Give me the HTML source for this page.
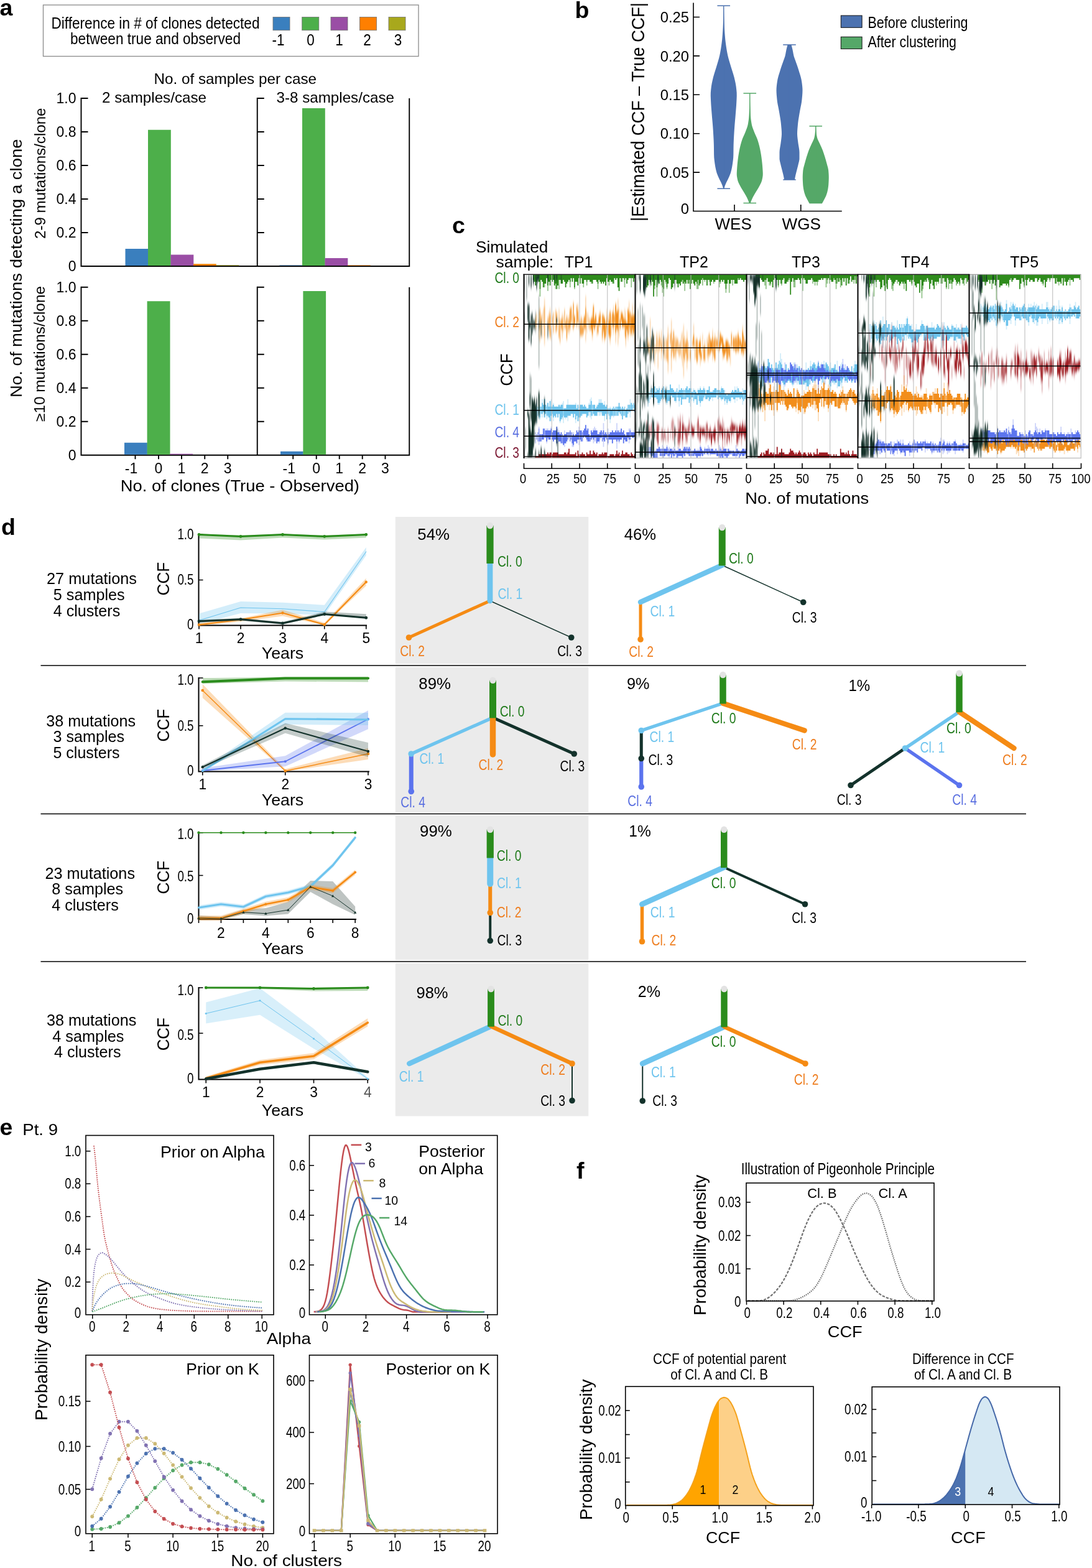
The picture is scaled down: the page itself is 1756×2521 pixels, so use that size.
<!DOCTYPE html>
<html lang="en"><head><meta charset="utf-8"><title>Figure</title>
<style>html,body{margin:0;padding:0;background:#fff}svg{display:block}text{font-family:"Liberation Sans",sans-serif}</style>
</head><body>
<svg width="1756" height="2521" viewBox="0 0 1756 2521">
<defs><filter id="b1" x="-5%" y="-50%" width="110%" height="200%"><feGaussianBlur stdDeviation="0.3 0.6"/></filter><filter id="b2" x="-5%" y="-50%" width="110%" height="200%"><feGaussianBlur stdDeviation="0.4 3.2"/></filter><filter id="b3" x="-5%" y="-50%" width="110%" height="200%"><feGaussianBlur stdDeviation="0.5 4"/></filter><filter id="b4" x="-5%" y="-5%" width="110%" height="110%"><feGaussianBlur stdDeviation="0.5 5"/></filter></defs>
<rect width="1756" height="2521" fill="#fff"/>
<g id="panel-a">
<text font-size="37.5" x="-0.5" y="24.5" font-weight="bold">a</text>
<rect x="69.5" y="8" width="603.5" height="82.5" fill="#fff" stroke="#8a8a8a" stroke-width="1.3"/>
<text x="82.5" y="46" font-size="26" textLength="335" lengthAdjust="spacingAndGlyphs">Difference in # of clones detected</text>
<text x="113" y="71" font-size="26" textLength="274" lengthAdjust="spacingAndGlyphs">between true and observed</text>
<rect x="439" y="27.5" width="27" height="21.2" fill="#3A7FBE" stroke="#6f6f6f" stroke-width="0.8"/>
<rect x="485.75" y="27.5" width="27" height="21.2" fill="#4DAF4A" stroke="#6f6f6f" stroke-width="0.8"/>
<rect x="532" y="27.5" width="27" height="21.2" fill="#9A4EA5" stroke="#6f6f6f" stroke-width="0.8"/>
<rect x="578.5" y="27.5" width="27" height="21.2" fill="#FF7F00" stroke="#6f6f6f" stroke-width="0.8"/>
<rect x="625" y="27.5" width="27" height="21.2" fill="#A8A81C" stroke="#6f6f6f" stroke-width="0.8"/>
<text text-anchor="middle" font-size="25" transform="translate(447.5,72.5) scale(0.9,1)">-1</text>
<text text-anchor="middle" font-size="25" transform="translate(499.6,72.5) scale(0.9,1)">0</text>
<text text-anchor="middle" font-size="25" transform="translate(545.6,72.5) scale(0.9,1)">1</text>
<text text-anchor="middle" font-size="25" transform="translate(590.4,72.5) scale(0.9,1)">2</text>
<text text-anchor="middle" font-size="25" transform="translate(640,72.5) scale(0.9,1)">3</text>
<text x="247.5" y="135" font-size="24" textLength="261.5" lengthAdjust="spacingAndGlyphs">No. of samples per case</text>
<text x="164" y="164.5" font-size="24" textLength="168" lengthAdjust="spacingAndGlyphs">2 samples/case</text>
<text x="444.5" y="164.5" font-size="24" textLength="189.5" lengthAdjust="spacingAndGlyphs">3-8 samples/case</text>
<path d="M130.5 157V428H659.2M413.75 157V428M658.25 158V428" fill="none" stroke="#000" stroke-width="1.9"/>
<path d="M130.5 158h11M130.5 212h11M130.5 266h11M130.5 320h11M130.5 374h11" fill="none" stroke="#000" stroke-width="1.9"/>
<path d="M413.75 158h11M413.75 212h11M413.75 266h11M413.75 320h11M413.75 374h11" fill="none" stroke="#000" stroke-width="1.9"/>
<text text-anchor="end" font-size="23" x="122.5" y="166.2">1.0</text>
<text text-anchor="end" font-size="23" x="122.5" y="220.2">0.8</text>
<text text-anchor="end" font-size="23" x="122.5" y="274.2">0.6</text>
<text text-anchor="end" font-size="23" x="122.5" y="328.2">0.4</text>
<text text-anchor="end" font-size="23" x="122.5" y="382.2">0.2</text>
<text text-anchor="end" font-size="23" x="122.5" y="436.2">0</text>
<path d="M130.5 460.75V731.75H659.2M413.75 460.75V731.75M658.25 461.75V731.75" fill="none" stroke="#000" stroke-width="1.9"/>
<path d="M130.5 461.75h11M130.5 515.75h11M130.5 569.75h11M130.5 623.75h11M130.5 677.75h11" fill="none" stroke="#000" stroke-width="1.9"/>
<path d="M413.75 461.75h11M413.75 515.75h11M413.75 569.75h11M413.75 623.75h11M413.75 677.75h11" fill="none" stroke="#000" stroke-width="1.9"/>
<text text-anchor="end" font-size="23" x="122.5" y="469.95">1.0</text>
<text text-anchor="end" font-size="23" x="122.5" y="523.95">0.8</text>
<text text-anchor="end" font-size="23" x="122.5" y="577.95">0.6</text>
<text text-anchor="end" font-size="23" x="122.5" y="631.95">0.4</text>
<text text-anchor="end" font-size="23" x="122.5" y="685.95">0.2</text>
<text text-anchor="end" font-size="23" x="122.5" y="739.95">0</text>
<rect x="201.5" y="400" width="36.8" height="27.1" fill="#3A7FBE"/>
<rect x="238" y="208.75" width="36.8" height="218.35" fill="#4DAF4A"/>
<rect x="274.5" y="409.5" width="36.8" height="17.6" fill="#9A4EA5"/>
<rect x="311" y="424.3" width="36.8" height="2.8" fill="#FF7F00"/>
<rect x="347.5" y="426.3" width="36.8" height="0.8" fill="#A8A81C"/>
<rect x="449.5" y="426.4" width="36.8" height="0.7" fill="#3A7FBE"/>
<rect x="486" y="174" width="36.8" height="253.1" fill="#4DAF4A"/>
<rect x="522.5" y="415" width="36.8" height="12.1" fill="#9A4EA5"/>
<rect x="559" y="426.4" width="36.8" height="0.7" fill="#FF7F00"/>
<rect x="200" y="711.75" width="36.9" height="19.1" fill="#3A7FBE"/>
<rect x="236.6" y="484.25" width="36.9" height="246.6" fill="#4DAF4A"/>
<rect x="273.2" y="729.6" width="36.9" height="1.25" fill="#9A4EA5"/>
<rect x="451" y="725.75" width="36.7" height="5.1" fill="#3A7FBE"/>
<rect x="487.4" y="468" width="36.7" height="262.85" fill="#4DAF4A"/>
<path d="M217.5 731.75v6.5M255 731.75v6.5M292 731.75v6.5M329.25 731.75v6.5M366.25 731.75v6.5M471.25 731.75v6.5M508.75 731.75v6.5M545.75 731.75v6.5M582.75 731.75v6.5M619.5 731.75v6.5" fill="none" stroke="#000" stroke-width="1.9"/>
<text text-anchor="middle" font-size="23" x="211" y="761.25">-1</text>
<text text-anchor="middle" font-size="23" x="255" y="761.25">0</text>
<text text-anchor="middle" font-size="23" x="292" y="761.25">1</text>
<text text-anchor="middle" font-size="23" x="329.25" y="761.25">2</text>
<text text-anchor="middle" font-size="23" x="366.25" y="761.25">3</text>
<text text-anchor="middle" font-size="23" x="464.75" y="761.25">-1</text>
<text text-anchor="middle" font-size="23" x="508.75" y="761.25">0</text>
<text text-anchor="middle" font-size="23" x="545.75" y="761.25">1</text>
<text text-anchor="middle" font-size="23" x="582.75" y="761.25">2</text>
<text text-anchor="middle" font-size="23" x="619.5" y="761.25">3</text>
<text x="193.75" y="790" font-size="25" textLength="384.25" lengthAdjust="spacingAndGlyphs">No. of clones (True - Observed)</text>
<text transform="translate(35,639) rotate(-90)" font-size="26" textLength="415.5" lengthAdjust="spacingAndGlyphs">No. of mutations detecting a clone</text>
<text transform="translate(72.5,384) rotate(-90)" font-size="23" textLength="210.5" lengthAdjust="spacingAndGlyphs">2-9 mutations/clone</text>
<text transform="translate(72,678) rotate(-90)" font-size="23" textLength="218" lengthAdjust="spacingAndGlyphs">≥10 mutations/clone</text>
</g>
<g id="panel-b">
<text font-size="37.5" x="924.5" y="28.75" font-weight="bold">b</text>
<path d="M1115 4.5V339.5H1353.75" fill="none" stroke="#000" stroke-width="1.6"/>
<path d="M1115 277.1h10M1115 214.7h10M1115 152.3h10M1115 89.9h10M1115 27.5h10" fill="none" stroke="#000" stroke-width="1.6"/>
<text text-anchor="end" font-size="24.5" transform="translate(1108,343.5) scale(0.97,1)">0</text>
<text text-anchor="end" font-size="24.5" transform="translate(1108,285.7) scale(0.97,1)">0.05</text>
<text text-anchor="end" font-size="24.5" transform="translate(1108,223.3) scale(0.97,1)">0.10</text>
<text text-anchor="end" font-size="24.5" transform="translate(1108,160.9) scale(0.97,1)">0.15</text>
<text text-anchor="end" font-size="24.5" transform="translate(1108,98.5) scale(0.97,1)">0.20</text>
<text text-anchor="end" font-size="24.5" transform="translate(1108,36.1) scale(0.97,1)">0.25</text>
<path d="M1181 339.5v-10.5M1287.75 339.5v-10.5" fill="none" stroke="#000" stroke-width="1.6"/>
<text x="1149.5" y="368.75" font-size="26" textLength="59.25" lengthAdjust="spacingAndGlyphs">WES</text>
<text x="1257.5" y="368.75" font-size="26" textLength="62.5" lengthAdjust="spacingAndGlyphs">WGS</text>
<text transform="translate(1036,356) rotate(-90)" font-size="29" textLength="352" lengthAdjust="spacingAndGlyphs">|Estimated CCF – True CCF|</text>
<rect x="1352.3" y="25" width="33.8" height="19.3" fill="#4C72B0" stroke="#111" stroke-width="1"/>
<rect x="1352.3" y="59.3" width="33.8" height="19.3" fill="#55A868" stroke="#111" stroke-width="1"/>
<text x="1395.5" y="45" font-size="26" textLength="161" lengthAdjust="spacingAndGlyphs">Before clustering</text>
<text x="1395.5" y="76.25" font-size="26" textLength="142.5" lengthAdjust="spacingAndGlyphs">After clustering</text>
<polygon points="1163.45,9.25 1163.42,14.23 1163.35,19.22 1163.24,24.2 1163.1,29.18 1162.95,34.17 1162.78,39.15 1162.58,44.13 1162.32,49.11 1162,54.1 1161.62,59.08 1161.17,64.06 1160.57,69.05 1159.89,74.03 1159.14,79.01 1158.26,84 1157.25,88.98 1156.01,93.96 1154.56,98.94 1153.06,103.93 1151.56,108.91 1149.97,113.89 1148.42,118.88 1147.03,123.86 1145.84,128.84 1144.75,133.83 1143.9,138.81 1143.31,143.79 1142.85,148.78 1142.76,153.76 1142.93,158.74 1143.18,163.72 1143.46,168.71 1143.83,173.69 1144.23,178.67 1144.64,183.66 1145.04,188.64 1145.47,193.62 1145.9,198.61 1146.3,203.59 1146.66,208.57 1146.96,213.56 1147.26,218.54 1147.53,223.52 1147.75,228.5 1147.92,233.49 1148,238.47 1148.05,243.45 1148.12,248.44 1148.32,253.42 1148.84,258.4 1149.52,263.39 1150.29,268.37 1151.32,273.35 1152.65,278.33 1154.62,283.32 1156.89,288.3 1159.48,293.28 1161.61,298.27 1163.15,303.25 1164.35,303.25 1165.89,298.27 1168.02,293.28 1170.61,288.3 1172.88,283.32 1174.85,278.33 1176.18,273.35 1177.21,268.37 1177.98,263.39 1178.66,258.4 1179.18,253.42 1179.38,248.44 1179.45,243.45 1179.5,238.47 1179.58,233.49 1179.75,228.5 1179.97,223.52 1180.24,218.54 1180.54,213.56 1180.84,208.57 1181.2,203.59 1181.6,198.61 1182.03,193.62 1182.46,188.64 1182.86,183.66 1183.27,178.67 1183.67,173.69 1184.04,168.71 1184.32,163.72 1184.57,158.74 1184.74,153.76 1184.65,148.78 1184.19,143.79 1183.6,138.81 1182.75,133.83 1181.66,128.84 1180.47,123.86 1179.08,118.88 1177.53,113.89 1175.94,108.91 1174.44,103.93 1172.94,98.94 1171.49,93.96 1170.25,88.98 1169.24,84 1168.36,79.01 1167.61,74.03 1166.93,69.05 1166.33,64.06 1165.88,59.08 1165.5,54.1 1165.18,49.11 1164.92,44.13 1164.72,39.15 1164.55,34.17 1164.4,29.18 1164.26,24.2 1164.15,19.22 1164.08,14.23 1164.05,9.25" fill="#4C72B0"/>
<path d="M1163.75 9.25V303.25M1153.45 9.25h20.6M1153.45 303.25h20.6" fill="none" stroke="#4C72B0" stroke-width="1.3"/>
<polygon points="1205.45,150 1205.44,152.99 1205.42,155.98 1205.38,158.97 1205.33,161.97 1205.27,164.96 1205.19,167.95 1205.1,170.94 1205,173.93 1204.89,176.92 1204.77,179.92 1204.65,182.91 1204.5,185.9 1204.28,188.89 1203.97,191.88 1203.58,194.87 1203.12,197.86 1202.58,200.86 1201.77,203.85 1200.73,206.84 1199.58,209.83 1198.43,212.82 1197.16,215.81 1195.79,218.81 1194.46,221.8 1193.32,224.79 1192.37,227.78 1191.49,230.77 1190.69,233.76 1189.96,236.75 1189.3,239.75 1188.71,242.74 1188.15,245.73 1187.65,248.72 1187.19,251.71 1186.79,254.7 1186.42,257.69 1186.08,260.69 1185.77,263.68 1185.5,266.67 1185.27,269.66 1185.07,272.65 1184.88,275.64 1184.76,278.64 1184.81,281.63 1185.16,284.62 1185.72,287.61 1186.4,290.6 1187.48,293.59 1188.95,296.58 1190.53,299.58 1192.18,302.57 1194.02,305.56 1195.89,308.55 1197.66,311.54 1199.41,314.53 1201.02,317.53 1202.41,320.52 1203.66,323.51 1204.75,326.5 1206.75,326.5 1207.84,323.51 1209.09,320.52 1210.48,317.53 1212.09,314.53 1213.84,311.54 1215.61,308.55 1217.48,305.56 1219.32,302.57 1220.97,299.58 1222.55,296.58 1224.02,293.59 1225.1,290.6 1225.78,287.61 1226.34,284.62 1226.69,281.63 1226.74,278.64 1226.62,275.64 1226.43,272.65 1226.23,269.66 1226,266.67 1225.73,263.68 1225.42,260.69 1225.08,257.69 1224.71,254.7 1224.31,251.71 1223.85,248.72 1223.35,245.73 1222.79,242.74 1222.2,239.75 1221.54,236.75 1220.81,233.76 1220.01,230.77 1219.13,227.78 1218.18,224.79 1217.04,221.8 1215.71,218.81 1214.34,215.81 1213.07,212.82 1211.92,209.83 1210.77,206.84 1209.73,203.85 1208.92,200.86 1208.38,197.86 1207.92,194.87 1207.53,191.88 1207.22,188.89 1207,185.9 1206.85,182.91 1206.73,179.92 1206.61,176.92 1206.5,173.93 1206.4,170.94 1206.31,167.95 1206.23,164.96 1206.17,161.97 1206.12,158.97 1206.08,155.98 1206.06,152.99 1206.05,150" fill="#55A868"/>
<path d="M1205.75 150V326.5M1195.45 150h20.6M1195.45 326.5h20.6" fill="none" stroke="#55A868" stroke-width="1.3"/>
<polygon points="1266.5,72 1265.53,75.68 1264.65,79.36 1263.89,83.03 1263.22,86.71 1262.4,90.39 1261.21,94.07 1259.82,97.75 1258.51,101.42 1257.24,105.1 1255.98,108.78 1254.78,112.46 1253.66,116.14 1252.52,119.81 1251.44,123.49 1250.52,127.17 1249.88,130.85 1249.35,134.53 1248.9,138.2 1248.59,141.88 1248.5,145.56 1248.61,149.24 1248.85,152.92 1249.18,156.59 1249.53,160.27 1249.99,163.95 1250.62,167.63 1251.34,171.31 1252.08,174.98 1252.77,178.66 1253.39,182.34 1254.01,186.02 1254.63,189.69 1255.2,193.37 1255.69,197.05 1256.07,200.73 1256.41,204.41 1256.71,208.08 1256.93,211.76 1257,215.44 1256.82,219.12 1256.43,222.8 1255.95,226.47 1255.48,230.15 1254.93,233.83 1254.28,237.51 1253.74,241.19 1253.5,244.86 1253.5,248.54 1253.5,252.22 1253.53,255.9 1254.12,259.58 1255.07,263.25 1255.95,266.93 1256.87,270.61 1257.82,274.29 1258.78,277.97 1259.71,281.64 1260.43,285.32 1261,289 1278,289 1278.57,285.32 1279.29,281.64 1280.22,277.97 1281.18,274.29 1282.13,270.61 1283.05,266.93 1283.93,263.25 1284.88,259.58 1285.47,255.9 1285.5,252.22 1285.5,248.54 1285.5,244.86 1285.26,241.19 1284.72,237.51 1284.07,233.83 1283.52,230.15 1283.05,226.47 1282.57,222.8 1282.18,219.12 1282,215.44 1282.07,211.76 1282.29,208.08 1282.59,204.41 1282.93,200.73 1283.31,197.05 1283.8,193.37 1284.37,189.69 1284.99,186.02 1285.61,182.34 1286.23,178.66 1286.92,174.98 1287.66,171.31 1288.38,167.63 1289.01,163.95 1289.47,160.27 1289.82,156.59 1290.15,152.92 1290.39,149.24 1290.5,145.56 1290.41,141.88 1290.1,138.2 1289.65,134.53 1289.12,130.85 1288.48,127.17 1287.56,123.49 1286.48,119.81 1285.34,116.14 1284.22,112.46 1283.02,108.78 1281.76,105.1 1280.49,101.42 1279.18,97.75 1277.79,94.07 1276.6,90.39 1275.78,86.71 1275.11,83.03 1274.35,79.36 1273.47,75.68 1272.5,72" fill="#4C72B0"/>
<path d="M1269.5 72V289M1259.2 72h20.6M1259.2 289h20.6" fill="none" stroke="#4C72B0" stroke-width="1.3"/>
<polygon points="1311.25,202.75 1311.22,204.85 1311.15,206.94 1311.03,209.04 1310.88,211.14 1310.71,213.24 1310.52,215.33 1310.24,217.43 1309.84,219.53 1309.35,221.63 1308.69,223.72 1307.77,225.82 1306.74,227.92 1305.74,230.02 1304.79,232.11 1303.81,234.21 1302.83,236.31 1301.91,238.41 1301.05,240.5 1300.26,242.6 1299.51,244.7 1298.79,246.8 1298.11,248.89 1297.44,250.99 1296.78,253.09 1296.15,255.19 1295.54,257.28 1294.95,259.38 1294.39,261.48 1293.83,263.58 1293.24,265.67 1292.65,267.77 1292.12,269.87 1291.67,271.97 1291.34,274.06 1291.16,276.16 1291.01,278.26 1290.88,280.36 1290.79,282.45 1290.75,284.55 1290.76,286.65 1290.81,288.75 1290.89,290.84 1291,292.94 1291.12,295.04 1291.26,297.14 1291.45,299.23 1291.72,301.33 1292.06,303.43 1292.45,305.53 1292.88,307.62 1293.43,309.72 1294.09,311.82 1294.84,313.92 1295.68,316.01 1296.71,318.11 1297.83,320.21 1298.94,322.31 1300.08,324.4 1301.25,326.5 1322.25,326.5 1323.42,324.4 1324.56,322.31 1325.67,320.21 1326.79,318.11 1327.82,316.01 1328.66,313.92 1329.41,311.82 1330.07,309.72 1330.62,307.62 1331.05,305.53 1331.44,303.43 1331.78,301.33 1332.05,299.23 1332.24,297.14 1332.38,295.04 1332.5,292.94 1332.61,290.84 1332.69,288.75 1332.74,286.65 1332.75,284.55 1332.71,282.45 1332.62,280.36 1332.49,278.26 1332.34,276.16 1332.16,274.06 1331.83,271.97 1331.38,269.87 1330.85,267.77 1330.26,265.67 1329.67,263.58 1329.11,261.48 1328.55,259.38 1327.96,257.28 1327.35,255.19 1326.72,253.09 1326.06,250.99 1325.39,248.89 1324.71,246.8 1323.99,244.7 1323.24,242.6 1322.45,240.5 1321.59,238.41 1320.67,236.31 1319.69,234.21 1318.71,232.11 1317.76,230.02 1316.76,227.92 1315.73,225.82 1314.81,223.72 1314.15,221.63 1313.66,219.53 1313.26,217.43 1312.98,215.33 1312.79,213.24 1312.62,211.14 1312.47,209.04 1312.35,206.94 1312.28,204.85 1312.25,202.75" fill="#55A868"/>
<path d="M1311.75 202.75V326.5M1301.45 202.75h20.6M1301.45 326.5h20.6" fill="none" stroke="#55A868" stroke-width="1.3"/>
</g>
<g id="panel-c">
<text font-size="37.5" x="727" y="375" font-weight="bold">c</text>
<text x="765" y="405.75" font-size="25" textLength="116.25" lengthAdjust="spacingAndGlyphs">Simulated</text>
<text x="797.5" y="429.5" font-size="25" textLength="92.5" lengthAdjust="spacingAndGlyphs">sample:</text>
<text text-anchor="middle" font-size="25" x="930.6" y="429.8">TP1</text>
<text text-anchor="middle" font-size="25" x="1116" y="429.8">TP2</text>
<text text-anchor="middle" font-size="25" x="1296" y="429.8">TP3</text>
<text text-anchor="middle" font-size="25" x="1471.75" y="429.8">TP4</text>
<text text-anchor="middle" font-size="25" x="1647.25" y="429.8">TP5</text>
<text transform="translate(823.75,620.5) rotate(-90)" font-size="28" textLength="52" lengthAdjust="spacingAndGlyphs">CCF</text>
<text x="795.5" y="454.5" font-size="23.5" textLength="39.5" lengthAdjust="spacingAndGlyphs" fill="#1F7A1A">Cl. 0</text>
<text x="795.5" y="525.5" font-size="23.5" textLength="39.5" lengthAdjust="spacingAndGlyphs" fill="#EE7D1E">Cl. 2</text>
<text x="795.5" y="667" font-size="23.5" textLength="39.5" lengthAdjust="spacingAndGlyphs" fill="#6DC3EC">Cl. 1</text>
<text x="795.5" y="703" font-size="23.5" textLength="39.5" lengthAdjust="spacingAndGlyphs" fill="#5A6FE0">Cl. 4</text>
<text x="795.5" y="735.5" font-size="23.5" textLength="39.5" lengthAdjust="spacingAndGlyphs" fill="#7A1530">Cl. 3</text>
<clipPath id="cc"><rect x="842.5" y="441.25" width="895" height="295.25"/></clipPath>
<g clip-path="url(#cc)">
<path d="M867.56 464.85h1.79V476.65h-1.79zM874.72 456h1.79V461.9h-1.79zM880.09 458.95h1.79V467.8h-1.79zM892.62 456h1.79V464.85h-1.79zM897.99 450.1h1.79V464.85h-1.79zM915.89 453.05h1.79V461.9h-1.79zM923.05 461.9h1.79V464.85h-1.79zM937.37 456h1.79V461.9h-1.79zM942.74 453.05h1.79V458.95h-1.79zM949.9 453.05h1.79V456h-1.79zM960.64 456h1.79V464.85h-1.79zM978.54 453.05h1.79V458.95h-1.79zM983.91 453.05h1.79V456h-1.79zM1000.02 447.15h1.79V453.05h-1.79zM1003.6 450.1h1.79V461.9h-1.79zM1014.34 447.15h1.79V461.9h-1.79z" fill="#2E8B1F" opacity="0.5" filter="url(#b1)"/>
<path d="M856.82 441.25h1.79V450.1h-1.79zM858.61 441.25h1.79V453.05h-1.79zM860.4 441.25h1.79V458.95h-1.79zM862.19 441.25h1.79V453.05h-1.79zM863.98 441.25h1.79V447.15h-1.79zM865.77 441.25h1.79V453.05h-1.79zM867.56 441.25h1.79V464.85h-1.79zM869.35 441.25h1.79V450.1h-1.79zM871.14 441.25h1.79V453.05h-1.79zM872.93 441.25h1.79V461.9h-1.79zM874.72 441.25h1.79V456h-1.79zM876.51 441.25h1.79V456h-1.79zM878.3 441.25h1.79V447.15h-1.79zM880.09 441.25h1.79V458.95h-1.79zM881.88 441.25h1.79V453.05h-1.79zM883.67 441.25h1.79V458.95h-1.79zM885.46 441.25h1.79V450.1h-1.79zM887.25 441.25h1.79V453.05h-1.79zM889.04 441.25h1.79V450.1h-1.79zM890.83 441.25h1.79V458.95h-1.79zM892.62 441.25h1.79V456h-1.79zM894.41 441.25h1.79V464.85h-1.79zM896.2 441.25h1.79V458.95h-1.79zM897.99 441.25h1.79V450.1h-1.79zM899.78 441.25h1.79V450.1h-1.79zM901.57 441.25h1.79V456h-1.79zM903.36 441.25h1.79V456h-1.79zM905.15 441.25h1.79V450.1h-1.79zM906.94 441.25h1.79V453.05h-1.79zM908.73 441.25h1.79V461.9h-1.79zM910.52 441.25h1.79V456h-1.79zM912.31 441.25h1.79V453.05h-1.79zM914.1 441.25h1.79V450.1h-1.79zM915.89 441.25h1.79V453.05h-1.79zM917.68 441.25h1.79V447.15h-1.79zM919.47 441.25h1.79V453.05h-1.79zM921.26 441.25h1.79V447.15h-1.79zM923.05 441.25h1.79V461.9h-1.79zM924.84 441.25h1.79V453.05h-1.79zM926.63 441.25h1.79V453.05h-1.79zM928.42 441.25h1.79V458.95h-1.79zM930.21 441.25h1.79V447.15h-1.79zM932 441.25h1.79V456h-1.79zM933.79 441.25h1.79V447.15h-1.79zM935.58 441.25h1.79V456h-1.79zM937.37 441.25h1.79V456h-1.79zM939.16 441.25h1.79V450.1h-1.79zM940.95 441.25h1.79V450.1h-1.79zM942.74 441.25h1.79V453.05h-1.79zM944.53 441.25h1.79V450.1h-1.79zM946.32 441.25h1.79V450.1h-1.79zM948.11 441.25h1.79V453.05h-1.79zM949.9 441.25h1.79V453.05h-1.79zM951.69 441.25h1.79V456h-1.79zM953.48 441.25h1.79V450.1h-1.79zM955.27 441.25h1.79V450.1h-1.79zM957.06 441.25h1.79V450.1h-1.79zM958.85 441.25h1.79V453.05h-1.79zM960.64 441.25h1.79V456h-1.79zM962.43 441.25h1.79V450.1h-1.79zM964.22 441.25h1.79V453.05h-1.79zM966.01 441.25h1.79V456h-1.79zM967.8 441.25h1.79V453.05h-1.79zM969.59 441.25h1.79V456h-1.79zM971.38 441.25h1.79V453.05h-1.79zM973.17 441.25h1.79V458.95h-1.79zM974.96 441.25h1.79V447.15h-1.79zM976.75 441.25h1.79V453.05h-1.79zM978.54 441.25h1.79V453.05h-1.79zM980.33 441.25h1.79V450.1h-1.79zM982.12 441.25h1.79V453.05h-1.79zM983.91 441.25h1.79V453.05h-1.79zM985.7 441.25h1.79V456h-1.79zM987.49 441.25h1.79V447.15h-1.79zM989.28 441.25h1.79V450.1h-1.79zM991.07 441.25h1.79V447.15h-1.79zM992.86 441.25h1.79V461.9h-1.79zM994.65 441.25h1.79V467.8h-1.79zM996.44 441.25h1.79V447.15h-1.79zM998.23 441.25h1.79V453.05h-1.79zM1000.02 441.25h1.79V447.15h-1.79zM1001.81 441.25h1.79V447.15h-1.79zM1003.6 441.25h1.79V450.1h-1.79zM1005.39 441.25h1.79V447.15h-1.79zM1007.18 441.25h1.79V456h-1.79zM1008.97 441.25h1.79V450.1h-1.79zM1010.76 441.25h1.79V447.15h-1.79zM1012.55 441.25h1.79V447.15h-1.79zM1014.34 441.25h1.79V447.15h-1.79zM1016.13 441.25h1.79V447.15h-1.79zM1017.92 441.25h1.79V453.05h-1.79zM1019.71 441.25h1.79V447.15h-1.79z" fill="#2E8B1F" filter="url(#b1)"/>
<path d="M860.4 508.7h1.79V524.74h-1.79zM862.19 504.33h1.79V527.48h-1.79zM865.77 499.55h1.79V544.53h-1.79zM867.56 494.24h1.79V550.37h-1.79zM869.35 512.36h1.79V538.35h-1.79zM871.14 504.38h1.79V542.72h-1.79zM872.93 496.22h1.79V526.04h-1.79zM874.72 480.45h1.79V554.85h-1.79zM881.88 501.71h1.79V524.99h-1.79zM883.67 495.27h1.79V536.17h-1.79zM885.46 528.22h1.79V546.79h-1.79zM897.99 496.94h1.79V539.44h-1.79zM903.36 503.66h1.79V543.46h-1.79zM905.15 508.55h1.79V533.24h-1.79zM914.1 505.95h1.79V537.51h-1.79zM915.89 500.36h1.79V532.16h-1.79zM919.47 504.46h1.79V527.16h-1.79zM928.42 489.33h1.79V517.2h-1.79zM932 516h1.79V541.92h-1.79zM935.58 514.56h1.79V540.28h-1.79zM937.37 510.32h1.79V535.17h-1.79zM940.95 475.93h1.79V548.38h-1.79zM942.74 501.99h1.79V535.13h-1.79zM944.53 503.12h1.79V522.04h-1.79zM951.69 500.95h1.79V545.81h-1.79zM955.27 511.54h1.79V528.97h-1.79zM958.85 513.71h1.79V539.32h-1.79zM962.43 503.54h1.79V522.55h-1.79zM964.22 499.67h1.79V527.27h-1.79zM967.8 507.18h1.79V548.8h-1.79zM969.59 508.34h1.79V533.41h-1.79zM971.38 513.63h1.79V549.61h-1.79zM974.96 498.12h1.79V535.79h-1.79zM976.75 508.78h1.79V536.67h-1.79zM978.54 503.4h1.79V544.84h-1.79zM980.33 506.23h1.79V552.77h-1.79zM982.12 509.34h1.79V539.66h-1.79zM983.91 503.43h1.79V527.43h-1.79zM985.7 492.2h1.79V536.89h-1.79zM989.28 492.08h1.79V551.19h-1.79zM992.86 481.83h1.79V554.52h-1.79zM994.65 495.36h1.79V542.22h-1.79zM1003.6 497.16h1.79V540.52h-1.79zM1005.39 501.34h1.79V556.58h-1.79zM1008.97 496.45h1.79V546.52h-1.79zM1010.76 484.93h1.79V536.64h-1.79zM1012.55 501.21h1.79V540.57h-1.79zM1016.13 490.29h1.79V540.63h-1.79zM1019.71 489.58h1.79V552.7h-1.79z" fill="#F28E1C" opacity="0.3" filter="url(#b2)"/>
<path d="M860.4 512.04h1.79V526.96h-1.79zM867.56 500.11h1.79V529.87h-1.79zM869.35 507.11h1.79V524.25h-1.79zM874.72 493.24h1.79V541.66h-1.79zM880.09 509.78h1.79V528.42h-1.79zM881.88 510.34h1.79V532.55h-1.79zM887.25 508.5h1.79V522.68h-1.79zM889.04 502.68h1.79V535.14h-1.79zM892.62 498.6h1.79V534.05h-1.79zM897.99 510.51h1.79V544.1h-1.79zM899.78 515.36h1.79V551.04h-1.79zM906.94 497.69h1.79V527.54h-1.79zM912.31 511.88h1.79V534.13h-1.79zM930.21 512.18h1.79V528.76h-1.79zM937.37 515.56h1.79V536.91h-1.79zM946.32 510.74h1.79V529.09h-1.79zM948.11 515.23h1.79V531.12h-1.79z" fill="#F28E1C" opacity="0.5" filter="url(#b2)"/>
<path d="M883.67 504.91h1.79V542.94h-1.79zM894.41 502.21h1.79V532.42h-1.79zM901.57 512.72h1.79V528.5h-1.79zM903.36 512.33h1.79V531.55h-1.79zM908.73 515.73h1.79V528.41h-1.79zM910.52 508.32h1.79V545.77h-1.79zM914.1 514.84h1.79V529h-1.79zM915.89 495.87h1.79V526.05h-1.79zM917.68 493.94h1.79V518.48h-1.79zM921.26 487.04h1.79V529.1h-1.79zM926.63 491.65h1.79V525.19h-1.79zM928.42 499.55h1.79V517.31h-1.79zM932 519.92h1.79V538.29h-1.79zM933.79 510.23h1.79V539.88h-1.79zM935.58 523.96h1.79V538.01h-1.79zM940.95 495.41h1.79V528.02h-1.79zM967.8 506.3h1.79V542.12h-1.79zM973.17 518.5h1.79V542.56h-1.79zM974.96 509.15h1.79V527.07h-1.79zM983.91 502.5h1.79V522.42h-1.79zM987.49 506.99h1.79V520.57h-1.79zM1012.55 503.11h1.79V532.3h-1.79z" fill="#F28E1C" opacity="0.75" filter="url(#b2)"/>
<path d="M923.05 508.11h1.79V522.93h-1.79zM939.16 508.23h1.79V528.59h-1.79zM949.9 511.78h1.79V529.85h-1.79zM951.69 510.7h1.79V537.47h-1.79zM953.48 491.43h1.79V525.36h-1.79zM955.27 513.7h1.79V529.14h-1.79zM957.06 505.39h1.79V523.07h-1.79zM960.64 520.29h1.79V536.1h-1.79zM962.43 509.92h1.79V521.92h-1.79zM964.22 505.51h1.79V521.57h-1.79zM969.59 507.85h1.79V531.99h-1.79zM971.38 511.76h1.79V543.93h-1.79zM978.54 515.23h1.79V539.08h-1.79zM980.33 500.97h1.79V543.31h-1.79zM985.7 503.19h1.79V526.16h-1.79zM989.28 489.03h1.79V534.48h-1.79zM991.07 501.3h1.79V528.38h-1.79zM992.86 498.23h1.79V532h-1.79zM996.44 513.37h1.79V528.12h-1.79zM998.23 502.39h1.79V516.04h-1.79zM1000.02 503.69h1.79V525.87h-1.79zM1001.81 510.75h1.79V525.46h-1.79zM1003.6 513.45h1.79V524.51h-1.79zM1005.39 515.46h1.79V543h-1.79zM1007.18 519.68h1.79V530.87h-1.79zM1008.97 498.16h1.79V538.01h-1.79zM1010.76 503.1h1.79V524.97h-1.79zM1014.34 507.2h1.79V537.34h-1.79zM1016.13 507.79h1.79V529.37h-1.79zM1017.92 506.58h1.79V536.58h-1.79zM1019.71 505.22h1.79V530.38h-1.79z" fill="#F28E1C" filter="url(#b2)"/>
<path d="M860.4 650.7h1.79V668.4h-1.79zM860.4 650.7h1.79V668.4h-1.79zM862.19 647.75h1.79V680.2h-1.79zM865.77 656.6h1.79V674.3h-1.79zM867.56 650.7h1.79V674.3h-1.79zM871.14 641.85h1.79V671.35h-1.79zM878.3 650.7h1.79V674.3h-1.79zM880.09 647.75h1.79V671.35h-1.79zM885.46 641.85h1.79V677.25h-1.79zM887.25 650.7h1.79V668.4h-1.79zM889.04 647.75h1.79V677.25h-1.79zM890.83 653.65h1.79V668.4h-1.79zM894.41 653.65h1.79V665.45h-1.79zM899.78 650.7h1.79V680.2h-1.79zM903.36 647.75h1.79V674.3h-1.79zM905.15 644.8h1.79V680.2h-1.79zM908.73 656.6h1.79V674.3h-1.79zM912.31 641.85h1.79V677.25h-1.79zM915.89 650.7h1.79V668.4h-1.79zM924.84 647.75h1.79V680.2h-1.79zM926.63 656.6h1.79V668.4h-1.79zM930.21 653.65h1.79V677.25h-1.79zM933.79 650.7h1.79V668.4h-1.79zM935.58 650.7h1.79V668.4h-1.79zM946.32 647.75h1.79V668.4h-1.79zM948.11 641.85h1.79V671.35h-1.79zM949.9 638.9h1.79V674.3h-1.79zM958.85 650.7h1.79V668.4h-1.79zM962.43 641.85h1.79V668.4h-1.79zM964.22 641.85h1.79V668.4h-1.79zM966.01 641.85h1.79V665.45h-1.79zM971.38 644.8h1.79V677.25h-1.79zM973.17 653.65h1.79V665.45h-1.79zM980.33 653.65h1.79V680.2h-1.79zM982.12 656.6h1.79V671.35h-1.79zM985.7 653.65h1.79V671.35h-1.79zM1012.55 641.85h1.79V671.35h-1.79z" fill="#6DC3EC" opacity="0.3" filter="url(#b1)"/>
<path d="M862.19 656.6h1.79V671.35h-1.79zM863.98 653.65h1.79V668.4h-1.79zM865.77 659.55h1.79V671.35h-1.79z" fill="#6DC3EC" opacity="0.5" filter="url(#b1)"/>
<path d="M867.56 653.65h1.79V671.35h-1.79zM869.35 653.65h1.79V665.45h-1.79zM878.3 653.65h1.79V668.4h-1.79zM905.15 656.6h1.79V668.4h-1.79zM951.69 650.7h1.79V668.4h-1.79zM978.54 656.6h1.79V668.4h-1.79zM985.7 653.65h1.79V668.4h-1.79zM989.28 653.65h1.79V668.4h-1.79zM991.07 653.65h1.79V668.4h-1.79zM998.23 656.6h1.79V668.4h-1.79zM1001.81 656.6h1.79V668.4h-1.79zM1003.6 653.65h1.79V668.4h-1.79zM1008.97 650.7h1.79V665.45h-1.79zM1012.55 650.7h1.79V662.5h-1.79zM1016.13 650.7h1.79V659.55h-1.79zM1017.92 647.75h1.79V656.6h-1.79z" fill="#6DC3EC" opacity="0.75" filter="url(#b1)"/>
<path d="M871.14 647.75h1.79V665.45h-1.79zM872.93 650.7h1.79V662.5h-1.79zM874.72 641.85h1.79V671.35h-1.79zM876.51 650.7h1.79V665.45h-1.79zM880.09 647.75h1.79V668.4h-1.79zM881.88 653.65h1.79V671.35h-1.79zM883.67 644.8h1.79V677.25h-1.79zM885.46 653.65h1.79V668.4h-1.79zM887.25 653.65h1.79V665.45h-1.79zM889.04 650.7h1.79V671.35h-1.79zM890.83 653.65h1.79V668.4h-1.79zM892.62 653.65h1.79V671.35h-1.79zM894.41 653.65h1.79V665.45h-1.79zM896.2 653.65h1.79V671.35h-1.79zM897.99 650.7h1.79V665.45h-1.79zM899.78 653.65h1.79V677.25h-1.79zM901.57 650.7h1.79V674.3h-1.79zM903.36 650.7h1.79V671.35h-1.79zM906.94 656.6h1.79V671.35h-1.79zM908.73 656.6h1.79V671.35h-1.79zM910.52 650.7h1.79V671.35h-1.79zM912.31 650.7h1.79V668.4h-1.79zM914.1 650.7h1.79V668.4h-1.79zM915.89 650.7h1.79V668.4h-1.79zM917.68 650.7h1.79V665.45h-1.79zM919.47 650.7h1.79V665.45h-1.79zM921.26 650.7h1.79V671.35h-1.79zM923.05 650.7h1.79V665.45h-1.79zM924.84 650.7h1.79V674.3h-1.79zM926.63 656.6h1.79V668.4h-1.79zM928.42 650.7h1.79V677.25h-1.79zM930.21 659.55h1.79V671.35h-1.79zM932 650.7h1.79V671.35h-1.79zM933.79 650.7h1.79V668.4h-1.79zM935.58 650.7h1.79V665.45h-1.79zM937.37 653.65h1.79V665.45h-1.79zM939.16 650.7h1.79V665.45h-1.79zM940.95 653.65h1.79V665.45h-1.79zM942.74 656.6h1.79V671.35h-1.79zM944.53 656.6h1.79V668.4h-1.79zM946.32 650.7h1.79V662.5h-1.79zM948.11 650.7h1.79V662.5h-1.79zM949.9 644.8h1.79V668.4h-1.79zM953.48 650.7h1.79V665.45h-1.79zM955.27 650.7h1.79V668.4h-1.79zM957.06 656.6h1.79V668.4h-1.79zM958.85 653.65h1.79V668.4h-1.79zM960.64 650.7h1.79V662.5h-1.79zM962.43 647.75h1.79V662.5h-1.79zM964.22 647.75h1.79V662.5h-1.79zM966.01 647.75h1.79V662.5h-1.79zM967.8 647.75h1.79V668.4h-1.79zM969.59 650.7h1.79V668.4h-1.79zM971.38 650.7h1.79V668.4h-1.79zM973.17 653.65h1.79V665.45h-1.79zM974.96 650.7h1.79V674.3h-1.79zM976.75 656.6h1.79V665.45h-1.79zM980.33 656.6h1.79V674.3h-1.79zM982.12 659.55h1.79V668.4h-1.79zM983.91 656.6h1.79V668.4h-1.79zM987.49 656.6h1.79V668.4h-1.79zM992.86 653.65h1.79V668.4h-1.79zM994.65 647.75h1.79V662.5h-1.79zM996.44 653.65h1.79V665.45h-1.79zM1000.02 653.65h1.79V674.3h-1.79zM1005.39 659.55h1.79V671.35h-1.79zM1007.18 656.6h1.79V671.35h-1.79zM1010.76 650.7h1.79V662.5h-1.79zM1014.34 647.75h1.79V659.55h-1.79zM1019.71 650.7h1.79V662.5h-1.79z" fill="#6DC3EC" filter="url(#b1)"/>
<path d="M860.4 694.95h1.79V712.65h-1.79zM865.77 686.1h1.79V715.6h-1.79zM878.3 689.05h1.79V712.65h-1.79zM880.09 689.05h1.79V706.75h-1.79zM885.46 686.1h1.79V703.8h-1.79zM896.2 689.05h1.79V712.65h-1.79zM897.99 692h1.79V709.7h-1.79zM905.15 700.85h1.79V715.6h-1.79zM906.94 692h1.79V718.55h-1.79zM919.47 694.95h1.79V718.55h-1.79zM921.26 694.95h1.79V718.55h-1.79zM930.21 686.1h1.79V715.6h-1.79zM942.74 689.05h1.79V709.7h-1.79zM953.48 689.05h1.79V712.65h-1.79zM955.27 686.1h1.79V709.7h-1.79zM957.06 689.05h1.79V709.7h-1.79zM960.64 697.9h1.79V709.7h-1.79zM962.43 694.95h1.79V712.65h-1.79zM964.22 692h1.79V706.75h-1.79zM969.59 680.2h1.79V718.55h-1.79zM971.38 694.95h1.79V709.7h-1.79zM976.75 689.05h1.79V715.6h-1.79zM983.91 692h1.79V712.65h-1.79zM991.07 680.2h1.79V721.5h-1.79zM994.65 692h1.79V712.65h-1.79zM996.44 692h1.79V706.75h-1.79zM998.23 689.05h1.79V706.75h-1.79zM1003.6 697.9h1.79V706.75h-1.79zM1010.76 689.05h1.79V712.65h-1.79zM1012.55 689.05h1.79V706.75h-1.79zM1014.34 694.95h1.79V700.85h-1.79zM1016.13 694.95h1.79V703.8h-1.79zM1017.92 692h1.79V703.8h-1.79z" fill="#5B74EE" opacity="0.3" filter="url(#b1)"/>
<path d="M862.19 697.9h1.79V706.75h-1.79zM863.98 694.95h1.79V709.7h-1.79zM865.77 689.05h1.79V709.7h-1.79z" fill="#5B74EE" opacity="0.5" filter="url(#b1)"/>
<path d="M869.35 697.9h1.79V709.7h-1.79zM874.72 689.05h1.79V703.8h-1.79zM903.36 697.9h1.79V712.65h-1.79zM912.31 694.95h1.79V706.75h-1.79zM914.1 694.95h1.79V703.8h-1.79zM915.89 692h1.79V709.7h-1.79zM917.68 694.95h1.79V706.75h-1.79zM935.58 694.95h1.79V709.7h-1.79zM948.11 700.85h1.79V709.7h-1.79zM967.8 694.95h1.79V709.7h-1.79zM976.75 694.95h1.79V712.65h-1.79zM1012.55 692h1.79V706.75h-1.79z" fill="#5B74EE" opacity="0.75" filter="url(#b1)"/>
<path d="M867.56 697.9h1.79V709.7h-1.79zM871.14 697.9h1.79V706.75h-1.79zM872.93 689.05h1.79V706.75h-1.79zM876.51 692h1.79V703.8h-1.79zM878.3 692h1.79V709.7h-1.79zM880.09 692h1.79V703.8h-1.79zM881.88 692h1.79V706.75h-1.79zM883.67 692h1.79V706.75h-1.79zM885.46 689.05h1.79V700.85h-1.79zM887.25 694.95h1.79V706.75h-1.79zM889.04 692h1.79V709.7h-1.79zM890.83 692h1.79V706.75h-1.79zM892.62 692h1.79V706.75h-1.79zM894.41 686.1h1.79V712.65h-1.79zM896.2 694.95h1.79V706.75h-1.79zM897.99 694.95h1.79V709.7h-1.79zM899.78 697.9h1.79V709.7h-1.79zM901.57 694.95h1.79V712.65h-1.79zM905.15 700.85h1.79V715.6h-1.79zM906.94 697.9h1.79V712.65h-1.79zM908.73 697.9h1.79V712.65h-1.79zM910.52 694.95h1.79V709.7h-1.79zM919.47 700.85h1.79V712.65h-1.79zM921.26 697.9h1.79V715.6h-1.79zM923.05 700.85h1.79V709.7h-1.79zM924.84 697.9h1.79V709.7h-1.79zM926.63 692h1.79V712.65h-1.79zM928.42 694.95h1.79V706.75h-1.79zM930.21 692h1.79V706.75h-1.79zM932 692h1.79V706.75h-1.79zM933.79 692h1.79V709.7h-1.79zM937.37 692h1.79V703.8h-1.79zM939.16 689.05h1.79V700.85h-1.79zM940.95 683.15h1.79V703.8h-1.79zM942.74 692h1.79V706.75h-1.79zM944.53 689.05h1.79V709.7h-1.79zM946.32 697.9h1.79V709.7h-1.79zM949.9 692h1.79V706.75h-1.79zM951.69 694.95h1.79V703.8h-1.79zM953.48 692h1.79V706.75h-1.79zM955.27 692h1.79V703.8h-1.79zM957.06 692h1.79V703.8h-1.79zM958.85 692h1.79V712.65h-1.79zM960.64 697.9h1.79V709.7h-1.79zM962.43 697.9h1.79V709.7h-1.79zM964.22 694.95h1.79V703.8h-1.79zM966.01 692h1.79V703.8h-1.79zM969.59 692h1.79V706.75h-1.79zM971.38 697.9h1.79V709.7h-1.79zM973.17 694.95h1.79V703.8h-1.79zM974.96 697.9h1.79V706.75h-1.79zM978.54 697.9h1.79V706.75h-1.79zM980.33 694.95h1.79V706.75h-1.79zM982.12 694.95h1.79V706.75h-1.79zM983.91 692h1.79V712.65h-1.79zM985.7 694.95h1.79V706.75h-1.79zM987.49 694.95h1.79V706.75h-1.79zM989.28 692h1.79V706.75h-1.79zM991.07 694.95h1.79V709.7h-1.79zM992.86 692h1.79V706.75h-1.79zM994.65 694.95h1.79V709.7h-1.79zM996.44 694.95h1.79V706.75h-1.79zM998.23 689.05h1.79V706.75h-1.79zM1000.02 694.95h1.79V703.8h-1.79zM1001.81 692h1.79V712.65h-1.79zM1003.6 697.9h1.79V706.75h-1.79zM1005.39 700.85h1.79V709.7h-1.79zM1007.18 694.95h1.79V709.7h-1.79zM1008.97 694.95h1.79V703.8h-1.79zM1010.76 694.95h1.79V706.75h-1.79zM1014.34 694.95h1.79V700.85h-1.79zM1016.13 694.95h1.79V703.8h-1.79zM1017.92 694.95h1.79V703.8h-1.79zM1019.71 694.95h1.79V700.85h-1.79z" fill="#5B74EE" filter="url(#b1)"/>
<path d="M860.4 733.3h1.79V736.5h-1.79zM862.19 733.3h1.79V736.5h-1.79zM863.98 733.3h1.79V736.5h-1.79zM865.77 730.35h1.79V736.5h-1.79zM867.56 730.35h1.79V736.5h-1.79zM869.35 727.4h1.79V736.5h-1.79zM871.14 730.35h1.79V736.5h-1.79zM872.93 730.35h1.79V736.5h-1.79zM874.72 730.35h1.79V736.5h-1.79zM876.51 730.35h1.79V736.5h-1.79zM878.3 730.35h1.79V736.5h-1.79zM880.09 727.4h1.79V736.5h-1.79zM881.88 730.35h1.79V736.5h-1.79zM883.67 727.4h1.79V736.5h-1.79zM885.46 727.4h1.79V736.5h-1.79zM887.25 730.35h1.79V736.5h-1.79zM889.04 727.4h1.79V736.5h-1.79zM890.83 727.4h1.79V736.5h-1.79zM892.62 727.4h1.79V736.5h-1.79zM894.41 727.4h1.79V736.5h-1.79zM896.2 727.4h1.79V736.5h-1.79zM897.99 730.35h1.79V736.5h-1.79zM899.78 730.35h1.79V736.5h-1.79zM901.57 730.35h1.79V736.5h-1.79zM903.36 730.35h1.79V736.5h-1.79zM905.15 730.35h1.79V736.5h-1.79zM906.94 727.4h1.79V736.5h-1.79zM908.73 727.4h1.79V736.5h-1.79zM910.52 730.35h1.79V736.5h-1.79zM912.31 727.4h1.79V736.5h-1.79zM914.1 721.5h1.79V736.5h-1.79zM915.89 730.35h1.79V736.5h-1.79zM917.68 730.35h1.79V736.5h-1.79zM919.47 730.35h1.79V736.5h-1.79zM921.26 730.35h1.79V736.5h-1.79zM923.05 730.35h1.79V736.5h-1.79zM924.84 727.4h1.79V736.5h-1.79zM926.63 733.3h1.79V736.5h-1.79zM928.42 724.45h1.79V736.5h-1.79zM930.21 730.35h1.79V736.5h-1.79zM932 730.35h1.79V736.5h-1.79zM933.79 730.35h1.79V736.5h-1.79zM935.58 727.4h1.79V736.5h-1.79zM937.37 730.35h1.79V736.5h-1.79zM939.16 730.35h1.79V736.5h-1.79zM940.95 733.3h1.79V736.5h-1.79zM942.74 727.4h1.79V736.5h-1.79zM944.53 730.35h1.79V736.5h-1.79zM946.32 730.35h1.79V736.5h-1.79zM948.11 724.45h1.79V736.5h-1.79zM949.9 730.35h1.79V736.5h-1.79zM951.69 730.35h1.79V736.5h-1.79zM953.48 724.45h1.79V736.5h-1.79zM955.27 727.4h1.79V736.5h-1.79zM957.06 730.35h1.79V736.5h-1.79zM958.85 727.4h1.79V736.5h-1.79zM960.64 733.3h1.79V736.5h-1.79zM962.43 730.35h1.79V736.5h-1.79zM964.22 730.35h1.79V736.5h-1.79zM966.01 730.35h1.79V736.5h-1.79zM967.8 727.4h1.79V736.5h-1.79zM969.59 730.35h1.79V736.5h-1.79zM971.38 727.4h1.79V736.5h-1.79zM973.17 727.4h1.79V736.5h-1.79zM974.96 727.4h1.79V736.5h-1.79zM976.75 733.3h1.79V736.5h-1.79zM978.54 733.3h1.79V736.5h-1.79zM980.33 730.35h1.79V736.5h-1.79zM982.12 730.35h1.79V736.5h-1.79zM983.91 730.35h1.79V736.5h-1.79zM985.7 730.35h1.79V736.5h-1.79zM987.49 733.3h1.79V736.5h-1.79zM989.28 730.35h1.79V736.5h-1.79zM991.07 724.45h1.79V736.5h-1.79zM992.86 730.35h1.79V736.5h-1.79zM994.65 727.4h1.79V736.5h-1.79zM996.44 733.3h1.79V736.5h-1.79zM998.23 730.35h1.79V736.5h-1.79zM1000.02 724.45h1.79V736.5h-1.79zM1001.81 730.35h1.79V736.5h-1.79zM1003.6 730.35h1.79V736.5h-1.79zM1005.39 727.4h1.79V736.5h-1.79zM1007.18 727.4h1.79V736.5h-1.79zM1008.97 730.35h1.79V736.5h-1.79zM1010.76 730.35h1.79V736.5h-1.79zM1012.55 733.3h1.79V736.5h-1.79zM1014.34 727.4h1.79V736.5h-1.79zM1016.13 730.35h1.79V736.5h-1.79zM1017.92 733.3h1.79V736.5h-1.79zM1019.71 730.35h1.79V736.5h-1.79z" fill="#9E1B20" filter="url(#b1)"/>
<path d="M842.5 441.25h1.79V466.72h-1.79zM842.5 503.25h1.79V531.36h-1.79zM842.5 720.2h1.79V735.91h-1.79zM844.29 687.56h1.79V722.34h-1.79zM846.08 441.25h1.79V481.8h-1.79zM851.45 602.11h1.79V714.11h-1.79zM853.24 605.69h1.79V666.41h-1.79zM860.4 500.98h1.79V534.47h-1.79zM865.77 475.85h1.79V590.98h-1.79z" fill="#14322C" opacity="0.3" filter="url(#b2)"/>
<path d="M851.45 683.79h1.79V723.72h-1.79zM858.61 688.41h1.79V712.29h-1.79zM865.77 515.95h1.79V528.14h-1.79zM869.35 515.7h1.79V541.46h-1.79zM880.09 520.02h1.79V543.44h-1.79zM896.2 705.93h1.79V736.5h-1.79zM901.57 441.25h1.79V451.81h-1.79z" fill="#14322C" opacity="0.5" filter="url(#b2)"/>
<path d="M847.87 489.09h1.79V516.65h-1.79zM847.87 729.48h1.79V736.5h-1.79zM849.66 441.25h1.79V459.12h-1.79zM851.45 633.74h1.79V652.99h-1.79zM853.24 441.25h1.79V462.67h-1.79zM853.24 505.23h1.79V553.8h-1.79zM853.24 659.84h1.79V675.89h-1.79zM855.03 503.59h1.79V537.21h-1.79zM856.82 513.67h1.79V528.52h-1.79zM856.82 733.46h1.79V736.5h-1.79zM858.61 733h1.79V736.5h-1.79zM860.4 441.25h1.79V452.1h-1.79zM860.4 722.63h1.79V736.5h-1.79zM862.19 441.25h1.79V465.04h-1.79zM865.77 635.52h1.79V659.01h-1.79zM865.77 725.65h1.79V736.5h-1.79zM862.19 640h1.79V680h-1.79zM874.72 640h1.79V665h-1.79zM894.41 690h1.79V715h-1.79z" fill="#14322C" opacity="0.75" filter="url(#b2)"/>
<path d="M847.87 660.15h1.79V670.09h-1.79zM849.66 489.7h1.79V547h-1.79zM849.66 666.09h1.79V732.38h-1.79zM849.66 720.62h1.79V736.5h-1.79zM851.45 518.48h1.79V526.85h-1.79zM853.24 695.86h1.79V725.87h-1.79zM853.24 730.25h1.79V736.5h-1.79zM855.03 667.94h1.79V683.98h-1.79zM855.03 666.74h1.79V730.78h-1.79zM855.03 717.5h1.79V734.67h-1.79zM856.82 441.25h1.79V456.91h-1.79zM856.82 654.32h1.79V673.73h-1.79zM856.82 686.21h1.79V720.65h-1.79zM858.61 516.24h1.79V528.24h-1.79zM858.61 642.01h1.79V663.08h-1.79zM863.98 441.25h1.79V453.22h-1.79zM865.77 441.25h1.79V448.42h-1.79zM869.35 719.72h1.79V736.5h-1.79zM874.72 723.94h1.79V733.51h-1.79zM876.51 732.62h1.79V736.5h-1.79zM880.09 441.25h1.79V450.27h-1.79zM890.83 441.25h1.79V450.86h-1.79zM894.41 441.25h1.79V450h-1.79zM894.41 511.91h1.79V519.98h-1.79zM855.03 640h1.79V690h-1.79zM856.82 645h1.79V700h-1.79zM858.61 640h1.79V685h-1.79zM860.4 650h1.79V680h-1.79zM865.77 630h1.79V670h-1.79zM851.45 690h1.79V736h-1.79zM853.24 695h1.79V736h-1.79z" fill="#14322C" filter="url(#b2)"/>
<path d="M1046.56 450.1h1.79V458.95h-1.79zM1051.93 458.95h1.79V464.85h-1.79zM1055.51 461.9h1.79V476.65h-1.79zM1062.67 453.05h1.79V458.95h-1.79zM1064.46 461.9h1.79V470.75h-1.79zM1066.25 464.85h1.79V476.65h-1.79zM1069.83 453.05h1.79V456h-1.79zM1071.62 461.9h1.79V464.85h-1.79zM1096.68 450.1h1.79V456h-1.79zM1100.26 453.05h1.79V467.8h-1.79zM1107.42 450.1h1.79V456h-1.79zM1119.95 456h1.79V464.85h-1.79zM1121.74 450.1h1.79V464.85h-1.79zM1128.9 447.15h1.79V458.95h-1.79zM1132.48 450.1h1.79V453.05h-1.79zM1139.64 450.1h1.79V453.05h-1.79zM1146.8 453.05h1.79V456h-1.79zM1155.75 453.05h1.79V461.9h-1.79zM1157.54 453.05h1.79V456h-1.79zM1166.49 464.85h1.79V470.75h-1.79zM1171.86 456h1.79V470.75h-1.79zM1177.23 450.1h1.79V458.95h-1.79zM1186.18 447.15h1.79V450.1h-1.79z" fill="#2E8B1F" opacity="0.5" filter="url(#b1)"/>
<path d="M1035.82 441.25h1.79V458.95h-1.79zM1037.61 441.25h1.79V450.1h-1.79zM1039.4 441.25h1.79V461.9h-1.79zM1041.19 441.25h1.79V458.95h-1.79zM1042.98 441.25h1.79V450.1h-1.79zM1044.77 441.25h1.79V453.05h-1.79zM1046.56 441.25h1.79V450.1h-1.79zM1048.35 441.25h1.79V453.05h-1.79zM1050.14 441.25h1.79V476.65h-1.79zM1051.93 441.25h1.79V458.95h-1.79zM1053.72 441.25h1.79V450.1h-1.79zM1055.51 441.25h1.79V461.9h-1.79zM1057.3 441.25h1.79V450.1h-1.79zM1059.09 441.25h1.79V456h-1.79zM1060.88 441.25h1.79V450.1h-1.79zM1062.67 441.25h1.79V453.05h-1.79zM1064.46 441.25h1.79V461.9h-1.79zM1066.25 441.25h1.79V464.85h-1.79zM1068.04 441.25h1.79V450.1h-1.79zM1069.83 441.25h1.79V453.05h-1.79zM1071.62 441.25h1.79V461.9h-1.79zM1073.41 441.25h1.79V456h-1.79zM1075.2 441.25h1.79V447.15h-1.79zM1076.99 441.25h1.79V450.1h-1.79zM1078.78 441.25h1.79V464.85h-1.79zM1080.57 441.25h1.79V461.9h-1.79zM1082.36 441.25h1.79V456h-1.79zM1084.15 441.25h1.79V450.1h-1.79zM1085.94 441.25h1.79V450.1h-1.79zM1087.73 441.25h1.79V456h-1.79zM1089.52 441.25h1.79V461.9h-1.79zM1091.31 441.25h1.79V456h-1.79zM1093.1 441.25h1.79V458.95h-1.79zM1094.89 441.25h1.79V453.05h-1.79zM1096.68 441.25h1.79V450.1h-1.79zM1098.47 441.25h1.79V456h-1.79zM1100.26 441.25h1.79V453.05h-1.79zM1102.05 441.25h1.79V456h-1.79zM1103.84 441.25h1.79V450.1h-1.79zM1105.63 441.25h1.79V456h-1.79zM1107.42 441.25h1.79V450.1h-1.79zM1109.21 441.25h1.79V464.85h-1.79zM1111 441.25h1.79V456h-1.79zM1112.79 441.25h1.79V450.1h-1.79zM1114.58 441.25h1.79V456h-1.79zM1116.37 441.25h1.79V458.95h-1.79zM1118.16 441.25h1.79V453.05h-1.79zM1119.95 441.25h1.79V456h-1.79zM1121.74 441.25h1.79V450.1h-1.79zM1123.53 441.25h1.79V458.95h-1.79zM1125.32 441.25h1.79V456h-1.79zM1127.11 441.25h1.79V450.1h-1.79zM1128.9 441.25h1.79V447.15h-1.79zM1130.69 441.25h1.79V450.1h-1.79zM1132.48 441.25h1.79V450.1h-1.79zM1134.27 441.25h1.79V450.1h-1.79zM1136.06 441.25h1.79V458.95h-1.79zM1137.85 441.25h1.79V450.1h-1.79zM1139.64 441.25h1.79V450.1h-1.79zM1141.43 441.25h1.79V458.95h-1.79zM1143.22 441.25h1.79V453.05h-1.79zM1145.01 441.25h1.79V450.1h-1.79zM1146.8 441.25h1.79V453.05h-1.79zM1148.59 441.25h1.79V453.05h-1.79zM1150.38 441.25h1.79V450.1h-1.79zM1152.17 441.25h1.79V450.1h-1.79zM1153.96 441.25h1.79V450.1h-1.79zM1155.75 441.25h1.79V453.05h-1.79zM1157.54 441.25h1.79V453.05h-1.79zM1159.33 441.25h1.79V450.1h-1.79zM1161.12 441.25h1.79V453.05h-1.79zM1162.91 441.25h1.79V450.1h-1.79zM1164.7 441.25h1.79V456h-1.79zM1166.49 441.25h1.79V464.85h-1.79zM1168.28 441.25h1.79V456h-1.79zM1170.07 441.25h1.79V450.1h-1.79zM1171.86 441.25h1.79V456h-1.79zM1173.65 441.25h1.79V456h-1.79zM1175.44 441.25h1.79V450.1h-1.79zM1177.23 441.25h1.79V450.1h-1.79zM1179.02 441.25h1.79V450.1h-1.79zM1180.81 441.25h1.79V456h-1.79zM1182.6 441.25h1.79V456h-1.79zM1184.39 441.25h1.79V456h-1.79zM1186.18 441.25h1.79V447.15h-1.79zM1187.97 441.25h1.79V450.1h-1.79zM1189.76 441.25h1.79V447.15h-1.79zM1191.55 441.25h1.79V450.1h-1.79zM1193.34 441.25h1.79V450.1h-1.79zM1195.13 441.25h1.79V453.05h-1.79zM1196.92 441.25h1.79V450.1h-1.79zM1198.71 441.25h1.79V450.1h-1.79z" fill="#2E8B1F" filter="url(#b1)"/>
<path d="M1039.4 543.34h1.79V560.14h-1.79zM1041.19 541.68h1.79V562.89h-1.79zM1044.77 527.34h1.79V581.33h-1.79zM1044.77 512.72h1.79V573.36h-1.79zM1048.35 543.38h1.79V569.39h-1.79zM1051.93 554.1h1.79V586.36h-1.79zM1053.72 552.88h1.79V569.61h-1.79zM1055.51 533.84h1.79V557.25h-1.79zM1057.3 547.19h1.79V593.33h-1.79zM1059.09 533.64h1.79V565.72h-1.79zM1062.67 531.2h1.79V577.71h-1.79zM1064.46 544.38h1.79V565.92h-1.79zM1066.25 546.44h1.79V577.65h-1.79zM1068.04 547.15h1.79V578.22h-1.79zM1069.83 542.41h1.79V577.65h-1.79zM1073.41 526.05h1.79V598.64h-1.79zM1078.78 514.4h1.79V597.25h-1.79zM1085.94 541.21h1.79V579.17h-1.79zM1094.89 536.77h1.79V578.31h-1.79zM1096.68 533.32h1.79V589.03h-1.79zM1098.47 522.8h1.79V606.25h-1.79zM1100.26 539.89h1.79V582.2h-1.79zM1102.05 546.33h1.79V566.56h-1.79zM1103.84 532.58h1.79V593.59h-1.79zM1109.21 563.17h1.79V581.54h-1.79zM1114.58 521.95h1.79V560.22h-1.79zM1116.37 549.03h1.79V577.61h-1.79zM1121.74 557.89h1.79V580.08h-1.79zM1125.32 540.99h1.79V586.94h-1.79zM1128.9 537.58h1.79V565.3h-1.79zM1132.48 547.06h1.79V579.29h-1.79zM1136.06 544.02h1.79V575.27h-1.79zM1137.85 539.81h1.79V580.33h-1.79zM1145.01 530.68h1.79V579.12h-1.79zM1148.59 536.27h1.79V577.74h-1.79zM1153.96 532.1h1.79V565.9h-1.79zM1155.75 542.51h1.79V560.95h-1.79zM1161.12 542.4h1.79V577.2h-1.79zM1162.91 550.03h1.79V574.78h-1.79zM1170.07 548.29h1.79V579.57h-1.79zM1173.65 552.82h1.79V586.3h-1.79zM1177.23 545.89h1.79V559.91h-1.79zM1184.39 538.13h1.79V555.05h-1.79zM1186.18 533.04h1.79V566.25h-1.79zM1187.97 541.79h1.79V564.81h-1.79zM1193.34 524.12h1.79V572.82h-1.79zM1196.92 549.23h1.79V561.01h-1.79z" fill="#F28E1C" opacity="0.3" filter="url(#b2)"/>
<path d="M1041.19 550.49h1.79V563.65h-1.79zM1042.98 550.61h1.79V567.61h-1.79zM1048.35 548.53h1.79V564.69h-1.79zM1050.14 536.73h1.79V562.02h-1.79zM1055.51 541.25h1.79V564.58h-1.79zM1059.09 542.58h1.79V562h-1.79zM1060.88 543.49h1.79V557.31h-1.79zM1062.67 551.27h1.79V564.54h-1.79zM1066.25 545.4h1.79V568.81h-1.79zM1073.41 537.46h1.79V582.44h-1.79zM1076.99 536.28h1.79V553.56h-1.79zM1078.78 533.15h1.79V574.66h-1.79zM1084.15 542.13h1.79V574.62h-1.79zM1085.94 549.75h1.79V568.63h-1.79zM1089.52 545.79h1.79V568.06h-1.79zM1091.31 553.03h1.79V573.51h-1.79zM1093.1 548.29h1.79V571.09h-1.79zM1100.26 551.41h1.79V577.22h-1.79zM1105.63 549.63h1.79V578.77h-1.79zM1112.79 546.54h1.79V558h-1.79zM1118.16 544.82h1.79V576.87h-1.79zM1150.38 543.4h1.79V560.65h-1.79z" fill="#F28E1C" opacity="0.5" filter="url(#b2)"/>
<path d="M1071.62 546.12h1.79V579.22h-1.79zM1080.57 545.27h1.79V565.17h-1.79zM1082.36 532.52h1.79V575.61h-1.79zM1087.73 544.52h1.79V563.04h-1.79zM1098.47 544.72h1.79V575.51h-1.79zM1102.05 551.54h1.79V568.56h-1.79zM1103.84 544.93h1.79V579.28h-1.79zM1109.21 560.45h1.79V576.89h-1.79zM1127.11 565.95h1.79V578.36h-1.79zM1130.69 556.91h1.79V578.67h-1.79zM1132.48 556.55h1.79V579.41h-1.79zM1137.85 551.27h1.79V570.76h-1.79zM1139.64 536.4h1.79V572.11h-1.79zM1145.01 541.78h1.79V566.62h-1.79zM1146.8 546.93h1.79V572.87h-1.79zM1170.07 550.83h1.79V569.39h-1.79zM1175.44 535.92h1.79V557.92h-1.79zM1180.81 544.25h1.79V562.48h-1.79zM1184.39 547.01h1.79V563.84h-1.79zM1187.97 545.26h1.79V558.49h-1.79zM1195.13 540.1h1.79V569.92h-1.79zM1198.71 549.55h1.79V567.04h-1.79z" fill="#F28E1C" opacity="0.75" filter="url(#b2)"/>
<path d="M1114.58 539.16h1.79V556.28h-1.79zM1119.95 545.68h1.79V582.24h-1.79zM1123.53 548.66h1.79V569.06h-1.79zM1125.32 549.03h1.79V574.41h-1.79zM1141.43 545.34h1.79V568.46h-1.79zM1143.22 547.21h1.79V563.66h-1.79zM1148.59 544.52h1.79V578.5h-1.79zM1152.17 545.5h1.79V559.85h-1.79zM1155.75 548.88h1.79V563.44h-1.79zM1157.54 535.85h1.79V558.12h-1.79zM1159.33 540.9h1.79V552.01h-1.79zM1161.12 543.21h1.79V566.13h-1.79zM1162.91 553.27h1.79V573.56h-1.79zM1164.7 558.46h1.79V570.4h-1.79zM1166.49 547.79h1.79V566.37h-1.79zM1168.28 547.27h1.79V579.18h-1.79zM1171.86 554.69h1.79V574.11h-1.79zM1179.02 542.51h1.79V561.89h-1.79zM1182.6 541.27h1.79V566.86h-1.79zM1186.18 538.26h1.79V564.3h-1.79zM1189.76 545.39h1.79V557.53h-1.79zM1191.55 551.89h1.79V567.29h-1.79zM1193.34 533.6h1.79V565.06h-1.79zM1196.92 548.94h1.79V559.62h-1.79z" fill="#F28E1C" filter="url(#b2)"/>
<path d="M1039.4 621.2h1.79V641.85h-1.79zM1041.19 615.3h1.79V653.65h-1.79zM1048.35 624.15h1.79V638.9h-1.79zM1057.3 627.1h1.79V650.7h-1.79zM1059.09 621.2h1.79V650.7h-1.79zM1060.88 630.05h1.79V647.75h-1.79zM1064.46 624.15h1.79V638.9h-1.79zM1068.04 624.15h1.79V641.85h-1.79zM1071.62 621.2h1.79V650.7h-1.79zM1076.99 618.25h1.79V641.85h-1.79zM1085.94 627.1h1.79V647.75h-1.79zM1091.31 618.25h1.79V653.65h-1.79zM1094.89 624.15h1.79V650.7h-1.79zM1096.68 627.1h1.79V641.85h-1.79zM1098.47 624.15h1.79V641.85h-1.79zM1103.84 621.2h1.79V638.9h-1.79zM1109.21 612.35h1.79V653.65h-1.79zM1111 624.15h1.79V644.8h-1.79zM1114.58 624.15h1.79V647.75h-1.79zM1121.74 624.15h1.79V638.9h-1.79zM1125.32 621.2h1.79V653.65h-1.79zM1130.69 621.2h1.79V641.85h-1.79zM1132.48 624.15h1.79V638.9h-1.79zM1141.43 630.05h1.79V641.85h-1.79zM1145.01 627.1h1.79V644.8h-1.79zM1157.54 627.1h1.79V641.85h-1.79zM1159.33 621.2h1.79V644.8h-1.79zM1161.12 624.15h1.79V641.85h-1.79zM1162.91 624.15h1.79V641.85h-1.79zM1164.7 627.1h1.79V650.7h-1.79zM1168.28 633h1.79V650.7h-1.79zM1170.07 633h1.79V644.8h-1.79zM1173.65 633h1.79V647.75h-1.79zM1180.81 621.2h1.79V647.75h-1.79zM1182.6 627.1h1.79V638.9h-1.79zM1184.39 621.2h1.79V644.8h-1.79zM1187.97 627.1h1.79V641.85h-1.79zM1193.34 624.15h1.79V650.7h-1.79z" fill="#6DC3EC" opacity="0.3" filter="url(#b1)"/>
<path d="M1041.19 624.15h1.79V644.8h-1.79zM1042.98 630.05h1.79V647.75h-1.79zM1044.77 627.1h1.79V641.85h-1.79zM1046.56 624.15h1.79V638.9h-1.79z" fill="#6DC3EC" opacity="0.5" filter="url(#b1)"/>
<path d="M1087.73 624.15h1.79V638.9h-1.79zM1098.47 627.1h1.79V641.85h-1.79zM1100.26 627.1h1.79V641.85h-1.79zM1114.58 627.1h1.79V644.8h-1.79zM1152.17 627.1h1.79V635.95h-1.79zM1195.13 627.1h1.79V644.8h-1.79z" fill="#6DC3EC" opacity="0.75" filter="url(#b1)"/>
<path d="M1048.35 624.15h1.79V638.9h-1.79zM1050.14 621.2h1.79V633h-1.79zM1051.93 621.2h1.79V638.9h-1.79zM1053.72 630.05h1.79V638.9h-1.79zM1055.51 624.15h1.79V641.85h-1.79zM1057.3 627.1h1.79V647.75h-1.79zM1059.09 624.15h1.79V647.75h-1.79zM1060.88 633h1.79V644.8h-1.79zM1062.67 627.1h1.79V641.85h-1.79zM1064.46 624.15h1.79V638.9h-1.79zM1066.25 621.2h1.79V641.85h-1.79zM1068.04 627.1h1.79V638.9h-1.79zM1069.83 630.05h1.79V641.85h-1.79zM1071.62 627.1h1.79V647.75h-1.79zM1073.41 627.1h1.79V644.8h-1.79zM1075.2 627.1h1.79V644.8h-1.79zM1076.99 618.25h1.79V641.85h-1.79zM1078.78 624.15h1.79V635.95h-1.79zM1080.57 624.15h1.79V638.9h-1.79zM1082.36 627.1h1.79V638.9h-1.79zM1084.15 630.05h1.79V644.8h-1.79zM1085.94 630.05h1.79V644.8h-1.79zM1089.52 630.05h1.79V638.9h-1.79zM1091.31 627.1h1.79V644.8h-1.79zM1093.1 627.1h1.79V638.9h-1.79zM1094.89 624.15h1.79V650.7h-1.79zM1096.68 627.1h1.79V641.85h-1.79zM1102.05 624.15h1.79V641.85h-1.79zM1103.84 621.2h1.79V638.9h-1.79zM1105.63 627.1h1.79V638.9h-1.79zM1107.42 624.15h1.79V647.75h-1.79zM1109.21 624.15h1.79V641.85h-1.79zM1111 630.05h1.79V638.9h-1.79zM1112.79 630.05h1.79V638.9h-1.79zM1116.37 627.1h1.79V641.85h-1.79zM1118.16 630.05h1.79V641.85h-1.79zM1119.95 633h1.79V650.7h-1.79zM1121.74 627.1h1.79V635.95h-1.79zM1123.53 627.1h1.79V644.8h-1.79zM1125.32 624.15h1.79V647.75h-1.79zM1127.11 627.1h1.79V644.8h-1.79zM1128.9 627.1h1.79V644.8h-1.79zM1130.69 624.15h1.79V638.9h-1.79zM1132.48 627.1h1.79V635.95h-1.79zM1134.27 633h1.79V641.85h-1.79zM1136.06 627.1h1.79V641.85h-1.79zM1137.85 627.1h1.79V638.9h-1.79zM1139.64 621.2h1.79V644.8h-1.79zM1141.43 630.05h1.79V641.85h-1.79zM1143.22 630.05h1.79V638.9h-1.79zM1145.01 630.05h1.79V638.9h-1.79zM1146.8 627.1h1.79V638.9h-1.79zM1148.59 624.15h1.79V638.9h-1.79zM1150.38 624.15h1.79V638.9h-1.79zM1153.96 627.1h1.79V641.85h-1.79zM1155.75 627.1h1.79V638.9h-1.79zM1157.54 630.05h1.79V638.9h-1.79zM1159.33 624.15h1.79V641.85h-1.79zM1161.12 624.15h1.79V641.85h-1.79zM1162.91 627.1h1.79V638.9h-1.79zM1164.7 633h1.79V644.8h-1.79zM1166.49 633h1.79V641.85h-1.79zM1168.28 635.95h1.79V647.75h-1.79zM1170.07 633h1.79V641.85h-1.79zM1171.86 633h1.79V644.8h-1.79zM1173.65 633h1.79V644.8h-1.79zM1175.44 630.05h1.79V638.9h-1.79zM1177.23 627.1h1.79V638.9h-1.79zM1179.02 630.05h1.79V641.85h-1.79zM1180.81 627.1h1.79V641.85h-1.79zM1182.6 627.1h1.79V638.9h-1.79zM1184.39 630.05h1.79V638.9h-1.79zM1186.18 624.15h1.79V638.9h-1.79zM1187.97 630.05h1.79V638.9h-1.79zM1189.76 630.05h1.79V641.85h-1.79zM1191.55 630.05h1.79V638.9h-1.79zM1193.34 633h1.79V641.85h-1.79zM1196.92 627.1h1.79V641.85h-1.79zM1198.71 627.1h1.79V638.9h-1.79z" fill="#6DC3EC" filter="url(#b1)"/>
<path d="M1039.4 676.05h1.79V716.69h-1.79zM1041.19 688.43h1.79V704.09h-1.79zM1044.77 686.9h1.79V701.66h-1.79zM1048.35 695.74h1.79V705.67h-1.79zM1050.14 695.23h1.79V707.27h-1.79zM1055.51 679.26h1.79V708.98h-1.79zM1057.3 684.71h1.79V717.79h-1.79zM1059.09 683.76h1.79V695.28h-1.79zM1062.67 689.27h1.79V709.79h-1.79zM1064.46 690.27h1.79V708.49h-1.79zM1069.83 696.78h1.79V710.83h-1.79zM1076.99 691.48h1.79V704.73h-1.79zM1078.78 677.4h1.79V692h-1.79zM1082.36 674.93h1.79V709.61h-1.79zM1089.52 670.96h1.79V717.2h-1.79zM1091.31 675.29h1.79V719.45h-1.79zM1093.1 667.2h1.79V713.57h-1.79zM1096.68 668.52h1.79V718.07h-1.79zM1098.47 680.18h1.79V694.38h-1.79zM1102.05 690.81h1.79V712.5h-1.79zM1103.84 689.63h1.79V711.9h-1.79zM1107.42 673.1h1.79V698.62h-1.79zM1116.37 684.41h1.79V696.36h-1.79zM1119.95 679.79h1.79V700.36h-1.79zM1121.74 669.39h1.79V701.05h-1.79zM1123.53 683.18h1.79V710.31h-1.79zM1125.32 686.4h1.79V713.52h-1.79zM1132.48 687.89h1.79V699.53h-1.79zM1134.27 680.95h1.79V711h-1.79zM1136.06 681.22h1.79V708.45h-1.79zM1137.85 688.05h1.79V699.87h-1.79zM1148.59 681.33h1.79V707.72h-1.79zM1153.96 675.35h1.79V714.55h-1.79zM1155.75 670.72h1.79V702.23h-1.79zM1157.54 677.94h1.79V704.58h-1.79zM1161.12 672.84h1.79V726.27h-1.79zM1162.91 679.14h1.79V696.67h-1.79zM1164.7 691.64h1.79V717.27h-1.79zM1171.86 691.25h1.79V712.2h-1.79zM1175.44 673.21h1.79V711.79h-1.79zM1179.02 680.45h1.79V703.82h-1.79zM1182.6 681.98h1.79V700.93h-1.79zM1186.18 691.72h1.79V713.96h-1.79zM1187.97 686.08h1.79V708.66h-1.79zM1189.76 678.88h1.79V696.18h-1.79zM1191.55 690.02h1.79V715.49h-1.79zM1193.34 676.15h1.79V699.79h-1.79zM1195.13 683.67h1.79V696.75h-1.79zM1196.92 675.67h1.79V706.63h-1.79zM1198.71 688.11h1.79V701.8h-1.79z" fill="#9E1B20" opacity="0.3" filter="url(#b2)"/>
<path d="M1039.4 679.66h1.79V703.98h-1.79zM1041.19 688.91h1.79V700.27h-1.79zM1042.98 682.95h1.79V702.71h-1.79zM1046.56 680.81h1.79V699.51h-1.79zM1051.93 691.38h1.79V701.01h-1.79zM1055.51 687.72h1.79V707.74h-1.79zM1064.46 690.64h1.79V705.08h-1.79zM1066.25 694.64h1.79V709.03h-1.79zM1068.04 691h1.79V705.25h-1.79zM1073.41 689.11h1.79V710.49h-1.79zM1080.57 673.18h1.79V705.9h-1.79zM1085.94 689h1.79V702.04h-1.79zM1089.52 692.3h1.79V711.95h-1.79zM1100.26 687.05h1.79V699.08h-1.79zM1103.84 693.46h1.79V708.71h-1.79zM1107.42 680.56h1.79V695.17h-1.79z" fill="#9E1B20" opacity="0.5" filter="url(#b2)"/>
<path d="M1057.3 681.8h1.79V713.45h-1.79zM1084.15 690.29h1.79V701.49h-1.79zM1091.31 689.5h1.79V711.5h-1.79zM1093.1 677.75h1.79V704.37h-1.79zM1098.47 683.84h1.79V693.82h-1.79zM1102.05 688.15h1.79V702.96h-1.79zM1105.63 685.73h1.79V698.29h-1.79zM1111 680.51h1.79V699.26h-1.79zM1121.74 674.38h1.79V704.04h-1.79zM1127.11 688.31h1.79V697.34h-1.79zM1132.48 692.42h1.79V701.83h-1.79zM1136.06 680.96h1.79V703.73h-1.79zM1141.43 686.62h1.79V705.04h-1.79zM1145.01 695.31h1.79V704.2h-1.79zM1150.38 691.23h1.79V699.35h-1.79zM1153.96 675.4h1.79V708.73h-1.79zM1155.75 682.9h1.79V699.08h-1.79zM1159.33 684.43h1.79V698.73h-1.79zM1164.7 690.59h1.79V704.22h-1.79zM1168.28 690.74h1.79V713.41h-1.79zM1170.07 691.34h1.79V703.61h-1.79zM1175.44 680.96h1.79V700.01h-1.79z" fill="#9E1B20" opacity="0.75" filter="url(#b2)"/>
<path d="M1096.68 681.85h1.79V707.23h-1.79zM1112.79 686.02h1.79V701.29h-1.79zM1114.58 688.35h1.79V700.2h-1.79zM1125.32 688.16h1.79V706.98h-1.79zM1128.9 689.08h1.79V699.69h-1.79zM1130.69 688.16h1.79V699.07h-1.79zM1139.64 691.84h1.79V704.96h-1.79zM1143.22 694.98h1.79V714.68h-1.79zM1146.8 691.44h1.79V704.32h-1.79zM1148.59 688.32h1.79V710.82h-1.79zM1157.54 683.84h1.79V693.41h-1.79zM1161.12 688.4h1.79V705.03h-1.79zM1171.86 697.83h1.79V707.48h-1.79zM1173.65 686.14h1.79V693.72h-1.79zM1177.23 680.13h1.79V696.45h-1.79zM1179.02 684.19h1.79V692.3h-1.79zM1180.81 683.24h1.79V692.72h-1.79zM1184.39 685.25h1.79V714.08h-1.79zM1186.18 697.27h1.79V704.93h-1.79zM1187.97 685.07h1.79V701.66h-1.79zM1189.76 685.58h1.79V697.01h-1.79zM1191.55 686.86h1.79V703.06h-1.79zM1193.34 681.61h1.79V697.6h-1.79zM1195.13 688.22h1.79V698.51h-1.79zM1196.92 685.47h1.79V704.89h-1.79zM1198.71 688.42h1.79V699h-1.79z" fill="#9E1B20" filter="url(#b2)"/>
<path d="M1039.4 718.55h1.79V733.3h-1.79zM1041.19 721.5h1.79V730.35h-1.79zM1041.19 721.5h1.79V730.35h-1.79zM1046.56 718.55h1.79V736.25h-1.79zM1050.14 718.55h1.79V736.5h-1.79zM1051.93 724.45h1.79V736.25h-1.79zM1064.46 715.6h1.79V736.5h-1.79zM1066.25 718.55h1.79V736.25h-1.79zM1071.62 715.6h1.79V733.3h-1.79zM1075.2 718.55h1.79V736.25h-1.79zM1076.99 721.5h1.79V730.35h-1.79zM1080.57 721.5h1.79V733.3h-1.79zM1082.36 718.55h1.79V736.5h-1.79zM1089.52 718.55h1.79V736.5h-1.79zM1094.89 724.45h1.79V733.3h-1.79zM1098.47 718.55h1.79V733.3h-1.79zM1100.26 718.55h1.79V733.3h-1.79zM1102.05 718.55h1.79V730.35h-1.79zM1103.84 718.55h1.79V730.35h-1.79zM1109.21 721.5h1.79V733.3h-1.79zM1116.37 721.5h1.79V733.3h-1.79zM1121.74 721.5h1.79V733.3h-1.79zM1125.32 715.6h1.79V736.5h-1.79zM1127.11 718.55h1.79V733.3h-1.79zM1128.9 724.45h1.79V733.3h-1.79zM1132.48 718.55h1.79V730.35h-1.79zM1136.06 721.5h1.79V730.35h-1.79zM1137.85 715.6h1.79V733.3h-1.79zM1139.64 718.55h1.79V730.35h-1.79zM1141.43 721.5h1.79V733.3h-1.79zM1150.38 721.5h1.79V730.35h-1.79zM1155.75 715.6h1.79V736.5h-1.79zM1157.54 718.55h1.79V736.5h-1.79zM1159.33 721.5h1.79V736.25h-1.79zM1162.91 718.55h1.79V736.25h-1.79zM1166.49 721.5h1.79V736.25h-1.79zM1171.86 721.5h1.79V733.3h-1.79zM1182.6 715.6h1.79V736.5h-1.79zM1189.76 724.45h1.79V733.3h-1.79zM1193.34 721.5h1.79V733.3h-1.79zM1196.92 721.5h1.79V733.3h-1.79z" fill="#5B74EE" opacity="0.3" filter="url(#b1)"/>
<path d="M1042.98 718.55h1.79V730.35h-1.79z" fill="#5B74EE" opacity="0.5" filter="url(#b1)"/>
<path d="M1044.77 718.55h1.79V730.35h-1.79zM1046.56 721.5h1.79V733.3h-1.79zM1048.35 724.45h1.79V733.3h-1.79zM1053.72 724.45h1.79V736.25h-1.79zM1062.67 721.5h1.79V733.3h-1.79zM1073.41 721.5h1.79V733.3h-1.79zM1084.15 721.5h1.79V733.3h-1.79zM1103.84 718.55h1.79V730.35h-1.79zM1109.21 721.5h1.79V733.3h-1.79zM1111 724.45h1.79V733.3h-1.79zM1112.79 724.45h1.79V733.3h-1.79zM1130.69 724.45h1.79V730.35h-1.79zM1134.27 721.5h1.79V727.4h-1.79zM1137.85 721.5h1.79V730.35h-1.79zM1150.38 721.5h1.79V730.35h-1.79zM1157.54 721.5h1.79V736.25h-1.79zM1175.44 724.45h1.79V730.35h-1.79zM1177.23 724.45h1.79V733.3h-1.79zM1182.6 724.45h1.79V733.3h-1.79zM1187.97 724.45h1.79V736.25h-1.79z" fill="#5B74EE" opacity="0.75" filter="url(#b1)"/>
<path d="M1050.14 727.4h1.79V736.25h-1.79zM1051.93 727.4h1.79V736.25h-1.79zM1055.51 721.5h1.79V736.25h-1.79zM1057.3 721.5h1.79V727.4h-1.79zM1059.09 718.55h1.79V727.4h-1.79zM1060.88 721.5h1.79V733.3h-1.79zM1064.46 721.5h1.79V733.3h-1.79zM1066.25 721.5h1.79V733.3h-1.79zM1068.04 721.5h1.79V733.3h-1.79zM1069.83 721.5h1.79V730.35h-1.79zM1071.62 718.55h1.79V730.35h-1.79zM1075.2 724.45h1.79V733.3h-1.79zM1076.99 721.5h1.79V730.35h-1.79zM1078.78 721.5h1.79V736.25h-1.79zM1080.57 724.45h1.79V730.35h-1.79zM1082.36 724.45h1.79V733.3h-1.79zM1085.94 724.45h1.79V730.35h-1.79zM1087.73 724.45h1.79V736.25h-1.79zM1089.52 724.45h1.79V733.3h-1.79zM1091.31 721.5h1.79V733.3h-1.79zM1093.1 721.5h1.79V733.3h-1.79zM1094.89 724.45h1.79V733.3h-1.79zM1096.68 724.45h1.79V736.25h-1.79zM1098.47 721.5h1.79V730.35h-1.79zM1100.26 718.55h1.79V733.3h-1.79zM1102.05 721.5h1.79V727.4h-1.79zM1105.63 721.5h1.79V730.35h-1.79zM1107.42 718.55h1.79V733.3h-1.79zM1114.58 724.45h1.79V733.3h-1.79zM1116.37 721.5h1.79V730.35h-1.79zM1118.16 724.45h1.79V733.3h-1.79zM1119.95 724.45h1.79V736.25h-1.79zM1121.74 724.45h1.79V733.3h-1.79zM1123.53 724.45h1.79V733.3h-1.79zM1125.32 718.55h1.79V733.3h-1.79zM1127.11 721.5h1.79V730.35h-1.79zM1128.9 724.45h1.79V733.3h-1.79zM1132.48 721.5h1.79V730.35h-1.79zM1136.06 721.5h1.79V730.35h-1.79zM1139.64 721.5h1.79V727.4h-1.79zM1141.43 724.45h1.79V730.35h-1.79zM1143.22 721.5h1.79V730.35h-1.79zM1145.01 721.5h1.79V730.35h-1.79zM1146.8 724.45h1.79V730.35h-1.79zM1148.59 724.45h1.79V730.35h-1.79zM1152.17 724.45h1.79V733.3h-1.79zM1153.96 724.45h1.79V733.3h-1.79zM1155.75 724.45h1.79V733.3h-1.79zM1159.33 724.45h1.79V733.3h-1.79zM1161.12 724.45h1.79V736.25h-1.79zM1162.91 721.5h1.79V730.35h-1.79zM1164.7 721.5h1.79V733.3h-1.79zM1166.49 721.5h1.79V733.3h-1.79zM1168.28 727.4h1.79V736.25h-1.79zM1170.07 721.5h1.79V733.3h-1.79zM1171.86 724.45h1.79V730.35h-1.79zM1173.65 724.45h1.79V730.35h-1.79zM1179.02 724.45h1.79V733.3h-1.79zM1180.81 727.4h1.79V733.3h-1.79zM1184.39 721.5h1.79V733.3h-1.79zM1186.18 724.45h1.79V730.35h-1.79zM1189.76 727.4h1.79V733.3h-1.79zM1191.55 724.45h1.79V730.35h-1.79zM1193.34 721.5h1.79V733.3h-1.79zM1195.13 721.5h1.79V733.3h-1.79zM1196.92 724.45h1.79V730.35h-1.79zM1198.71 721.5h1.79V730.35h-1.79z" fill="#5B74EE" filter="url(#b1)"/>
<path d="M1021.5 679.79h1.79V710.25h-1.79zM1021.5 725.8h1.79V736.5h-1.79zM1023.29 441.25h1.79V470.44h-1.79zM1023.29 621.48h1.79V705.66h-1.79zM1025.08 555.2h1.79V587.54h-1.79zM1025.08 627.19h1.79V647.1h-1.79zM1025.08 729.05h1.79V736.5h-1.79zM1025.08 497.11h1.79V548.3h-1.79zM1026.87 553.3h1.79V591.69h-1.79zM1028.66 489.26h1.79V616.86h-1.79zM1032.24 492.48h1.79V527.53h-1.79zM1034.03 505.22h1.79V543.65h-1.79zM1035.82 506.14h1.79V577.41h-1.79zM1037.61 545.94h1.79V626.3h-1.79zM1041.19 587.43h1.79V649.47h-1.79zM1044.77 554.23h1.79V596.67h-1.79z" fill="#14322C" opacity="0.3" filter="url(#b2)"/>
<path d="M1028.66 666.07h1.79V694.75h-1.79zM1030.45 718.51h1.79V727.42h-1.79zM1032.24 631.44h1.79V656.55h-1.79zM1032.24 687.57h1.79V708.59h-1.79zM1035.82 618.18h1.79V653.81h-1.79zM1037.61 633.19h1.79V641.47h-1.79zM1037.61 687.52h1.79V701.53h-1.79zM1039.4 441.25h1.79V457.58h-1.79zM1039.4 710.39h1.79V736.5h-1.79zM1044.77 559.65h1.79V579.68h-1.79zM1046.56 621.8h1.79V633.39h-1.79zM1051.93 694.38h1.79V704.13h-1.79zM1064.46 623.37h1.79V642.56h-1.79zM1084.15 441.25h1.79V463.84h-1.79zM1084.15 685.16h1.79V718.57h-1.79zM1066.25 540h1.79V570h-1.79z" fill="#14322C" opacity="0.5" filter="url(#b2)"/>
<path d="M1026.87 441.25h1.79V449.98h-1.79zM1026.87 600.71h1.79V631.51h-1.79zM1028.66 544.09h1.79V564.7h-1.79zM1028.66 580.63h1.79V669.52h-1.79zM1028.66 723.84h1.79V736.5h-1.79zM1030.45 677.07h1.79V707.49h-1.79zM1032.24 722.01h1.79V736.5h-1.79zM1034.03 546.72h1.79V570.95h-1.79zM1034.03 612.4h1.79V646.64h-1.79zM1034.03 702.5h1.79V723.9h-1.79zM1035.82 679.06h1.79V689.68h-1.79zM1035.82 705.91h1.79V736.5h-1.79zM1037.61 559.21h1.79V582.34h-1.79zM1039.4 524.66h1.79V570.39h-1.79zM1041.19 441.25h1.79V449.05h-1.79zM1041.19 556.08h1.79V568.07h-1.79zM1041.19 663.8h1.79V712.72h-1.79zM1041.19 711.49h1.79V736.5h-1.79zM1042.98 694.72h1.79V707h-1.79zM1046.56 542.92h1.79V579.57h-1.79zM1048.35 530.05h1.79V561.64h-1.79zM1048.35 672.97h1.79V728.87h-1.79zM1050.14 441.25h1.79V450.11h-1.79zM1076.99 637.84h1.79V651.73h-1.79zM1050.14 600h1.79V650h-1.79zM1050.14 540h1.79V580h-1.79z" fill="#14322C" opacity="0.75" filter="url(#b2)"/>
<path d="M1026.87 689.02h1.79V700.43h-1.79zM1028.66 441.25h1.79V468.99h-1.79zM1030.45 603.61h1.79V641.55h-1.79zM1034.03 441.25h1.79V457.96h-1.79zM1034.03 681.68h1.79V700.35h-1.79zM1035.82 441.25h1.79V449.65h-1.79zM1035.82 550.01h1.79V566.75h-1.79zM1037.61 703.38h1.79V736.5h-1.79zM1039.4 602.66h1.79V641.66h-1.79zM1039.4 681.62h1.79V706.81h-1.79zM1041.19 609.13h1.79V641.02h-1.79zM1044.77 441.25h1.79V457.11h-1.79zM1046.56 708.1h1.79V736.5h-1.79zM1050.14 614.54h1.79V649.52h-1.79zM1050.14 676.05h1.79V732.16h-1.79zM1057.3 441.25h1.79V455.57h-1.79zM1034.03 443h1.79V470h-1.79zM1035.82 443h1.79V475h-1.79zM1037.61 443h1.79V465h-1.79zM1028.66 712h1.79V736h-1.79zM1030.45 712h1.79V736h-1.79zM1032.24 715h1.79V736h-1.79zM1035.82 715h1.79V736h-1.79zM1037.61 715h1.79V735h-1.79zM1069.83 625h1.79V645h-1.79z" fill="#14322C" filter="url(#b2)"/>
<path d="M1216.61 447.15h1.79V453.05h-1.79zM1220.19 458.95h1.79V461.9h-1.79zM1229.14 450.1h1.79V458.95h-1.79zM1230.93 450.1h1.79V464.85h-1.79zM1236.3 453.05h1.79V458.95h-1.79zM1238.09 456h1.79V458.95h-1.79zM1250.62 458.95h1.79V461.9h-1.79zM1254.2 450.1h1.79V456h-1.79zM1255.99 456h1.79V458.95h-1.79zM1266.73 450.1h1.79V453.05h-1.79zM1268.52 447.15h1.79V450.1h-1.79zM1275.68 453.05h1.79V461.9h-1.79zM1277.47 450.1h1.79V461.9h-1.79zM1290 450.1h1.79V467.8h-1.79zM1306.11 450.1h1.79V456h-1.79zM1309.69 453.05h1.79V458.95h-1.79zM1313.27 453.05h1.79V458.95h-1.79zM1315.06 450.1h1.79V453.05h-1.79zM1327.59 447.15h1.79V461.9h-1.79zM1329.38 450.1h1.79V456h-1.79zM1332.96 450.1h1.79V456h-1.79zM1340.12 447.15h1.79V450.1h-1.79zM1343.7 456h1.79V464.85h-1.79zM1345.49 447.15h1.79V456h-1.79zM1349.07 447.15h1.79V453.05h-1.79zM1350.86 450.1h1.79V461.9h-1.79zM1365.18 450.1h1.79V456h-1.79zM1372.34 450.1h1.79V456h-1.79zM1374.13 444.2h1.79V450.1h-1.79z" fill="#2E8B1F" opacity="0.5" filter="url(#b1)"/>
<path d="M1214.82 441.25h1.79V458.95h-1.79zM1216.61 441.25h1.79V447.15h-1.79zM1218.4 441.25h1.79V453.05h-1.79zM1220.19 441.25h1.79V458.95h-1.79zM1221.98 441.25h1.79V447.15h-1.79zM1223.77 441.25h1.79V450.1h-1.79zM1225.56 441.25h1.79V453.05h-1.79zM1227.35 441.25h1.79V453.05h-1.79zM1229.14 441.25h1.79V450.1h-1.79zM1230.93 441.25h1.79V450.1h-1.79zM1232.72 441.25h1.79V447.15h-1.79zM1234.51 441.25h1.79V453.05h-1.79zM1236.3 441.25h1.79V453.05h-1.79zM1238.09 441.25h1.79V456h-1.79zM1239.88 441.25h1.79V453.05h-1.79zM1241.67 441.25h1.79V461.9h-1.79zM1243.46 441.25h1.79V450.1h-1.79zM1245.25 441.25h1.79V447.15h-1.79zM1247.04 441.25h1.79V450.1h-1.79zM1248.83 441.25h1.79V450.1h-1.79zM1250.62 441.25h1.79V458.95h-1.79zM1252.41 441.25h1.79V450.1h-1.79zM1254.2 441.25h1.79V450.1h-1.79zM1255.99 441.25h1.79V456h-1.79zM1257.78 441.25h1.79V450.1h-1.79zM1259.57 441.25h1.79V447.15h-1.79zM1261.36 441.25h1.79V456h-1.79zM1263.15 441.25h1.79V456h-1.79zM1264.94 441.25h1.79V453.05h-1.79zM1266.73 441.25h1.79V450.1h-1.79zM1268.52 441.25h1.79V447.15h-1.79zM1270.31 441.25h1.79V473.7h-1.79zM1272.1 441.25h1.79V453.05h-1.79zM1273.89 441.25h1.79V447.15h-1.79zM1275.68 441.25h1.79V453.05h-1.79zM1277.47 441.25h1.79V450.1h-1.79zM1279.26 441.25h1.79V450.1h-1.79zM1281.05 441.25h1.79V450.1h-1.79zM1282.84 441.25h1.79V447.15h-1.79zM1284.63 441.25h1.79V450.1h-1.79zM1286.42 441.25h1.79V456h-1.79zM1288.21 441.25h1.79V447.15h-1.79zM1290 441.25h1.79V450.1h-1.79zM1291.79 441.25h1.79V447.15h-1.79zM1293.58 441.25h1.79V450.1h-1.79zM1295.37 441.25h1.79V456h-1.79zM1297.16 441.25h1.79V456h-1.79zM1298.95 441.25h1.79V450.1h-1.79zM1300.74 441.25h1.79V450.1h-1.79zM1302.53 441.25h1.79V450.1h-1.79zM1304.32 441.25h1.79V447.15h-1.79zM1306.11 441.25h1.79V450.1h-1.79zM1307.9 441.25h1.79V453.05h-1.79zM1309.69 441.25h1.79V453.05h-1.79zM1311.48 441.25h1.79V453.05h-1.79zM1313.27 441.25h1.79V453.05h-1.79zM1315.06 441.25h1.79V450.1h-1.79zM1316.85 441.25h1.79V450.1h-1.79zM1318.64 441.25h1.79V450.1h-1.79zM1320.43 441.25h1.79V447.15h-1.79zM1322.22 441.25h1.79V450.1h-1.79zM1324.01 441.25h1.79V447.15h-1.79zM1325.8 441.25h1.79V447.15h-1.79zM1327.59 441.25h1.79V447.15h-1.79zM1329.38 441.25h1.79V450.1h-1.79zM1331.17 441.25h1.79V447.15h-1.79zM1332.96 441.25h1.79V450.1h-1.79zM1334.75 441.25h1.79V450.1h-1.79zM1336.54 441.25h1.79V453.05h-1.79zM1338.33 441.25h1.79V453.05h-1.79zM1340.12 441.25h1.79V447.15h-1.79zM1341.91 441.25h1.79V450.1h-1.79zM1343.7 441.25h1.79V456h-1.79zM1345.49 441.25h1.79V447.15h-1.79zM1347.28 441.25h1.79V453.05h-1.79zM1349.07 441.25h1.79V447.15h-1.79zM1350.86 441.25h1.79V450.1h-1.79zM1352.65 441.25h1.79V458.95h-1.79zM1354.44 441.25h1.79V447.15h-1.79zM1356.23 441.25h1.79V453.05h-1.79zM1358.02 441.25h1.79V447.15h-1.79zM1359.81 441.25h1.79V458.95h-1.79zM1361.6 441.25h1.79V447.15h-1.79zM1363.39 441.25h1.79V456h-1.79zM1365.18 441.25h1.79V450.1h-1.79zM1366.97 441.25h1.79V444.2h-1.79zM1368.76 441.25h1.79V453.05h-1.79zM1370.55 441.25h1.79V450.1h-1.79zM1372.34 441.25h1.79V450.1h-1.79zM1374.13 441.25h1.79V444.2h-1.79zM1375.92 441.25h1.79V456h-1.79zM1377.71 441.25h1.79V444.2h-1.79z" fill="#2E8B1F" filter="url(#b1)"/>
<path d="M1218.4 588.75h1.79V606.45h-1.79zM1218.4 579.9h1.79V612.35h-1.79zM1229.14 588.75h1.79V612.35h-1.79zM1236.3 582.85h1.79V609.4h-1.79zM1238.09 591.7h1.79V618.25h-1.79zM1254.2 568.1h1.79V621.2h-1.79zM1255.99 576.95h1.79V612.35h-1.79zM1259.57 591.7h1.79V627.1h-1.79zM1268.52 594.65h1.79V615.3h-1.79zM1272.1 591.7h1.79V618.25h-1.79zM1273.89 591.7h1.79V621.2h-1.79zM1275.68 582.85h1.79V615.3h-1.79zM1279.26 591.7h1.79V612.35h-1.79zM1281.05 585.8h1.79V618.25h-1.79zM1282.84 588.75h1.79V615.3h-1.79zM1293.58 594.65h1.79V618.25h-1.79zM1295.37 582.85h1.79V627.1h-1.79zM1298.95 591.7h1.79V621.2h-1.79zM1302.53 579.9h1.79V618.25h-1.79zM1313.27 585.8h1.79V612.35h-1.79zM1320.43 582.85h1.79V618.25h-1.79zM1324.01 579.9h1.79V618.25h-1.79zM1332.96 591.7h1.79V621.2h-1.79zM1334.75 582.85h1.79V630.05h-1.79zM1340.12 588.75h1.79V618.25h-1.79zM1341.91 585.8h1.79V618.25h-1.79zM1345.49 579.9h1.79V624.15h-1.79zM1350.86 585.8h1.79V618.25h-1.79zM1352.65 582.85h1.79V624.15h-1.79zM1354.44 591.7h1.79V612.35h-1.79zM1372.34 585.8h1.79V615.3h-1.79zM1374.13 579.9h1.79V606.45h-1.79zM1377.71 582.85h1.79V615.3h-1.79z" fill="#6DC3EC" opacity="0.3" filter="url(#b1)"/>
<path d="M1220.19 591.7h1.79V615.3h-1.79zM1221.98 591.7h1.79V618.25h-1.79zM1223.77 591.7h1.79V612.35h-1.79z" fill="#6DC3EC" opacity="0.5" filter="url(#b1)"/>
<path d="M1225.56 591.7h1.79V621.2h-1.79zM1227.35 588.75h1.79V615.3h-1.79zM1248.83 591.7h1.79V606.45h-1.79zM1252.41 579.9h1.79V606.45h-1.79zM1282.84 591.7h1.79V609.4h-1.79zM1290 594.65h1.79V618.25h-1.79zM1300.74 597.6h1.79V618.25h-1.79zM1304.32 588.75h1.79V606.45h-1.79zM1318.64 591.7h1.79V606.45h-1.79zM1322.22 591.7h1.79V615.3h-1.79zM1324.01 585.8h1.79V609.4h-1.79zM1332.96 594.65h1.79V618.25h-1.79zM1345.49 594.65h1.79V609.4h-1.79zM1372.34 591.7h1.79V609.4h-1.79z" fill="#6DC3EC" opacity="0.75" filter="url(#b1)"/>
<path d="M1229.14 588.75h1.79V612.35h-1.79zM1230.93 591.7h1.79V612.35h-1.79zM1232.72 588.75h1.79V609.4h-1.79zM1234.51 576.95h1.79V600.55h-1.79zM1236.3 582.85h1.79V609.4h-1.79zM1238.09 594.65h1.79V615.3h-1.79zM1239.88 585.8h1.79V606.45h-1.79zM1241.67 591.7h1.79V612.35h-1.79zM1243.46 594.65h1.79V612.35h-1.79zM1245.25 591.7h1.79V612.35h-1.79zM1247.04 582.85h1.79V612.35h-1.79zM1250.62 585.8h1.79V609.4h-1.79zM1254.2 582.85h1.79V603.5h-1.79zM1255.99 585.8h1.79V606.45h-1.79zM1257.78 594.65h1.79V615.3h-1.79zM1259.57 600.55h1.79V618.25h-1.79zM1261.36 603.5h1.79V618.25h-1.79zM1263.15 585.8h1.79V609.4h-1.79zM1264.94 597.6h1.79V615.3h-1.79zM1266.73 591.7h1.79V612.35h-1.79zM1268.52 597.6h1.79V612.35h-1.79zM1270.31 597.6h1.79V615.3h-1.79zM1272.1 594.65h1.79V615.3h-1.79zM1273.89 594.65h1.79V618.25h-1.79zM1275.68 591.7h1.79V606.45h-1.79zM1277.47 591.7h1.79V612.35h-1.79zM1279.26 594.65h1.79V609.4h-1.79zM1281.05 591.7h1.79V612.35h-1.79zM1284.63 588.75h1.79V618.25h-1.79zM1286.42 597.6h1.79V618.25h-1.79zM1288.21 597.6h1.79V612.35h-1.79zM1291.79 594.65h1.79V618.25h-1.79zM1293.58 597.6h1.79V615.3h-1.79zM1295.37 594.65h1.79V615.3h-1.79zM1297.16 594.65h1.79V621.2h-1.79zM1298.95 591.7h1.79V621.2h-1.79zM1302.53 588.75h1.79V609.4h-1.79zM1306.11 585.8h1.79V615.3h-1.79zM1307.9 582.85h1.79V612.35h-1.79zM1309.69 585.8h1.79V612.35h-1.79zM1311.48 591.7h1.79V606.45h-1.79zM1313.27 588.75h1.79V609.4h-1.79zM1315.06 582.85h1.79V609.4h-1.79zM1316.85 588.75h1.79V612.35h-1.79zM1320.43 591.7h1.79V609.4h-1.79zM1325.8 591.7h1.79V609.4h-1.79zM1327.59 582.85h1.79V606.45h-1.79zM1329.38 585.8h1.79V603.5h-1.79zM1331.17 588.75h1.79V609.4h-1.79zM1334.75 594.65h1.79V621.2h-1.79zM1336.54 591.7h1.79V612.35h-1.79zM1338.33 591.7h1.79V615.3h-1.79zM1340.12 591.7h1.79V612.35h-1.79zM1341.91 585.8h1.79V615.3h-1.79zM1343.7 594.65h1.79V615.3h-1.79zM1347.28 597.6h1.79V621.2h-1.79zM1349.07 597.6h1.79V621.2h-1.79zM1350.86 594.65h1.79V612.35h-1.79zM1352.65 594.65h1.79V615.3h-1.79zM1354.44 594.65h1.79V609.4h-1.79zM1356.23 591.7h1.79V606.45h-1.79zM1358.02 594.65h1.79V612.35h-1.79zM1359.81 597.6h1.79V612.35h-1.79zM1361.6 591.7h1.79V615.3h-1.79zM1363.39 591.7h1.79V609.4h-1.79zM1365.18 594.65h1.79V609.4h-1.79zM1366.97 597.6h1.79V609.4h-1.79zM1368.76 588.75h1.79V615.3h-1.79zM1370.55 597.6h1.79V612.35h-1.79zM1374.13 585.8h1.79V600.55h-1.79zM1375.92 585.8h1.79V609.4h-1.79zM1377.71 585.8h1.79V612.35h-1.79z" fill="#6DC3EC" filter="url(#b1)"/>
<path d="M1218.4 612.35h1.79V662.5h-1.79zM1220.19 618.25h1.79V653.65h-1.79zM1221.98 627.1h1.79V653.65h-1.79zM1223.77 630.05h1.79V656.6h-1.79zM1227.35 627.1h1.79V656.6h-1.79zM1229.14 612.35h1.79V677.25h-1.79zM1232.72 630.05h1.79V653.65h-1.79zM1236.3 615.3h1.79V659.55h-1.79zM1239.88 630.05h1.79V659.55h-1.79zM1243.46 621.2h1.79V668.4h-1.79zM1248.83 627.1h1.79V662.5h-1.79zM1264.94 635.95h1.79V659.55h-1.79zM1266.73 624.15h1.79V659.55h-1.79zM1279.26 633h1.79V662.5h-1.79zM1281.05 624.15h1.79V650.7h-1.79zM1282.84 627.1h1.79V665.45h-1.79zM1290 635.95h1.79V656.6h-1.79zM1291.79 627.1h1.79V665.45h-1.79zM1293.58 630.05h1.79V665.45h-1.79zM1298.95 621.2h1.79V656.6h-1.79zM1302.53 630.05h1.79V653.65h-1.79zM1306.11 621.2h1.79V656.6h-1.79zM1307.9 618.25h1.79V650.7h-1.79zM1309.69 612.35h1.79V659.55h-1.79zM1311.48 618.25h1.79V659.55h-1.79zM1313.27 633h1.79V656.6h-1.79zM1315.06 609.4h1.79V677.25h-1.79zM1324.01 612.35h1.79V656.6h-1.79zM1331.17 618.25h1.79V662.5h-1.79zM1332.96 621.2h1.79V653.65h-1.79zM1350.86 627.1h1.79V656.6h-1.79zM1354.44 621.2h1.79V650.7h-1.79zM1359.81 633h1.79V662.5h-1.79zM1363.39 630.05h1.79V644.8h-1.79zM1375.92 635.95h1.79V647.75h-1.79z" fill="#F28E1C" opacity="0.3" filter="url(#b1)"/>
<path d="M1220.19 624.15h1.79V644.8h-1.79zM1221.98 630.05h1.79V650.7h-1.79zM1225.56 638.9h1.79V662.5h-1.79z" fill="#F28E1C" opacity="0.5" filter="url(#b1)"/>
<path d="M1223.77 633h1.79V653.65h-1.79zM1229.14 630.05h1.79V659.55h-1.79zM1236.3 624.15h1.79V650.7h-1.79zM1241.67 630.05h1.79V650.7h-1.79zM1243.46 630.05h1.79V659.55h-1.79zM1245.25 630.05h1.79V647.75h-1.79zM1247.04 627.1h1.79V647.75h-1.79zM1254.2 618.25h1.79V650.7h-1.79zM1257.78 627.1h1.79V650.7h-1.79zM1259.57 627.1h1.79V644.8h-1.79zM1281.05 627.1h1.79V647.75h-1.79zM1304.32 630.05h1.79V650.7h-1.79zM1307.9 624.15h1.79V644.8h-1.79zM1320.43 621.2h1.79V653.65h-1.79zM1327.59 627.1h1.79V650.7h-1.79zM1345.49 638.9h1.79V653.65h-1.79zM1354.44 627.1h1.79V644.8h-1.79zM1358.02 633h1.79V650.7h-1.79zM1359.81 638.9h1.79V659.55h-1.79zM1363.39 630.05h1.79V644.8h-1.79zM1368.76 627.1h1.79V641.85h-1.79zM1377.71 633h1.79V647.75h-1.79z" fill="#F28E1C" opacity="0.75" filter="url(#b1)"/>
<path d="M1227.35 633h1.79V650.7h-1.79zM1230.93 630.05h1.79V647.75h-1.79zM1232.72 633h1.79V650.7h-1.79zM1234.51 633h1.79V650.7h-1.79zM1238.09 618.25h1.79V650.7h-1.79zM1239.88 630.05h1.79V659.55h-1.79zM1248.83 630.05h1.79V659.55h-1.79zM1250.62 630.05h1.79V647.75h-1.79zM1252.41 612.35h1.79V647.75h-1.79zM1255.99 627.1h1.79V644.8h-1.79zM1261.36 630.05h1.79V650.7h-1.79zM1263.15 633h1.79V653.65h-1.79zM1264.94 635.95h1.79V659.55h-1.79zM1266.73 627.1h1.79V656.6h-1.79zM1268.52 633h1.79V650.7h-1.79zM1270.31 630.05h1.79V650.7h-1.79zM1272.1 633h1.79V653.65h-1.79zM1273.89 638.9h1.79V656.6h-1.79zM1275.68 624.15h1.79V653.65h-1.79zM1277.47 638.9h1.79V653.65h-1.79zM1279.26 638.9h1.79V656.6h-1.79zM1282.84 630.05h1.79V659.55h-1.79zM1284.63 633h1.79V659.55h-1.79zM1286.42 638.9h1.79V662.5h-1.79zM1288.21 635.95h1.79V653.65h-1.79zM1290 635.95h1.79V656.6h-1.79zM1291.79 635.95h1.79V656.6h-1.79zM1293.58 633h1.79V662.5h-1.79zM1295.37 633h1.79V656.6h-1.79zM1297.16 630.05h1.79V653.65h-1.79zM1298.95 630.05h1.79V647.75h-1.79zM1300.74 627.1h1.79V647.75h-1.79zM1302.53 630.05h1.79V653.65h-1.79zM1306.11 624.15h1.79V650.7h-1.79zM1309.69 627.1h1.79V644.8h-1.79zM1311.48 627.1h1.79V650.7h-1.79zM1313.27 633h1.79V656.6h-1.79zM1315.06 624.15h1.79V662.5h-1.79zM1316.85 633h1.79V647.75h-1.79zM1318.64 627.1h1.79V641.85h-1.79zM1322.22 624.15h1.79V638.9h-1.79zM1324.01 615.3h1.79V653.65h-1.79zM1325.8 627.1h1.79V644.8h-1.79zM1329.38 627.1h1.79V650.7h-1.79zM1331.17 624.15h1.79V656.6h-1.79zM1332.96 627.1h1.79V650.7h-1.79zM1334.75 630.05h1.79V647.75h-1.79zM1336.54 630.05h1.79V650.7h-1.79zM1338.33 627.1h1.79V644.8h-1.79zM1340.12 633h1.79V644.8h-1.79zM1341.91 630.05h1.79V653.65h-1.79zM1343.7 633h1.79V653.65h-1.79zM1347.28 638.9h1.79V656.6h-1.79zM1349.07 633h1.79V656.6h-1.79zM1350.86 635.95h1.79V650.7h-1.79zM1352.65 630.05h1.79V647.75h-1.79zM1356.23 633h1.79V647.75h-1.79zM1361.6 633h1.79V650.7h-1.79zM1365.18 627.1h1.79V638.9h-1.79zM1366.97 624.15h1.79V638.9h-1.79zM1370.55 630.05h1.79V644.8h-1.79zM1372.34 627.1h1.79V647.75h-1.79zM1374.13 633h1.79V650.7h-1.79zM1375.92 635.95h1.79V647.75h-1.79z" fill="#F28E1C" filter="url(#b1)"/>
<path d="M1218.4 582.85h1.79V612.35h-1.79zM1220.19 594.65h1.79V606.45h-1.79zM1221.98 594.65h1.79V609.4h-1.79zM1223.77 585.8h1.79V603.5h-1.79zM1225.56 588.75h1.79V609.4h-1.79zM1229.14 591.7h1.79V621.2h-1.79zM1230.93 600.55h1.79V615.3h-1.79zM1232.72 591.7h1.79V615.3h-1.79zM1247.04 591.7h1.79V615.3h-1.79zM1248.83 591.7h1.79V615.3h-1.79zM1254.2 594.65h1.79V621.2h-1.79zM1261.36 582.85h1.79V621.2h-1.79zM1263.15 594.65h1.79V615.3h-1.79zM1266.73 594.65h1.79V609.4h-1.79zM1268.52 594.65h1.79V609.4h-1.79zM1275.68 588.75h1.79V618.25h-1.79zM1277.47 582.85h1.79V615.3h-1.79zM1279.26 585.8h1.79V615.3h-1.79zM1282.84 597.6h1.79V612.35h-1.79zM1286.42 594.65h1.79V612.35h-1.79zM1290 594.65h1.79V612.35h-1.79zM1298.95 594.65h1.79V612.35h-1.79zM1309.69 594.65h1.79V615.3h-1.79zM1311.48 594.65h1.79V609.4h-1.79zM1313.27 591.7h1.79V609.4h-1.79zM1315.06 579.9h1.79V630.05h-1.79zM1318.64 585.8h1.79V609.4h-1.79zM1322.22 585.8h1.79V606.45h-1.79zM1325.8 585.8h1.79V618.25h-1.79zM1336.54 600.55h1.79V612.35h-1.79zM1343.7 594.65h1.79V615.3h-1.79zM1349.07 588.75h1.79V612.35h-1.79zM1352.65 588.75h1.79V609.4h-1.79zM1354.44 576.95h1.79V609.4h-1.79zM1358.02 585.8h1.79V615.3h-1.79zM1363.39 591.7h1.79V609.4h-1.79zM1374.13 600.55h1.79V615.3h-1.79zM1377.71 594.65h1.79V615.3h-1.79z" fill="#5B74EE" opacity="0.3" filter="url(#b1)"/>
<path d="M1221.98 594.65h1.79V609.4h-1.79z" fill="#5B74EE" opacity="0.5" filter="url(#b1)"/>
<path d="M1223.77 588.75h1.79V603.5h-1.79zM1225.56 588.75h1.79V606.45h-1.79zM1239.88 594.65h1.79V606.45h-1.79zM1248.83 594.65h1.79V612.35h-1.79zM1254.2 600.55h1.79V618.25h-1.79zM1259.57 594.65h1.79V612.35h-1.79zM1263.15 594.65h1.79V615.3h-1.79zM1277.47 585.8h1.79V612.35h-1.79zM1284.63 591.7h1.79V603.5h-1.79zM1286.42 594.65h1.79V609.4h-1.79zM1291.79 594.65h1.79V612.35h-1.79zM1297.16 594.65h1.79V609.4h-1.79zM1298.95 597.6h1.79V609.4h-1.79zM1350.86 594.65h1.79V606.45h-1.79zM1358.02 594.65h1.79V606.45h-1.79zM1363.39 591.7h1.79V609.4h-1.79zM1370.55 600.55h1.79V609.4h-1.79z" fill="#5B74EE" opacity="0.75" filter="url(#b1)"/>
<path d="M1227.35 597.6h1.79V612.35h-1.79zM1229.14 597.6h1.79V615.3h-1.79zM1230.93 600.55h1.79V615.3h-1.79zM1232.72 594.65h1.79V612.35h-1.79zM1234.51 588.75h1.79V606.45h-1.79zM1236.3 591.7h1.79V615.3h-1.79zM1238.09 591.7h1.79V606.45h-1.79zM1241.67 600.55h1.79V615.3h-1.79zM1243.46 597.6h1.79V612.35h-1.79zM1245.25 600.55h1.79V612.35h-1.79zM1247.04 594.65h1.79V615.3h-1.79zM1250.62 594.65h1.79V615.3h-1.79zM1252.41 594.65h1.79V618.25h-1.79zM1255.99 591.7h1.79V612.35h-1.79zM1257.78 591.7h1.79V612.35h-1.79zM1261.36 594.65h1.79V609.4h-1.79zM1264.94 597.6h1.79V612.35h-1.79zM1266.73 594.65h1.79V609.4h-1.79zM1268.52 594.65h1.79V609.4h-1.79zM1270.31 582.85h1.79V612.35h-1.79zM1272.1 585.8h1.79V600.55h-1.79zM1273.89 588.75h1.79V615.3h-1.79zM1275.68 594.65h1.79V612.35h-1.79zM1279.26 594.65h1.79V606.45h-1.79zM1281.05 591.7h1.79V606.45h-1.79zM1282.84 597.6h1.79V612.35h-1.79zM1288.21 591.7h1.79V618.25h-1.79zM1290 597.6h1.79V609.4h-1.79zM1293.58 597.6h1.79V612.35h-1.79zM1295.37 594.65h1.79V609.4h-1.79zM1300.74 594.65h1.79V609.4h-1.79zM1302.53 594.65h1.79V609.4h-1.79zM1304.32 594.65h1.79V612.35h-1.79zM1306.11 591.7h1.79V606.45h-1.79zM1307.9 594.65h1.79V603.5h-1.79zM1309.69 597.6h1.79V612.35h-1.79zM1311.48 597.6h1.79V609.4h-1.79zM1313.27 594.65h1.79V606.45h-1.79zM1315.06 588.75h1.79V618.25h-1.79zM1316.85 591.7h1.79V612.35h-1.79zM1318.64 591.7h1.79V606.45h-1.79zM1320.43 585.8h1.79V609.4h-1.79zM1322.22 585.8h1.79V606.45h-1.79zM1324.01 591.7h1.79V603.5h-1.79zM1325.8 594.65h1.79V609.4h-1.79zM1327.59 597.6h1.79V609.4h-1.79zM1329.38 594.65h1.79V606.45h-1.79zM1331.17 597.6h1.79V609.4h-1.79zM1332.96 597.6h1.79V606.45h-1.79zM1334.75 597.6h1.79V615.3h-1.79zM1336.54 600.55h1.79V612.35h-1.79zM1338.33 600.55h1.79V609.4h-1.79zM1340.12 594.65h1.79V612.35h-1.79zM1341.91 600.55h1.79V612.35h-1.79zM1343.7 600.55h1.79V609.4h-1.79zM1345.49 597.6h1.79V609.4h-1.79zM1347.28 600.55h1.79V612.35h-1.79zM1349.07 588.75h1.79V612.35h-1.79zM1352.65 591.7h1.79V606.45h-1.79zM1354.44 585.8h1.79V600.55h-1.79zM1356.23 594.65h1.79V606.45h-1.79zM1359.81 594.65h1.79V603.5h-1.79zM1361.6 588.75h1.79V606.45h-1.79zM1365.18 597.6h1.79V612.35h-1.79zM1366.97 597.6h1.79V609.4h-1.79zM1368.76 597.6h1.79V612.35h-1.79zM1372.34 600.55h1.79V609.4h-1.79zM1374.13 603.5h1.79V615.3h-1.79zM1375.92 597.6h1.79V609.4h-1.79zM1377.71 597.6h1.79V612.35h-1.79z" fill="#5B74EE" filter="url(#b1)"/>
<path d="M1218.4 733.3h1.79V736.5h-1.79zM1220.19 733.3h1.79V736.5h-1.79zM1221.98 730.35h1.79V736.5h-1.79zM1223.77 727.4h1.79V736.5h-1.79zM1225.56 733.3h1.79V736.5h-1.79zM1227.35 727.4h1.79V736.5h-1.79zM1229.14 730.35h1.79V736.5h-1.79zM1230.93 724.45h1.79V736.5h-1.79zM1232.72 724.45h1.79V736.5h-1.79zM1234.51 721.5h1.79V736.5h-1.79zM1236.3 730.35h1.79V736.5h-1.79zM1238.09 727.4h1.79V736.5h-1.79zM1239.88 727.4h1.79V736.5h-1.79zM1241.67 730.35h1.79V736.5h-1.79zM1243.46 727.4h1.79V736.5h-1.79zM1245.25 730.35h1.79V736.5h-1.79zM1247.04 730.35h1.79V736.5h-1.79zM1248.83 718.55h1.79V736.5h-1.79zM1250.62 730.35h1.79V736.5h-1.79zM1252.41 727.4h1.79V736.5h-1.79zM1254.2 727.4h1.79V736.5h-1.79zM1255.99 721.5h1.79V736.5h-1.79zM1257.78 727.4h1.79V736.5h-1.79zM1259.57 727.4h1.79V736.5h-1.79zM1261.36 730.35h1.79V736.5h-1.79zM1263.15 730.35h1.79V736.5h-1.79zM1264.94 730.35h1.79V736.5h-1.79zM1266.73 730.35h1.79V736.5h-1.79zM1268.52 727.4h1.79V736.5h-1.79zM1270.31 721.5h1.79V736.5h-1.79zM1272.1 724.45h1.79V736.5h-1.79zM1273.89 724.45h1.79V736.5h-1.79zM1275.68 727.4h1.79V736.5h-1.79zM1277.47 730.35h1.79V736.5h-1.79zM1279.26 727.4h1.79V736.5h-1.79zM1281.05 730.35h1.79V736.5h-1.79zM1282.84 727.4h1.79V736.5h-1.79zM1284.63 724.45h1.79V736.5h-1.79zM1286.42 727.4h1.79V736.5h-1.79zM1288.21 730.35h1.79V736.5h-1.79zM1290 730.35h1.79V736.5h-1.79zM1291.79 727.4h1.79V736.5h-1.79zM1293.58 727.4h1.79V736.5h-1.79zM1295.37 730.35h1.79V736.5h-1.79zM1297.16 733.3h1.79V736.5h-1.79zM1298.95 727.4h1.79V736.5h-1.79zM1300.74 730.35h1.79V736.5h-1.79zM1302.53 727.4h1.79V736.5h-1.79zM1304.32 730.35h1.79V736.5h-1.79zM1306.11 733.3h1.79V736.5h-1.79zM1307.9 727.4h1.79V736.5h-1.79zM1309.69 730.35h1.79V736.5h-1.79zM1311.48 730.35h1.79V736.5h-1.79zM1313.27 721.5h1.79V736.5h-1.79zM1315.06 730.35h1.79V736.5h-1.79zM1316.85 727.4h1.79V736.5h-1.79zM1318.64 727.4h1.79V736.5h-1.79zM1320.43 727.4h1.79V736.5h-1.79zM1322.22 727.4h1.79V736.5h-1.79zM1324.01 727.4h1.79V736.5h-1.79zM1325.8 727.4h1.79V736.5h-1.79zM1327.59 727.4h1.79V736.5h-1.79zM1329.38 727.4h1.79V736.5h-1.79zM1331.17 730.35h1.79V736.5h-1.79zM1332.96 730.35h1.79V736.5h-1.79zM1334.75 730.35h1.79V736.5h-1.79zM1336.54 733.3h1.79V736.5h-1.79zM1338.33 733.3h1.79V736.5h-1.79zM1340.12 730.35h1.79V736.5h-1.79zM1341.91 733.3h1.79V736.5h-1.79zM1343.7 730.35h1.79V736.5h-1.79zM1345.49 733.3h1.79V736.5h-1.79zM1347.28 733.3h1.79V736.5h-1.79zM1349.07 733.3h1.79V736.5h-1.79zM1350.86 721.5h1.79V736.5h-1.79zM1352.65 727.4h1.79V736.5h-1.79zM1354.44 727.4h1.79V736.5h-1.79zM1356.23 727.4h1.79V736.5h-1.79zM1358.02 730.35h1.79V736.5h-1.79zM1359.81 727.4h1.79V736.5h-1.79zM1361.6 730.35h1.79V736.5h-1.79zM1363.39 724.45h1.79V736.5h-1.79zM1365.18 730.35h1.79V736.5h-1.79zM1366.97 733.3h1.79V736.5h-1.79zM1368.76 730.35h1.79V736.5h-1.79zM1370.55 724.45h1.79V736.5h-1.79zM1372.34 730.35h1.79V736.5h-1.79zM1374.13 730.35h1.79V736.5h-1.79zM1375.92 730.35h1.79V736.5h-1.79zM1377.71 733.3h1.79V736.5h-1.79z" fill="#9E1B20" filter="url(#b1)"/>
<path d="M1200.5 441.25h1.79V458.3h-1.79zM1200.5 601.76h1.79V611.63h-1.79zM1200.5 685.22h1.79V725.54h-1.79zM1202.29 441.25h1.79V455.31h-1.79zM1202.29 583.55h1.79V609.01h-1.79zM1204.08 441.25h1.79V484.13h-1.79zM1204.08 572.69h1.79V621.44h-1.79zM1204.08 630.44h1.79V736.5h-1.79zM1209.45 599.28h1.79V736.5h-1.79zM1213.03 632.49h1.79V688.13h-1.79zM1214.82 521.01h1.79V572.26h-1.79zM1216.61 450.43h1.79V545.72h-1.79zM1218.4 663.42h1.79V719.2h-1.79zM1220.19 518.65h1.79V608.36h-1.79zM1221.98 475.23h1.79V506.2h-1.79zM1223.77 533.57h1.79V626.32h-1.79z" fill="#14322C" opacity="0.3" filter="url(#b2)"/>
<path d="M1205.87 570.32h1.79V634.73h-1.79zM1205.87 614.77h1.79V652.92h-1.79zM1207.66 612h1.79V638.18h-1.79zM1213.03 441.25h1.79V460.96h-1.79zM1214.82 610.29h1.79V656.25h-1.79zM1225.56 441.25h1.79V449.9h-1.79zM1248.83 595h1.79V640h-1.79z" fill="#14322C" opacity="0.5" filter="url(#b2)"/>
<path d="M1207.66 579.93h1.79V614.4h-1.79zM1207.66 716.47h1.79V736.5h-1.79zM1209.45 441.25h1.79V455.51h-1.79zM1209.45 574.54h1.79V603.96h-1.79zM1211.24 592.73h1.79V607.92h-1.79zM1211.24 614.27h1.79V648.44h-1.79zM1211.24 704.92h1.79V736.5h-1.79zM1213.03 576.13h1.79V619.95h-1.79zM1214.82 705.98h1.79V734.64h-1.79zM1216.61 637.68h1.79V657.13h-1.79zM1216.61 712.22h1.79V736.5h-1.79zM1255.99 727.82h1.79V736.5h-1.79zM1218.4 600h1.79V640h-1.79zM1227.35 590h1.79V650h-1.79z" fill="#14322C" opacity="0.75" filter="url(#b2)"/>
<path d="M1205.87 441.25h1.79V450.66h-1.79zM1205.87 601.34h1.79V618.34h-1.79zM1205.87 711.62h1.79V736.5h-1.79zM1207.66 441.25h1.79V451.27h-1.79zM1207.66 590.42h1.79V611.79h-1.79zM1209.45 598.63h1.79V616.58h-1.79zM1209.45 623.87h1.79V658.53h-1.79zM1209.45 734.7h1.79V736.5h-1.79zM1211.24 441.25h1.79V471.47h-1.79zM1211.24 586h1.79V605.34h-1.79zM1213.03 594.17h1.79V627.77h-1.79zM1213.03 642.18h1.79V661.08h-1.79zM1213.03 719.95h1.79V736.5h-1.79zM1214.82 441.25h1.79V471.83h-1.79zM1214.82 587.29h1.79V624.31h-1.79zM1216.61 441.25h1.79V459.23h-1.79zM1216.61 589.65h1.79V619.93h-1.79zM1218.4 441.25h1.79V458.92h-1.79zM1218.4 644.93h1.79V658.7h-1.79zM1220.19 441.25h1.79V461.78h-1.79zM1220.19 642.06h1.79V650.95h-1.79zM1221.98 611.57h1.79V656.72h-1.79zM1223.77 598.67h1.79V625.46h-1.79zM1223.77 640.19h1.79V648.84h-1.79zM1227.35 582.88h1.79V596.62h-1.79zM1229.14 617.51h1.79V647.96h-1.79zM1234.51 594.07h1.79V613.1h-1.79zM1238.09 634.18h1.79V646.38h-1.79zM1247.04 441.25h1.79V464.31h-1.79zM1209.45 590h1.79V650h-1.79zM1211.24 585h1.79V655h-1.79zM1213.03 590h1.79V650h-1.79zM1214.82 595h1.79V640h-1.79zM1216.61 590h1.79V645h-1.79zM1213.03 443h1.79V490h-1.79zM1214.82 443h1.79V480h-1.79zM1205.87 728h1.79V736h-1.79zM1207.66 728h1.79V736h-1.79z" fill="#14322C" filter="url(#b2)"/>
<path d="M1397.4 461.9h1.79V476.65h-1.79zM1404.56 450.1h1.79V476.65h-1.79zM1408.14 453.05h1.79V461.9h-1.79zM1424.25 456h1.79V461.9h-1.79zM1433.2 453.05h1.79V464.85h-1.79zM1434.99 458.95h1.79V467.8h-1.79zM1442.15 450.1h1.79V456h-1.79zM1452.89 453.05h1.79V464.85h-1.79zM1463.63 450.1h1.79V453.05h-1.79zM1465.42 456h1.79V458.95h-1.79zM1481.53 467.8h1.79V479.6h-1.79zM1483.32 458.95h1.79V464.85h-1.79zM1486.9 450.1h1.79V453.05h-1.79zM1492.27 450.1h1.79V453.05h-1.79zM1504.8 453.05h1.79V458.95h-1.79zM1508.38 453.05h1.79V456h-1.79zM1511.96 447.15h1.79V456h-1.79zM1517.33 447.15h1.79V453.05h-1.79zM1520.91 461.9h1.79V464.85h-1.79zM1524.49 450.1h1.79V464.85h-1.79zM1528.07 450.1h1.79V456h-1.79zM1529.86 456h1.79V464.85h-1.79zM1537.02 453.05h1.79V458.95h-1.79zM1542.39 456h1.79V458.95h-1.79zM1549.55 450.1h1.79V458.95h-1.79zM1553.13 447.15h1.79V456h-1.79z" fill="#2E8B1F" opacity="0.5" filter="url(#b1)"/>
<path d="M1393.82 441.25h1.79V456h-1.79zM1395.61 441.25h1.79V450.1h-1.79zM1397.4 441.25h1.79V461.9h-1.79zM1399.19 441.25h1.79V456h-1.79zM1400.98 441.25h1.79V450.1h-1.79zM1402.77 441.25h1.79V456h-1.79zM1404.56 441.25h1.79V450.1h-1.79zM1406.35 441.25h1.79V450.1h-1.79zM1408.14 441.25h1.79V453.05h-1.79zM1409.93 441.25h1.79V450.1h-1.79zM1411.72 441.25h1.79V450.1h-1.79zM1413.51 441.25h1.79V453.05h-1.79zM1415.3 441.25h1.79V464.85h-1.79zM1417.09 441.25h1.79V461.9h-1.79zM1418.88 441.25h1.79V450.1h-1.79zM1420.67 441.25h1.79V458.95h-1.79zM1422.46 441.25h1.79V467.8h-1.79zM1424.25 441.25h1.79V456h-1.79zM1426.04 441.25h1.79V464.85h-1.79zM1427.83 441.25h1.79V450.1h-1.79zM1429.62 441.25h1.79V447.15h-1.79zM1431.41 441.25h1.79V450.1h-1.79zM1433.2 441.25h1.79V453.05h-1.79zM1434.99 441.25h1.79V458.95h-1.79zM1436.78 441.25h1.79V456h-1.79zM1438.57 441.25h1.79V453.05h-1.79zM1440.36 441.25h1.79V450.1h-1.79zM1442.15 441.25h1.79V450.1h-1.79zM1443.94 441.25h1.79V453.05h-1.79zM1445.73 441.25h1.79V458.95h-1.79zM1447.52 441.25h1.79V456h-1.79zM1449.31 441.25h1.79V453.05h-1.79zM1451.1 441.25h1.79V456h-1.79zM1452.89 441.25h1.79V453.05h-1.79zM1454.68 441.25h1.79V456h-1.79zM1456.47 441.25h1.79V467.8h-1.79zM1458.26 441.25h1.79V450.1h-1.79zM1460.05 441.25h1.79V450.1h-1.79zM1461.84 441.25h1.79V453.05h-1.79zM1463.63 441.25h1.79V450.1h-1.79zM1465.42 441.25h1.79V456h-1.79zM1467.21 441.25h1.79V450.1h-1.79zM1469 441.25h1.79V453.05h-1.79zM1470.79 441.25h1.79V458.95h-1.79zM1472.58 441.25h1.79V461.9h-1.79zM1474.37 441.25h1.79V456h-1.79zM1476.16 441.25h1.79V456h-1.79zM1477.95 441.25h1.79V470.75h-1.79zM1479.74 441.25h1.79V450.1h-1.79zM1481.53 441.25h1.79V467.8h-1.79zM1483.32 441.25h1.79V458.95h-1.79zM1485.11 441.25h1.79V453.05h-1.79zM1486.9 441.25h1.79V450.1h-1.79zM1488.69 441.25h1.79V453.05h-1.79zM1490.48 441.25h1.79V447.15h-1.79zM1492.27 441.25h1.79V450.1h-1.79zM1494.06 441.25h1.79V464.85h-1.79zM1495.85 441.25h1.79V456h-1.79zM1497.64 441.25h1.79V450.1h-1.79zM1499.43 441.25h1.79V458.95h-1.79zM1501.22 441.25h1.79V464.85h-1.79zM1503.01 441.25h1.79V453.05h-1.79zM1504.8 441.25h1.79V453.05h-1.79zM1506.59 441.25h1.79V453.05h-1.79zM1508.38 441.25h1.79V453.05h-1.79zM1510.17 441.25h1.79V447.15h-1.79zM1511.96 441.25h1.79V447.15h-1.79zM1513.75 441.25h1.79V456h-1.79zM1515.54 441.25h1.79V447.15h-1.79zM1517.33 441.25h1.79V447.15h-1.79zM1519.12 441.25h1.79V453.05h-1.79zM1520.91 441.25h1.79V461.9h-1.79zM1522.7 441.25h1.79V447.15h-1.79zM1524.49 441.25h1.79V450.1h-1.79zM1526.28 441.25h1.79V456h-1.79zM1528.07 441.25h1.79V450.1h-1.79zM1529.86 441.25h1.79V456h-1.79zM1531.65 441.25h1.79V453.05h-1.79zM1533.44 441.25h1.79V447.15h-1.79zM1535.23 441.25h1.79V450.1h-1.79zM1537.02 441.25h1.79V453.05h-1.79zM1538.81 441.25h1.79V456h-1.79zM1540.6 441.25h1.79V453.05h-1.79zM1542.39 441.25h1.79V456h-1.79zM1544.18 441.25h1.79V447.15h-1.79zM1545.97 441.25h1.79V450.1h-1.79zM1547.76 441.25h1.79V456h-1.79zM1549.55 441.25h1.79V450.1h-1.79zM1551.34 441.25h1.79V447.15h-1.79zM1553.13 441.25h1.79V447.15h-1.79zM1554.92 441.25h1.79V453.05h-1.79zM1556.71 441.25h1.79V450.1h-1.79z" fill="#2E8B1F" filter="url(#b1)"/>
<path d="M1397.4 520.9h1.79V550.4h-1.79zM1399.19 520.9h1.79V550.4h-1.79zM1400.98 523.85h1.79V544.5h-1.79zM1402.77 523.85h1.79V553.35h-1.79zM1404.56 515h1.79V556.3h-1.79zM1408.14 517.95h1.79V550.4h-1.79zM1417.09 526.8h1.79V547.45h-1.79zM1418.88 509.1h1.79V559.25h-1.79zM1433.2 517.95h1.79V559.25h-1.79zM1438.57 526.8h1.79V544.5h-1.79zM1440.36 523.85h1.79V547.45h-1.79zM1442.15 515h1.79V562.2h-1.79zM1452.89 520.9h1.79V547.45h-1.79zM1456.47 512.05h1.79V547.45h-1.79zM1458.26 509.1h1.79V541.55h-1.79zM1461.84 520.9h1.79V544.5h-1.79zM1465.42 520.9h1.79V559.25h-1.79zM1472.58 520.9h1.79V553.35h-1.79zM1481.53 515h1.79V541.55h-1.79zM1486.9 526.8h1.79V547.45h-1.79zM1497.64 517.95h1.79V550.4h-1.79zM1501.22 523.85h1.79V544.5h-1.79zM1503.01 529.75h1.79V544.5h-1.79zM1508.38 523.85h1.79V541.55h-1.79zM1510.17 526.8h1.79V541.55h-1.79zM1511.96 523.85h1.79V541.55h-1.79zM1513.75 517.95h1.79V559.25h-1.79zM1517.33 517.95h1.79V556.3h-1.79zM1529.86 520.9h1.79V544.5h-1.79zM1537.02 520.9h1.79V550.4h-1.79zM1538.81 526.8h1.79V544.5h-1.79zM1544.18 520.9h1.79V553.35h-1.79zM1554.92 526.8h1.79V541.55h-1.79z" fill="#6DC3EC" opacity="0.3" filter="url(#b1)"/>
<path d="M1400.98 523.85h1.79V544.5h-1.79zM1402.77 526.8h1.79V550.4h-1.79z" fill="#6DC3EC" opacity="0.5" filter="url(#b1)"/>
<path d="M1404.56 523.85h1.79V547.45h-1.79zM1406.35 520.9h1.79V538.6h-1.79zM1411.72 526.8h1.79V544.5h-1.79zM1415.3 515h1.79V553.35h-1.79zM1429.62 520.9h1.79V550.4h-1.79zM1449.31 520.9h1.79V547.45h-1.79zM1452.89 520.9h1.79V547.45h-1.79zM1460.05 520.9h1.79V544.5h-1.79zM1486.9 529.75h1.79V544.5h-1.79zM1517.33 523.85h1.79V547.45h-1.79zM1531.65 523.85h1.79V541.55h-1.79zM1544.18 529.75h1.79V544.5h-1.79zM1556.71 529.75h1.79V541.55h-1.79z" fill="#6DC3EC" opacity="0.75" filter="url(#b1)"/>
<path d="M1408.14 523.85h1.79V544.5h-1.79zM1409.93 529.75h1.79V547.45h-1.79zM1413.51 520.9h1.79V550.4h-1.79zM1417.09 526.8h1.79V547.45h-1.79zM1418.88 523.85h1.79V544.5h-1.79zM1420.67 520.9h1.79V547.45h-1.79zM1422.46 520.9h1.79V541.55h-1.79zM1424.25 515h1.79V547.45h-1.79zM1426.04 526.8h1.79V541.55h-1.79zM1427.83 520.9h1.79V538.6h-1.79zM1431.41 529.75h1.79V547.45h-1.79zM1433.2 529.75h1.79V550.4h-1.79zM1434.99 523.85h1.79V544.5h-1.79zM1436.78 523.85h1.79V541.55h-1.79zM1438.57 526.8h1.79V541.55h-1.79zM1440.36 529.75h1.79V541.55h-1.79zM1442.15 526.8h1.79V553.35h-1.79zM1443.94 529.75h1.79V544.5h-1.79zM1445.73 520.9h1.79V547.45h-1.79zM1447.52 526.8h1.79V550.4h-1.79zM1451.1 526.8h1.79V541.55h-1.79zM1454.68 523.85h1.79V538.6h-1.79zM1456.47 520.9h1.79V538.6h-1.79zM1458.26 512.05h1.79V535.65h-1.79zM1461.84 523.85h1.79V541.55h-1.79zM1463.63 523.85h1.79V544.5h-1.79zM1465.42 529.75h1.79V550.4h-1.79zM1467.21 529.75h1.79V550.4h-1.79zM1469 532.7h1.79V547.45h-1.79zM1470.79 532.7h1.79V547.45h-1.79zM1472.58 529.75h1.79V547.45h-1.79zM1474.37 529.75h1.79V550.4h-1.79zM1476.16 529.75h1.79V544.5h-1.79zM1477.95 529.75h1.79V541.55h-1.79zM1479.74 523.85h1.79V538.6h-1.79zM1481.53 520.9h1.79V535.65h-1.79zM1483.32 520.9h1.79V535.65h-1.79zM1485.11 523.85h1.79V547.45h-1.79zM1488.69 523.85h1.79V547.45h-1.79zM1490.48 523.85h1.79V538.6h-1.79zM1492.27 526.8h1.79V544.5h-1.79zM1494.06 526.8h1.79V547.45h-1.79zM1495.85 526.8h1.79V544.5h-1.79zM1497.64 526.8h1.79V541.55h-1.79zM1499.43 526.8h1.79V547.45h-1.79zM1501.22 526.8h1.79V544.5h-1.79zM1503.01 529.75h1.79V544.5h-1.79zM1504.8 526.8h1.79V544.5h-1.79zM1506.59 520.9h1.79V541.55h-1.79zM1508.38 523.85h1.79V541.55h-1.79zM1510.17 526.8h1.79V541.55h-1.79zM1511.96 526.8h1.79V538.6h-1.79zM1513.75 529.75h1.79V547.45h-1.79zM1515.54 529.75h1.79V547.45h-1.79zM1519.12 526.8h1.79V538.6h-1.79zM1520.91 529.75h1.79V544.5h-1.79zM1522.7 523.85h1.79V547.45h-1.79zM1524.49 526.8h1.79V547.45h-1.79zM1526.28 529.75h1.79V544.5h-1.79zM1528.07 529.75h1.79V541.55h-1.79zM1529.86 523.85h1.79V541.55h-1.79zM1533.44 526.8h1.79V547.45h-1.79zM1535.23 526.8h1.79V547.45h-1.79zM1537.02 529.75h1.79V541.55h-1.79zM1538.81 529.75h1.79V541.55h-1.79zM1540.6 526.8h1.79V544.5h-1.79zM1542.39 529.75h1.79V544.5h-1.79zM1545.97 526.8h1.79V538.6h-1.79zM1547.76 526.8h1.79V541.55h-1.79zM1549.55 526.8h1.79V547.45h-1.79zM1551.34 526.8h1.79V535.65h-1.79zM1553.13 523.85h1.79V538.6h-1.79zM1554.92 526.8h1.79V541.55h-1.79z" fill="#6DC3EC" filter="url(#b1)"/>
<path d="M1397.4 532.2h1.79V568.14h-1.79zM1399.19 585.39h1.79V606.95h-1.79zM1400.98 554.48h1.79V583.61h-1.79zM1402.77 543.87h1.79V568.8h-1.79zM1404.56 556.75h1.79V576.47h-1.79zM1413.51 557.57h1.79V574.75h-1.79zM1418.88 535.3h1.79V585.45h-1.79zM1420.67 572.36h1.79V591.47h-1.79zM1422.46 556.19h1.79V600.63h-1.79zM1422.46 569.38h1.79V616.21h-1.79zM1424.25 554.65h1.79V588.12h-1.79zM1426.04 534.92h1.79V586.64h-1.79zM1429.62 539.07h1.79V569.01h-1.79zM1431.41 559.71h1.79V580.23h-1.79zM1433.2 522.25h1.79V573.17h-1.79zM1434.99 559.28h1.79V584.93h-1.79zM1436.78 556.35h1.79V590.23h-1.79zM1440.36 559.44h1.79V599.16h-1.79zM1443.94 549.27h1.79V578.13h-1.79zM1445.73 558.53h1.79V589.15h-1.79zM1452.89 566.09h1.79V619.79h-1.79zM1458.26 570.47h1.79V618.93h-1.79zM1460.05 572.64h1.79V593.61h-1.79zM1461.84 575.41h1.79V602.43h-1.79zM1467.21 546.87h1.79V610.8h-1.79zM1470.79 531.16h1.79V569.8h-1.79zM1472.58 554.71h1.79V589.74h-1.79zM1474.37 561.73h1.79V606.11h-1.79zM1476.16 538.51h1.79V602.04h-1.79zM1481.53 568.18h1.79V622.13h-1.79zM1485.11 549.58h1.79V600.14h-1.79zM1486.9 540.88h1.79V577.5h-1.79zM1490.48 524.14h1.79V583.35h-1.79zM1492.27 550.72h1.79V579.29h-1.79zM1495.85 541.61h1.79V580.28h-1.79zM1501.22 566.34h1.79V588.3h-1.79zM1503.01 557.78h1.79V583.55h-1.79zM1504.8 556.56h1.79V586.88h-1.79zM1508.38 577.17h1.79V601h-1.79zM1511.96 560.53h1.79V597.93h-1.79zM1515.54 521.68h1.79V552.68h-1.79zM1517.33 561.56h1.79V607.38h-1.79zM1519.12 588.1h1.79V607.46h-1.79zM1524.49 562.67h1.79V630.06h-1.79zM1526.28 564.16h1.79V595.57h-1.79zM1529.86 587.75h1.79V608.52h-1.79zM1533.44 547.26h1.79V595.68h-1.79zM1535.23 566.7h1.79V602.98h-1.79zM1537.02 567.69h1.79V606.15h-1.79zM1538.81 554.05h1.79V588.24h-1.79zM1545.97 523.08h1.79V574.75h-1.79zM1547.76 542.8h1.79V585.13h-1.79zM1549.55 589.17h1.79V608.4h-1.79z" fill="#9E1B20" opacity="0.3" filter="url(#b2)"/>
<path d="M1417.09 555.47h1.79V581.15h-1.79zM1424.25 563.96h1.79V590.01h-1.79zM1438.57 534.24h1.79V598.52h-1.79zM1440.36 562.14h1.79V585.36h-1.79zM1442.15 570.74h1.79V592.62h-1.79zM1445.73 562.4h1.79V578.66h-1.79zM1456.47 561.05h1.79V592.89h-1.79zM1492.27 553h1.79V575.22h-1.79zM1499.43 539.54h1.79V588.08h-1.79zM1515.54 532.09h1.79V562.97h-1.79z" fill="#9E1B20" opacity="0.5" filter="url(#b2)"/>
<path d="M1429.62 557.42h1.79V574.77h-1.79zM1431.41 562.1h1.79V579.53h-1.79zM1433.2 537.72h1.79V557.38h-1.79zM1449.31 558.67h1.79V575.53h-1.79zM1451.1 545.97h1.79V563.42h-1.79zM1461.84 585.11h1.79V605.09h-1.79zM1470.79 541.9h1.79V570.12h-1.79zM1474.37 565.9h1.79V595.91h-1.79zM1479.74 596.26h1.79V624.35h-1.79zM1481.53 580.6h1.79V598.28h-1.79zM1486.9 544.34h1.79V567.99h-1.79zM1490.48 535.23h1.79V563.34h-1.79zM1495.85 547.1h1.79V566.43h-1.79zM1497.64 550.48h1.79V584.65h-1.79zM1503.01 569.83h1.79V584.17h-1.79zM1511.96 565.45h1.79V589.94h-1.79zM1554.92 554.39h1.79V577.24h-1.79z" fill="#9E1B20" opacity="0.75" filter="url(#b2)"/>
<path d="M1463.63 580.34h1.79V605.95h-1.79zM1467.21 557.03h1.79V597.85h-1.79zM1469 559.96h1.79V581.63h-1.79zM1476.16 571.63h1.79V592.71h-1.79zM1483.32 569.02h1.79V602.73h-1.79zM1485.11 560.18h1.79V589.55h-1.79zM1504.8 565.46h1.79V587.55h-1.79zM1508.38 573.91h1.79V595.2h-1.79zM1517.33 567.74h1.79V600.96h-1.79zM1520.91 538.66h1.79V578.34h-1.79zM1522.7 577.56h1.79V594.36h-1.79zM1524.49 576.87h1.79V619.85h-1.79zM1528.07 560.19h1.79V574.83h-1.79zM1535.23 578.27h1.79V593.74h-1.79zM1537.02 560.89h1.79V597.13h-1.79zM1538.81 562.72h1.79V579.67h-1.79zM1540.6 580.64h1.79V596.39h-1.79zM1542.39 562.83h1.79V586.95h-1.79zM1544.18 580.11h1.79V603.27h-1.79zM1547.76 555.18h1.79V576.29h-1.79zM1551.34 547.66h1.79V568.64h-1.79zM1553.13 548.64h1.79V571.09h-1.79zM1556.71 568.83h1.79V588.51h-1.79z" fill="#9E1B20" filter="url(#b2)"/>
<path d="M1397.4 641.85h1.79V662.5h-1.79zM1399.19 635.95h1.79V656.6h-1.79zM1402.77 621.2h1.79V659.55h-1.79zM1409.93 624.15h1.79V668.4h-1.79zM1413.51 638.9h1.79V665.45h-1.79zM1415.3 630.05h1.79V680.2h-1.79zM1417.09 627.1h1.79V662.5h-1.79zM1422.46 630.05h1.79V659.55h-1.79zM1426.04 621.2h1.79V647.75h-1.79zM1431.41 618.25h1.79V662.5h-1.79zM1436.78 635.95h1.79V671.35h-1.79zM1438.57 630.05h1.79V662.5h-1.79zM1440.36 633h1.79V668.4h-1.79zM1449.31 618.25h1.79V668.4h-1.79zM1452.89 603.5h1.79V662.5h-1.79zM1456.47 618.25h1.79V659.55h-1.79zM1460.05 627.1h1.79V662.5h-1.79zM1461.84 630.05h1.79V656.6h-1.79zM1469 633h1.79V656.6h-1.79zM1472.58 621.2h1.79V668.4h-1.79zM1474.37 630.05h1.79V665.45h-1.79zM1479.74 635.95h1.79V665.45h-1.79zM1481.53 635.95h1.79V665.45h-1.79zM1483.32 635.95h1.79V665.45h-1.79zM1488.69 624.15h1.79V665.45h-1.79zM1494.06 633h1.79V662.5h-1.79zM1495.85 633h1.79V665.45h-1.79zM1501.22 630.05h1.79V650.7h-1.79zM1503.01 624.15h1.79V656.6h-1.79zM1517.33 615.3h1.79V662.5h-1.79zM1522.7 615.3h1.79V668.4h-1.79zM1531.65 638.9h1.79V665.45h-1.79zM1537.02 638.9h1.79V653.65h-1.79zM1542.39 633h1.79V653.65h-1.79zM1545.97 638.9h1.79V668.4h-1.79zM1554.92 635.95h1.79V659.55h-1.79z" fill="#F28E1C" opacity="0.3" filter="url(#b1)"/>
<path d="M1400.98 633h1.79V656.6h-1.79z" fill="#F28E1C" opacity="0.5" filter="url(#b1)"/>
<path d="M1402.77 627.1h1.79V653.65h-1.79zM1404.56 633h1.79V656.6h-1.79zM1408.14 633h1.79V659.55h-1.79zM1422.46 630.05h1.79V656.6h-1.79zM1445.73 638.9h1.79V659.55h-1.79zM1490.48 638.9h1.79V653.65h-1.79zM1499.43 630.05h1.79V644.8h-1.79zM1519.12 633h1.79V647.75h-1.79zM1520.91 635.95h1.79V647.75h-1.79zM1535.23 638.9h1.79V656.6h-1.79zM1544.18 638.9h1.79V653.65h-1.79zM1547.76 647.75h1.79V662.5h-1.79z" fill="#F28E1C" opacity="0.75" filter="url(#b1)"/>
<path d="M1406.35 635.95h1.79V656.6h-1.79zM1409.93 633h1.79V659.55h-1.79zM1411.72 638.9h1.79V668.4h-1.79zM1413.51 641.85h1.79V662.5h-1.79zM1415.3 633h1.79V677.25h-1.79zM1417.09 635.95h1.79V653.65h-1.79zM1418.88 635.95h1.79V653.65h-1.79zM1420.67 635.95h1.79V653.65h-1.79zM1424.25 627.1h1.79V656.6h-1.79zM1426.04 621.2h1.79V647.75h-1.79zM1427.83 627.1h1.79V644.8h-1.79zM1429.62 627.1h1.79V644.8h-1.79zM1431.41 621.2h1.79V659.55h-1.79zM1433.2 630.05h1.79V656.6h-1.79zM1434.99 641.85h1.79V659.55h-1.79zM1436.78 641.85h1.79V665.45h-1.79zM1438.57 635.95h1.79V659.55h-1.79zM1440.36 638.9h1.79V662.5h-1.79zM1442.15 627.1h1.79V665.45h-1.79zM1443.94 630.05h1.79V662.5h-1.79zM1447.52 635.95h1.79V653.65h-1.79zM1449.31 630.05h1.79V656.6h-1.79zM1451.1 630.05h1.79V650.7h-1.79zM1452.89 621.2h1.79V647.75h-1.79zM1454.68 627.1h1.79V644.8h-1.79zM1456.47 624.15h1.79V650.7h-1.79zM1458.26 630.05h1.79V647.75h-1.79zM1460.05 630.05h1.79V659.55h-1.79zM1461.84 630.05h1.79V656.6h-1.79zM1463.63 630.05h1.79V653.65h-1.79zM1465.42 633h1.79V656.6h-1.79zM1467.21 635.95h1.79V659.55h-1.79zM1469 635.95h1.79V653.65h-1.79zM1470.79 633h1.79V659.55h-1.79zM1472.58 635.95h1.79V653.65h-1.79zM1474.37 638.9h1.79V659.55h-1.79zM1476.16 633h1.79V653.65h-1.79zM1477.95 638.9h1.79V659.55h-1.79zM1479.74 638.9h1.79V662.5h-1.79zM1481.53 638.9h1.79V665.45h-1.79zM1483.32 641.85h1.79V659.55h-1.79zM1485.11 633h1.79V653.65h-1.79zM1486.9 633h1.79V659.55h-1.79zM1488.69 633h1.79V653.65h-1.79zM1492.27 641.85h1.79V656.6h-1.79zM1494.06 635.95h1.79V659.55h-1.79zM1495.85 635.95h1.79V662.5h-1.79zM1497.64 635.95h1.79V650.7h-1.79zM1501.22 633h1.79V647.75h-1.79zM1503.01 633h1.79V647.75h-1.79zM1504.8 633h1.79V650.7h-1.79zM1506.59 624.15h1.79V650.7h-1.79zM1508.38 633h1.79V662.5h-1.79zM1510.17 638.9h1.79V656.6h-1.79zM1511.96 633h1.79V659.55h-1.79zM1513.75 633h1.79V665.45h-1.79zM1515.54 635.95h1.79V653.65h-1.79zM1517.33 624.15h1.79V653.65h-1.79zM1522.7 630.05h1.79V653.65h-1.79zM1524.49 633h1.79V650.7h-1.79zM1526.28 627.1h1.79V650.7h-1.79zM1528.07 633h1.79V647.75h-1.79zM1529.86 635.95h1.79V650.7h-1.79zM1531.65 641.85h1.79V659.55h-1.79zM1533.44 638.9h1.79V656.6h-1.79zM1537.02 638.9h1.79V650.7h-1.79zM1538.81 633h1.79V650.7h-1.79zM1540.6 633h1.79V650.7h-1.79zM1542.39 633h1.79V650.7h-1.79zM1545.97 641.85h1.79V662.5h-1.79zM1549.55 641.85h1.79V665.45h-1.79zM1551.34 633h1.79V662.5h-1.79zM1553.13 641.85h1.79V656.6h-1.79zM1554.92 638.9h1.79V653.65h-1.79zM1556.71 638.9h1.79V650.7h-1.79z" fill="#F28E1C" filter="url(#b1)"/>
<path d="M1397.4 715.6h1.79V724.45h-1.79zM1399.19 712.65h1.79V721.5h-1.79zM1404.56 700.85h1.79V736.5h-1.79zM1408.14 709.7h1.79V724.45h-1.79zM1409.93 703.8h1.79V730.35h-1.79zM1413.51 706.75h1.79V730.35h-1.79zM1415.3 706.75h1.79V730.35h-1.79zM1417.09 709.7h1.79V727.4h-1.79zM1418.88 709.7h1.79V721.5h-1.79zM1420.67 709.7h1.79V724.45h-1.79zM1426.04 712.65h1.79V724.45h-1.79zM1433.2 709.7h1.79V727.4h-1.79zM1436.78 709.7h1.79V733.3h-1.79zM1442.15 706.75h1.79V730.35h-1.79zM1445.73 709.7h1.79V724.45h-1.79zM1447.52 706.75h1.79V730.35h-1.79zM1451.1 706.75h1.79V727.4h-1.79zM1454.68 715.6h1.79V733.3h-1.79zM1458.26 715.6h1.79V724.45h-1.79zM1461.84 709.7h1.79V733.3h-1.79zM1467.21 709.7h1.79V727.4h-1.79zM1470.79 709.7h1.79V724.45h-1.79zM1486.9 706.75h1.79V727.4h-1.79zM1490.48 709.7h1.79V724.45h-1.79zM1497.64 712.65h1.79V730.35h-1.79zM1499.43 709.7h1.79V727.4h-1.79zM1501.22 715.6h1.79V727.4h-1.79zM1508.38 712.65h1.79V727.4h-1.79zM1511.96 703.8h1.79V727.4h-1.79zM1515.54 706.75h1.79V730.35h-1.79zM1517.33 706.75h1.79V727.4h-1.79zM1520.91 712.65h1.79V724.45h-1.79zM1522.7 709.7h1.79V730.35h-1.79zM1524.49 712.65h1.79V727.4h-1.79zM1526.28 709.7h1.79V727.4h-1.79zM1533.44 709.7h1.79V724.45h-1.79zM1535.23 706.75h1.79V730.35h-1.79zM1537.02 712.65h1.79V724.45h-1.79zM1542.39 715.6h1.79V724.45h-1.79zM1544.18 712.65h1.79V724.45h-1.79zM1547.76 706.75h1.79V727.4h-1.79z" fill="#5B74EE" opacity="0.3" filter="url(#b1)"/>
<path d="M1402.77 715.6h1.79V727.4h-1.79z" fill="#5B74EE" opacity="0.5" filter="url(#b1)"/>
<path d="M1400.98 709.7h1.79V724.45h-1.79zM1406.35 715.6h1.79V724.45h-1.79zM1413.51 709.7h1.79V724.45h-1.79zM1431.41 709.7h1.79V730.35h-1.79zM1433.2 715.6h1.79V724.45h-1.79zM1442.15 712.65h1.79V724.45h-1.79zM1465.42 715.6h1.79V727.4h-1.79zM1469 706.75h1.79V727.4h-1.79zM1470.79 712.65h1.79V724.45h-1.79zM1472.58 712.65h1.79V724.45h-1.79zM1485.11 709.7h1.79V718.55h-1.79zM1497.64 715.6h1.79V727.4h-1.79zM1503.01 712.65h1.79V724.45h-1.79zM1506.59 715.6h1.79V727.4h-1.79zM1529.86 712.65h1.79V721.5h-1.79zM1531.65 712.65h1.79V724.45h-1.79zM1538.81 715.6h1.79V724.45h-1.79zM1551.34 712.65h1.79V721.5h-1.79z" fill="#5B74EE" opacity="0.75" filter="url(#b1)"/>
<path d="M1404.56 712.65h1.79V730.35h-1.79zM1408.14 712.65h1.79V721.5h-1.79zM1409.93 709.7h1.79V724.45h-1.79zM1411.72 706.75h1.79V724.45h-1.79zM1415.3 709.7h1.79V724.45h-1.79zM1417.09 712.65h1.79V727.4h-1.79zM1418.88 709.7h1.79V721.5h-1.79zM1420.67 712.65h1.79V724.45h-1.79zM1422.46 712.65h1.79V727.4h-1.79zM1424.25 712.65h1.79V721.5h-1.79zM1426.04 715.6h1.79V724.45h-1.79zM1427.83 712.65h1.79V724.45h-1.79zM1429.62 712.65h1.79V724.45h-1.79zM1434.99 718.55h1.79V730.35h-1.79zM1436.78 715.6h1.79V727.4h-1.79zM1438.57 712.65h1.79V724.45h-1.79zM1440.36 712.65h1.79V724.45h-1.79zM1443.94 709.7h1.79V721.5h-1.79zM1445.73 712.65h1.79V724.45h-1.79zM1447.52 712.65h1.79V727.4h-1.79zM1449.31 715.6h1.79V727.4h-1.79zM1451.1 712.65h1.79V724.45h-1.79zM1452.89 715.6h1.79V727.4h-1.79zM1454.68 715.6h1.79V733.3h-1.79zM1456.47 715.6h1.79V724.45h-1.79zM1458.26 715.6h1.79V724.45h-1.79zM1460.05 712.65h1.79V724.45h-1.79zM1461.84 715.6h1.79V727.4h-1.79zM1463.63 715.6h1.79V727.4h-1.79zM1467.21 712.65h1.79V724.45h-1.79zM1474.37 709.7h1.79V727.4h-1.79zM1476.16 712.65h1.79V721.5h-1.79zM1477.95 712.65h1.79V721.5h-1.79zM1479.74 709.7h1.79V721.5h-1.79zM1481.53 712.65h1.79V724.45h-1.79zM1483.32 709.7h1.79V718.55h-1.79zM1486.9 709.7h1.79V721.5h-1.79zM1488.69 712.65h1.79V721.5h-1.79zM1490.48 712.65h1.79V721.5h-1.79zM1492.27 712.65h1.79V721.5h-1.79zM1494.06 712.65h1.79V721.5h-1.79zM1495.85 709.7h1.79V724.45h-1.79zM1499.43 712.65h1.79V724.45h-1.79zM1501.22 715.6h1.79V724.45h-1.79zM1504.8 715.6h1.79V724.45h-1.79zM1508.38 715.6h1.79V724.45h-1.79zM1510.17 709.7h1.79V727.4h-1.79zM1511.96 709.7h1.79V721.5h-1.79zM1513.75 715.6h1.79V724.45h-1.79zM1515.54 712.65h1.79V721.5h-1.79zM1517.33 709.7h1.79V724.45h-1.79zM1519.12 715.6h1.79V721.5h-1.79zM1520.91 715.6h1.79V724.45h-1.79zM1522.7 712.65h1.79V724.45h-1.79zM1524.49 715.6h1.79V724.45h-1.79zM1526.28 712.65h1.79V724.45h-1.79zM1528.07 715.6h1.79V724.45h-1.79zM1533.44 709.7h1.79V724.45h-1.79zM1535.23 709.7h1.79V724.45h-1.79zM1537.02 712.65h1.79V724.45h-1.79zM1540.6 715.6h1.79V724.45h-1.79zM1542.39 715.6h1.79V724.45h-1.79zM1544.18 715.6h1.79V721.5h-1.79zM1545.97 715.6h1.79V724.45h-1.79zM1547.76 712.65h1.79V724.45h-1.79zM1549.55 712.65h1.79V721.5h-1.79zM1553.13 715.6h1.79V721.5h-1.79zM1554.92 715.6h1.79V721.5h-1.79zM1556.71 712.65h1.79V721.5h-1.79z" fill="#5B74EE" filter="url(#b1)"/>
<path d="M1379.5 558.68h1.79V584.69h-1.79zM1379.5 569.89h1.79V703.91h-1.79zM1381.29 548.35h1.79V561.18h-1.79zM1381.29 629.55h1.79V651.32h-1.79zM1381.29 513.51h1.79V620.65h-1.79zM1383.08 621.44h1.79V633.74h-1.79zM1392.03 663.24h1.79V727.06h-1.79zM1395.61 441.25h1.79V566.46h-1.79zM1397.4 556.93h1.79V628.56h-1.79zM1399.19 565.65h1.79V616.17h-1.79zM1400.98 644.45h1.79V723.01h-1.79zM1402.77 470.29h1.79V613.85h-1.79z" fill="#14322C" opacity="0.3" filter="url(#b2)"/>
<path d="M1384.87 441.25h1.79V448.78h-1.79zM1384.87 525.71h1.79V536.43h-1.79zM1384.87 599h1.79V687.08h-1.79zM1386.66 632.52h1.79V643.94h-1.79zM1390.24 705.28h1.79V724.16h-1.79zM1395.61 562.48h1.79V580.05h-1.79zM1402.77 538.5h1.79V612.71h-1.79zM1406.35 441.25h1.79V451.35h-1.79zM1409.93 695.41h1.79V736.02h-1.79zM1424.25 569.57h1.79V586.06h-1.79zM1429.62 630h1.79V660h-1.79z" fill="#14322C" opacity="0.5" filter="url(#b2)"/>
<path d="M1384.87 563.76h1.79V588.68h-1.79zM1388.45 541.76h1.79V586.44h-1.79zM1388.45 650.09h1.79V670.12h-1.79zM1388.45 698.8h1.79V728.56h-1.79zM1392.03 692.29h1.79V736.5h-1.79zM1393.82 441.25h1.79V461.45h-1.79zM1395.61 622.54h1.79V646.8h-1.79zM1395.61 697.03h1.79V734.52h-1.79zM1400.98 441.25h1.79V457.47h-1.79zM1400.98 643.57h1.79V663.3h-1.79zM1404.56 441.25h1.79V453.46h-1.79zM1404.56 522.17h1.79V538.38h-1.79zM1404.56 554.49h1.79V568.49h-1.79zM1404.56 644.08h1.79V658.72h-1.79zM1420.67 636.09h1.79V658.66h-1.79zM1393.82 700h1.79V736h-1.79zM1413.51 520h1.79V555h-1.79z" fill="#14322C" opacity="0.75" filter="url(#b2)"/>
<path d="M1384.87 708.12h1.79V736.5h-1.79zM1386.66 521.42h1.79V583.21h-1.79zM1386.66 556.58h1.79V567.69h-1.79zM1386.66 695.6h1.79V719.6h-1.79zM1388.45 441.25h1.79V452.51h-1.79zM1388.45 510.31h1.79V530.34h-1.79zM1390.24 516.49h1.79V534.86h-1.79zM1390.24 538.33h1.79V591.54h-1.79zM1390.24 635.11h1.79V655.56h-1.79zM1392.03 441.25h1.79V480.34h-1.79zM1392.03 572.61h1.79V581.6h-1.79zM1392.03 624.53h1.79V663.25h-1.79zM1393.82 549.64h1.79V594.62h-1.79zM1393.82 634.92h1.79V665.88h-1.79zM1393.82 715.18h1.79V723.38h-1.79zM1395.61 441.25h1.79V473.58h-1.79zM1397.4 635.77h1.79V668.29h-1.79zM1399.19 441.25h1.79V451.95h-1.79zM1399.19 700.84h1.79V736.5h-1.79zM1400.98 562.68h1.79V581.74h-1.79zM1400.98 694.08h1.79V736.34h-1.79zM1402.77 708.44h1.79V736.5h-1.79zM1406.35 560.49h1.79V570.26h-1.79zM1408.14 717.09h1.79V727.7h-1.79zM1415.3 521.75h1.79V540.69h-1.79zM1415.3 616.08h1.79V661.62h-1.79zM1436.78 606.56h1.79V653.76h-1.79zM1402.77 520h1.79V560h-1.79zM1404.56 525h1.79V555h-1.79zM1386.66 715h1.79V736h-1.79zM1388.45 712h1.79V736h-1.79zM1390.24 718h1.79V736h-1.79zM1404.56 690h1.79V725h-1.79z" fill="#14322C" filter="url(#b2)"/>
<path d="M1572.82 450.1h1.79V453.05h-1.79zM1578.19 447.15h1.79V470.75h-1.79zM1594.3 450.1h1.79V464.85h-1.79zM1601.46 453.05h1.79V482.55h-1.79zM1621.15 458.95h1.79V461.9h-1.79zM1624.73 447.15h1.79V450.1h-1.79zM1646.21 458.95h1.79V461.9h-1.79zM1674.85 453.05h1.79V456h-1.79zM1676.64 456h1.79V458.95h-1.79zM1683.8 447.15h1.79V450.1h-1.79zM1687.38 450.1h1.79V453.05h-1.79zM1698.12 447.15h1.79V456h-1.79zM1701.7 453.05h1.79V458.95h-1.79zM1710.65 447.15h1.79V453.05h-1.79zM1719.6 447.15h1.79V458.95h-1.79z" fill="#2E8B1F" opacity="0.5" filter="url(#b1)"/>
<path d="M1572.82 441.25h1.79V450.1h-1.79zM1574.61 441.25h1.79V453.05h-1.79zM1576.4 441.25h1.79V458.95h-1.79zM1578.19 441.25h1.79V447.15h-1.79zM1579.98 441.25h1.79V453.05h-1.79zM1581.77 441.25h1.79V453.05h-1.79zM1583.56 441.25h1.79V458.95h-1.79zM1585.35 441.25h1.79V453.05h-1.79zM1587.14 441.25h1.79V453.05h-1.79zM1588.93 441.25h1.79V450.1h-1.79zM1590.72 441.25h1.79V456h-1.79zM1592.51 441.25h1.79V450.1h-1.79zM1594.3 441.25h1.79V450.1h-1.79zM1596.09 441.25h1.79V456h-1.79zM1597.88 441.25h1.79V450.1h-1.79zM1599.67 441.25h1.79V458.95h-1.79zM1601.46 441.25h1.79V453.05h-1.79zM1603.25 441.25h1.79V450.1h-1.79zM1605.04 441.25h1.79V450.1h-1.79zM1606.83 441.25h1.79V461.9h-1.79zM1608.62 441.25h1.79V458.95h-1.79zM1610.41 441.25h1.79V458.95h-1.79zM1612.2 441.25h1.79V456h-1.79zM1613.99 441.25h1.79V456h-1.79zM1615.78 441.25h1.79V456h-1.79zM1617.57 441.25h1.79V458.95h-1.79zM1619.36 441.25h1.79V456h-1.79zM1621.15 441.25h1.79V458.95h-1.79zM1622.94 441.25h1.79V450.1h-1.79zM1624.73 441.25h1.79V447.15h-1.79zM1626.52 441.25h1.79V453.05h-1.79zM1628.31 441.25h1.79V450.1h-1.79zM1630.1 441.25h1.79V447.15h-1.79zM1631.89 441.25h1.79V447.15h-1.79zM1633.68 441.25h1.79V450.1h-1.79zM1635.47 441.25h1.79V450.1h-1.79zM1637.26 441.25h1.79V450.1h-1.79zM1639.05 441.25h1.79V464.85h-1.79zM1640.84 441.25h1.79V456h-1.79zM1642.63 441.25h1.79V447.15h-1.79zM1644.42 441.25h1.79V453.05h-1.79zM1646.21 441.25h1.79V458.95h-1.79zM1648 441.25h1.79V450.1h-1.79zM1649.79 441.25h1.79V458.95h-1.79zM1651.58 441.25h1.79V450.1h-1.79zM1653.37 441.25h1.79V447.15h-1.79zM1655.16 441.25h1.79V453.05h-1.79zM1656.95 441.25h1.79V450.1h-1.79zM1658.74 441.25h1.79V450.1h-1.79zM1660.53 441.25h1.79V453.05h-1.79zM1662.32 441.25h1.79V453.05h-1.79zM1664.11 441.25h1.79V447.15h-1.79zM1665.9 441.25h1.79V447.15h-1.79zM1667.69 441.25h1.79V453.05h-1.79zM1669.48 441.25h1.79V450.1h-1.79zM1671.27 441.25h1.79V447.15h-1.79zM1673.06 441.25h1.79V453.05h-1.79zM1674.85 441.25h1.79V453.05h-1.79zM1676.64 441.25h1.79V456h-1.79zM1678.43 441.25h1.79V450.1h-1.79zM1680.22 441.25h1.79V461.9h-1.79zM1682.01 441.25h1.79V453.05h-1.79zM1683.8 441.25h1.79V447.15h-1.79zM1685.59 441.25h1.79V447.15h-1.79zM1687.38 441.25h1.79V450.1h-1.79zM1689.17 441.25h1.79V447.15h-1.79zM1690.96 441.25h1.79V447.15h-1.79zM1692.75 441.25h1.79V447.15h-1.79zM1694.54 441.25h1.79V447.15h-1.79zM1696.33 441.25h1.79V456h-1.79zM1698.12 441.25h1.79V447.15h-1.79zM1699.91 441.25h1.79V453.05h-1.79zM1701.7 441.25h1.79V453.05h-1.79zM1703.49 441.25h1.79V453.05h-1.79zM1705.28 441.25h1.79V456h-1.79zM1707.07 441.25h1.79V447.15h-1.79zM1708.86 441.25h1.79V458.95h-1.79zM1710.65 441.25h1.79V447.15h-1.79zM1712.44 441.25h1.79V453.05h-1.79zM1714.23 441.25h1.79V458.95h-1.79zM1716.02 441.25h1.79V453.05h-1.79zM1717.81 441.25h1.79V450.1h-1.79zM1719.6 441.25h1.79V447.15h-1.79zM1721.39 441.25h1.79V450.1h-1.79zM1723.18 441.25h1.79V450.1h-1.79zM1724.97 441.25h1.79V453.05h-1.79zM1726.76 441.25h1.79V447.15h-1.79zM1728.55 441.25h1.79V447.15h-1.79zM1730.34 441.25h1.79V447.15h-1.79zM1732.13 441.25h1.79V447.15h-1.79zM1733.92 441.25h1.79V447.15h-1.79zM1735.71 441.25h1.79V450.1h-1.79z" fill="#2E8B1F" filter="url(#b1)"/>
<path d="M1576.4 488.45h1.79V509.1h-1.79zM1576.4 488.45h1.79V509.1h-1.79zM1578.19 491.4h1.79V506.15h-1.79zM1581.77 485.5h1.79V520.9h-1.79zM1585.35 491.4h1.79V515h-1.79zM1596.09 491.4h1.79V512.05h-1.79zM1597.88 491.4h1.79V517.95h-1.79zM1601.46 491.4h1.79V526.8h-1.79zM1608.62 485.5h1.79V512.05h-1.79zM1610.41 491.4h1.79V512.05h-1.79zM1617.57 482.55h1.79V529.75h-1.79zM1619.36 503.2h1.79V523.85h-1.79zM1624.73 485.5h1.79V520.9h-1.79zM1628.31 485.5h1.79V506.15h-1.79zM1631.89 488.45h1.79V523.85h-1.79zM1648 494.35h1.79V512.05h-1.79zM1651.58 494.35h1.79V517.95h-1.79zM1653.37 488.45h1.79V523.85h-1.79zM1656.95 488.45h1.79V512.05h-1.79zM1662.32 485.5h1.79V520.9h-1.79zM1665.9 488.45h1.79V523.85h-1.79zM1667.69 491.4h1.79V523.85h-1.79zM1674.85 488.45h1.79V520.9h-1.79zM1676.64 497.3h1.79V512.05h-1.79zM1682.01 485.5h1.79V512.05h-1.79zM1683.8 485.5h1.79V520.9h-1.79zM1687.38 494.35h1.79V517.95h-1.79zM1698.12 491.4h1.79V515h-1.79zM1701.7 482.55h1.79V520.9h-1.79zM1703.49 491.4h1.79V520.9h-1.79zM1707.07 491.4h1.79V520.9h-1.79zM1719.6 488.45h1.79V520.9h-1.79zM1723.18 497.3h1.79V509.1h-1.79zM1728.55 485.5h1.79V512.05h-1.79z" fill="#6DC3EC" opacity="0.3" filter="url(#b1)"/>
<path d="M1579.98 494.35h1.79V509.1h-1.79z" fill="#6DC3EC" opacity="0.5" filter="url(#b1)"/>
<path d="M1581.77 491.4h1.79V515h-1.79zM1585.35 494.35h1.79V512.05h-1.79zM1594.3 494.35h1.79V515h-1.79zM1599.67 488.45h1.79V515h-1.79zM1603.25 491.4h1.79V515h-1.79zM1612.2 497.3h1.79V515h-1.79zM1626.52 491.4h1.79V509.1h-1.79zM1640.84 497.3h1.79V515h-1.79zM1651.58 497.3h1.79V515h-1.79zM1664.11 491.4h1.79V515h-1.79zM1694.54 491.4h1.79V509.1h-1.79zM1698.12 497.3h1.79V509.1h-1.79zM1708.86 500.25h1.79V509.1h-1.79zM1712.44 497.3h1.79V515h-1.79zM1714.23 500.25h1.79V512.05h-1.79zM1721.39 494.35h1.79V509.1h-1.79z" fill="#6DC3EC" opacity="0.75" filter="url(#b1)"/>
<path d="M1583.56 488.45h1.79V512.05h-1.79zM1587.14 497.3h1.79V517.95h-1.79zM1588.93 497.3h1.79V515h-1.79zM1590.72 494.35h1.79V517.95h-1.79zM1592.51 491.4h1.79V512.05h-1.79zM1596.09 491.4h1.79V509.1h-1.79zM1597.88 497.3h1.79V512.05h-1.79zM1601.46 491.4h1.79V523.85h-1.79zM1605.04 491.4h1.79V512.05h-1.79zM1606.83 494.35h1.79V512.05h-1.79zM1608.62 491.4h1.79V506.15h-1.79zM1610.41 494.35h1.79V509.1h-1.79zM1613.99 500.25h1.79V517.95h-1.79zM1615.78 497.3h1.79V515h-1.79zM1617.57 488.45h1.79V523.85h-1.79zM1619.36 503.2h1.79V523.85h-1.79zM1621.15 500.25h1.79V515h-1.79zM1622.94 494.35h1.79V515h-1.79zM1624.73 497.3h1.79V512.05h-1.79zM1628.31 488.45h1.79V503.2h-1.79zM1630.1 491.4h1.79V509.1h-1.79zM1631.89 497.3h1.79V515h-1.79zM1633.68 494.35h1.79V512.05h-1.79zM1635.47 494.35h1.79V512.05h-1.79zM1637.26 500.25h1.79V512.05h-1.79zM1639.05 494.35h1.79V515h-1.79zM1642.63 494.35h1.79V509.1h-1.79zM1644.42 491.4h1.79V512.05h-1.79zM1646.21 488.45h1.79V512.05h-1.79zM1648 494.35h1.79V512.05h-1.79zM1649.79 500.25h1.79V515h-1.79zM1653.37 494.35h1.79V517.95h-1.79zM1655.16 494.35h1.79V509.1h-1.79zM1656.95 494.35h1.79V506.15h-1.79zM1658.74 494.35h1.79V512.05h-1.79zM1660.53 491.4h1.79V517.95h-1.79zM1662.32 494.35h1.79V512.05h-1.79zM1665.9 497.3h1.79V515h-1.79zM1667.69 494.35h1.79V517.95h-1.79zM1669.48 491.4h1.79V512.05h-1.79zM1671.27 497.3h1.79V509.1h-1.79zM1673.06 497.3h1.79V512.05h-1.79zM1674.85 497.3h1.79V512.05h-1.79zM1676.64 497.3h1.79V512.05h-1.79zM1678.43 497.3h1.79V512.05h-1.79zM1680.22 497.3h1.79V512.05h-1.79zM1682.01 494.35h1.79V503.2h-1.79zM1683.8 494.35h1.79V509.1h-1.79zM1685.59 497.3h1.79V512.05h-1.79zM1687.38 500.25h1.79V515h-1.79zM1689.17 497.3h1.79V512.05h-1.79zM1690.96 494.35h1.79V515h-1.79zM1692.75 491.4h1.79V515h-1.79zM1696.33 500.25h1.79V512.05h-1.79zM1699.91 500.25h1.79V512.05h-1.79zM1701.7 497.3h1.79V509.1h-1.79zM1703.49 497.3h1.79V515h-1.79zM1705.28 500.25h1.79V512.05h-1.79zM1707.07 494.35h1.79V517.95h-1.79zM1710.65 500.25h1.79V512.05h-1.79zM1716.02 500.25h1.79V512.05h-1.79zM1717.81 497.3h1.79V509.1h-1.79zM1719.6 494.35h1.79V512.05h-1.79zM1723.18 497.3h1.79V509.1h-1.79zM1724.97 497.3h1.79V506.15h-1.79zM1726.76 491.4h1.79V509.1h-1.79zM1728.55 494.35h1.79V503.2h-1.79zM1730.34 497.3h1.79V512.05h-1.79zM1732.13 494.35h1.79V512.05h-1.79zM1733.92 491.4h1.79V512.05h-1.79zM1735.71 497.3h1.79V509.1h-1.79z" fill="#6DC3EC" filter="url(#b1)"/>
<path d="M1576.4 574.46h1.79V620.96h-1.79zM1581.77 580.84h1.79V621.64h-1.79zM1583.56 584.6h1.79V598.42h-1.79zM1585.35 580.38h1.79V598.48h-1.79zM1588.93 573.13h1.79V600.49h-1.79zM1592.51 571.77h1.79V607.66h-1.79zM1592.51 566.2h1.79V622.97h-1.79zM1594.3 561.24h1.79V609.68h-1.79zM1596.09 581.23h1.79V599.56h-1.79zM1601.46 561.85h1.79V588.97h-1.79zM1603.25 562.08h1.79V607.58h-1.79zM1608.62 586.15h1.79V608.83h-1.79zM1610.41 575.47h1.79V616.09h-1.79zM1612.2 578.06h1.79V616.73h-1.79zM1613.99 586.49h1.79V615.28h-1.79zM1617.57 571.04h1.79V613.65h-1.79zM1624.73 579.69h1.79V607.74h-1.79zM1630.1 565.72h1.79V601.22h-1.79zM1631.89 556.3h1.79V603.58h-1.79zM1633.68 583.23h1.79V604.99h-1.79zM1635.47 555.31h1.79V613.38h-1.79zM1640.84 564.61h1.79V627.8h-1.79zM1642.63 582.66h1.79V598.43h-1.79zM1649.79 564.57h1.79V604.05h-1.79zM1653.37 582.67h1.79V596.16h-1.79zM1656.95 564.21h1.79V614.96h-1.79zM1658.74 566.24h1.79V595.14h-1.79zM1660.53 573.66h1.79V616.27h-1.79zM1669.48 561.26h1.79V581.66h-1.79zM1673.06 572.81h1.79V616.14h-1.79zM1674.85 574.09h1.79V630.77h-1.79zM1676.64 583.71h1.79V603.04h-1.79zM1678.43 565.48h1.79V597.21h-1.79zM1683.8 582.27h1.79V598.47h-1.79zM1685.59 563.82h1.79V624.84h-1.79zM1689.17 559.19h1.79V606.79h-1.79zM1690.96 578.02h1.79V603.73h-1.79zM1701.7 575.51h1.79V600.78h-1.79zM1703.49 564.53h1.79V609.18h-1.79zM1705.28 564.96h1.79V589.37h-1.79zM1710.65 579.51h1.79V597.45h-1.79zM1712.44 565.86h1.79V614.02h-1.79zM1714.23 573.13h1.79V602.02h-1.79zM1719.6 568.96h1.79V598.96h-1.79zM1721.39 563.85h1.79V588.25h-1.79zM1723.18 579.28h1.79V603.53h-1.79zM1724.97 582.87h1.79V603.77h-1.79zM1726.76 573.2h1.79V607.39h-1.79z" fill="#9E1B20" opacity="0.3" filter="url(#b2)"/>
<path d="M1578.19 566.52h1.79V604.34h-1.79zM1588.93 569.22h1.79V594h-1.79zM1597.88 580.81h1.79V612.77h-1.79zM1605.04 575.72h1.79V606.35h-1.79zM1612.2 585.82h1.79V610.3h-1.79zM1613.99 588.57h1.79V608.87h-1.79zM1624.73 587.96h1.79V602.08h-1.79zM1639.05 576.73h1.79V593.19h-1.79zM1640.84 580.96h1.79V605.19h-1.79zM1646.21 583.69h1.79V605.83h-1.79zM1658.74 578.52h1.79V601.71h-1.79zM1660.53 576.7h1.79V605.26h-1.79zM1669.48 568.23h1.79V580.54h-1.79zM1678.43 580.44h1.79V597.48h-1.79z" fill="#9E1B20" opacity="0.5" filter="url(#b2)"/>
<path d="M1601.46 572.88h1.79V587.67h-1.79zM1610.41 578.69h1.79V604.2h-1.79zM1615.78 586.39h1.79V602.67h-1.79zM1617.57 579.8h1.79V601.33h-1.79zM1626.52 579.55h1.79V593.09h-1.79zM1631.89 570.17h1.79V604.02h-1.79zM1644.42 581.07h1.79V596.86h-1.79zM1665.9 572.88h1.79V604.24h-1.79zM1671.27 572.55h1.79V595.7h-1.79zM1673.06 585.12h1.79V606.96h-1.79zM1680.22 586.29h1.79V600.34h-1.79zM1687.38 580.2h1.79V603.93h-1.79zM1689.17 575h1.79V600.79h-1.79zM1690.96 581.44h1.79V599.31h-1.79zM1692.75 576.84h1.79V603.35h-1.79zM1707.07 588.12h1.79V604.18h-1.79zM1721.39 567.07h1.79V591.36h-1.79zM1724.97 584.55h1.79V594.24h-1.79zM1726.76 574.12h1.79V598.59h-1.79z" fill="#9E1B20" opacity="0.75" filter="url(#b2)"/>
<path d="M1635.47 567.93h1.79V605.54h-1.79zM1637.26 571.01h1.79V590.24h-1.79zM1648 580.63h1.79V601.58h-1.79zM1649.79 578.35h1.79V600.71h-1.79zM1651.58 586.72h1.79V598.71h-1.79zM1655.16 591.96h1.79V608.58h-1.79zM1662.32 571.2h1.79V598.3h-1.79zM1664.11 577.64h1.79V593.79h-1.79zM1674.85 580.08h1.79V612.45h-1.79zM1682.01 582.08h1.79V596.85h-1.79zM1683.8 585.05h1.79V598.3h-1.79zM1699.91 579.72h1.79V604.55h-1.79zM1701.7 589.03h1.79V602.07h-1.79zM1703.49 571.78h1.79V611.09h-1.79zM1705.28 578.57h1.79V595.14h-1.79zM1708.86 582.78h1.79V604.95h-1.79zM1712.44 582.48h1.79V602.73h-1.79zM1714.23 577.95h1.79V597.48h-1.79zM1716.02 559.88h1.79V598.18h-1.79zM1717.81 576.94h1.79V588.73h-1.79zM1719.6 565.85h1.79V587.1h-1.79zM1723.18 587.61h1.79V599.65h-1.79zM1728.55 583.22h1.79V598.32h-1.79zM1730.34 583.81h1.79V597.3h-1.79zM1732.13 583.1h1.79V593.61h-1.79zM1733.92 580.13h1.79V594.93h-1.79zM1735.71 580.33h1.79V590.3h-1.79z" fill="#9E1B20" filter="url(#b2)"/>
<path d="M1576.4 706.75h1.79V724.45h-1.79zM1578.19 712.65h1.79V724.45h-1.79zM1581.77 703.8h1.79V727.4h-1.79zM1585.35 706.75h1.79V724.45h-1.79zM1587.14 706.75h1.79V730.35h-1.79zM1594.3 709.7h1.79V724.45h-1.79zM1596.09 706.75h1.79V721.5h-1.79zM1606.83 700.85h1.79V724.45h-1.79zM1608.62 700.85h1.79V730.35h-1.79zM1610.41 709.7h1.79V727.4h-1.79zM1624.73 697.9h1.79V721.5h-1.79zM1628.31 697.9h1.79V721.5h-1.79zM1633.68 694.95h1.79V730.35h-1.79zM1635.47 706.75h1.79V727.4h-1.79zM1637.26 703.8h1.79V733.3h-1.79zM1655.16 706.75h1.79V721.5h-1.79zM1656.95 703.8h1.79V724.45h-1.79zM1662.32 709.7h1.79V727.4h-1.79zM1674.85 703.8h1.79V724.45h-1.79zM1689.17 703.8h1.79V721.5h-1.79zM1692.75 706.75h1.79V724.45h-1.79zM1694.54 706.75h1.79V727.4h-1.79zM1703.49 706.75h1.79V727.4h-1.79zM1710.65 703.8h1.79V730.35h-1.79zM1712.44 706.75h1.79V721.5h-1.79zM1716.02 709.7h1.79V727.4h-1.79zM1726.76 712.65h1.79V724.45h-1.79zM1728.55 706.75h1.79V721.5h-1.79zM1732.13 700.85h1.79V727.4h-1.79zM1735.71 709.7h1.79V721.5h-1.79z" fill="#F28E1C" opacity="0.3" filter="url(#b1)"/>
<path d="M1579.98 712.65h1.79V724.45h-1.79z" fill="#F28E1C" opacity="0.5" filter="url(#b1)"/>
<path d="M1581.77 709.7h1.79V724.45h-1.79zM1583.56 709.7h1.79V721.5h-1.79zM1585.35 709.7h1.79V724.45h-1.79zM1596.09 706.75h1.79V718.55h-1.79zM1635.47 709.7h1.79V724.45h-1.79zM1639.05 706.75h1.79V718.55h-1.79zM1662.32 709.7h1.79V727.4h-1.79zM1664.11 706.75h1.79V718.55h-1.79zM1669.48 706.75h1.79V724.45h-1.79zM1685.59 709.7h1.79V718.55h-1.79zM1696.33 709.7h1.79V727.4h-1.79zM1699.91 709.7h1.79V718.55h-1.79zM1728.55 709.7h1.79V718.55h-1.79zM1730.34 706.75h1.79V718.55h-1.79z" fill="#F28E1C" opacity="0.75" filter="url(#b1)"/>
<path d="M1587.14 709.7h1.79V727.4h-1.79zM1588.93 706.75h1.79V727.4h-1.79zM1590.72 709.7h1.79V718.55h-1.79zM1592.51 706.75h1.79V721.5h-1.79zM1594.3 709.7h1.79V724.45h-1.79zM1597.88 706.75h1.79V721.5h-1.79zM1599.67 703.8h1.79V721.5h-1.79zM1601.46 706.75h1.79V724.45h-1.79zM1603.25 703.8h1.79V730.35h-1.79zM1605.04 706.75h1.79V724.45h-1.79zM1606.83 706.75h1.79V721.5h-1.79zM1608.62 703.8h1.79V727.4h-1.79zM1610.41 712.65h1.79V724.45h-1.79zM1612.2 706.75h1.79V724.45h-1.79zM1613.99 709.7h1.79V724.45h-1.79zM1615.78 703.8h1.79V721.5h-1.79zM1617.57 706.75h1.79V718.55h-1.79zM1619.36 706.75h1.79V718.55h-1.79zM1621.15 709.7h1.79V718.55h-1.79zM1622.94 703.8h1.79V718.55h-1.79zM1624.73 700.85h1.79V718.55h-1.79zM1626.52 703.8h1.79V715.6h-1.79zM1628.31 700.85h1.79V718.55h-1.79zM1630.1 706.75h1.79V718.55h-1.79zM1631.89 706.75h1.79V721.5h-1.79zM1633.68 703.8h1.79V718.55h-1.79zM1637.26 712.65h1.79V724.45h-1.79zM1640.84 706.75h1.79V724.45h-1.79zM1642.63 706.75h1.79V724.45h-1.79zM1644.42 712.65h1.79V724.45h-1.79zM1646.21 706.75h1.79V727.4h-1.79zM1648 709.7h1.79V721.5h-1.79zM1649.79 712.65h1.79V724.45h-1.79zM1651.58 712.65h1.79V721.5h-1.79zM1653.37 706.75h1.79V718.55h-1.79zM1655.16 709.7h1.79V718.55h-1.79zM1656.95 706.75h1.79V718.55h-1.79zM1658.74 709.7h1.79V721.5h-1.79zM1660.53 712.65h1.79V721.5h-1.79zM1665.9 709.7h1.79V718.55h-1.79zM1667.69 709.7h1.79V721.5h-1.79zM1671.27 712.65h1.79V721.5h-1.79zM1673.06 706.75h1.79V724.45h-1.79zM1674.85 706.75h1.79V721.5h-1.79zM1676.64 706.75h1.79V721.5h-1.79zM1678.43 706.75h1.79V721.5h-1.79zM1680.22 709.7h1.79V718.55h-1.79zM1682.01 706.75h1.79V718.55h-1.79zM1683.8 709.7h1.79V718.55h-1.79zM1687.38 706.75h1.79V721.5h-1.79zM1689.17 706.75h1.79V718.55h-1.79zM1690.96 709.7h1.79V718.55h-1.79zM1692.75 712.65h1.79V721.5h-1.79zM1694.54 709.7h1.79V724.45h-1.79zM1698.12 715.6h1.79V724.45h-1.79zM1701.7 712.65h1.79V724.45h-1.79zM1703.49 709.7h1.79V724.45h-1.79zM1705.28 703.8h1.79V724.45h-1.79zM1707.07 712.65h1.79V724.45h-1.79zM1708.86 715.6h1.79V724.45h-1.79zM1710.65 709.7h1.79V721.5h-1.79zM1712.44 706.75h1.79V718.55h-1.79zM1714.23 706.75h1.79V724.45h-1.79zM1716.02 715.6h1.79V724.45h-1.79zM1717.81 715.6h1.79V724.45h-1.79zM1719.6 712.65h1.79V724.45h-1.79zM1721.39 709.7h1.79V721.5h-1.79zM1723.18 709.7h1.79V721.5h-1.79zM1724.97 712.65h1.79V721.5h-1.79zM1726.76 712.65h1.79V724.45h-1.79zM1732.13 706.75h1.79V721.5h-1.79zM1733.92 706.75h1.79V715.6h-1.79zM1735.71 712.65h1.79V718.55h-1.79z" fill="#F28E1C" filter="url(#b1)"/>
<path d="M1576.4 697.9h1.79V709.7h-1.79zM1576.4 694.95h1.79V715.6h-1.79zM1578.19 694.95h1.79V703.8h-1.79zM1578.19 689.05h1.79V709.7h-1.79zM1583.56 692h1.79V703.8h-1.79zM1588.93 692h1.79V712.65h-1.79zM1606.83 692h1.79V715.6h-1.79zM1610.41 692h1.79V709.7h-1.79zM1615.78 692h1.79V712.65h-1.79zM1619.36 694.95h1.79V712.65h-1.79zM1621.15 686.1h1.79V718.55h-1.79zM1624.73 694.95h1.79V709.7h-1.79zM1628.31 674.3h1.79V715.6h-1.79zM1637.26 700.85h1.79V715.6h-1.79zM1642.63 694.95h1.79V709.7h-1.79zM1648 692h1.79V715.6h-1.79zM1653.37 692h1.79V706.75h-1.79zM1656.95 697.9h1.79V706.75h-1.79zM1660.53 697.9h1.79V709.7h-1.79zM1664.11 680.2h1.79V715.6h-1.79zM1665.9 686.1h1.79V712.65h-1.79zM1667.69 689.05h1.79V718.55h-1.79zM1671.27 689.05h1.79V706.75h-1.79zM1676.64 692h1.79V706.75h-1.79zM1680.22 689.05h1.79V706.75h-1.79zM1683.8 692h1.79V712.65h-1.79zM1694.54 694.95h1.79V709.7h-1.79zM1701.7 697.9h1.79V709.7h-1.79zM1705.28 686.1h1.79V715.6h-1.79zM1710.65 694.95h1.79V709.7h-1.79zM1716.02 694.95h1.79V712.65h-1.79zM1717.81 694.95h1.79V709.7h-1.79zM1721.39 689.05h1.79V718.55h-1.79zM1724.97 697.9h1.79V706.75h-1.79zM1728.55 692h1.79V715.6h-1.79z" fill="#5B74EE" opacity="0.3" filter="url(#b1)"/>
<path d="M1579.98 692h1.79V709.7h-1.79z" fill="#5B74EE" opacity="0.5" filter="url(#b1)"/>
<path d="M1581.77 694.95h1.79V703.8h-1.79zM1583.56 692h1.79V703.8h-1.79zM1601.46 694.95h1.79V715.6h-1.79zM1621.15 692h1.79V712.65h-1.79zM1642.63 697.9h1.79V706.75h-1.79zM1644.42 697.9h1.79V712.65h-1.79zM1648 700.85h1.79V709.7h-1.79zM1651.58 700.85h1.79V715.6h-1.79zM1656.95 697.9h1.79V706.75h-1.79zM1682.01 692h1.79V703.8h-1.79zM1716.02 697.9h1.79V709.7h-1.79zM1721.39 697.9h1.79V709.7h-1.79z" fill="#5B74EE" opacity="0.75" filter="url(#b1)"/>
<path d="M1585.35 697.9h1.79V709.7h-1.79zM1587.14 692h1.79V706.75h-1.79zM1588.93 692h1.79V709.7h-1.79zM1590.72 692h1.79V703.8h-1.79zM1592.51 694.95h1.79V712.65h-1.79zM1594.3 694.95h1.79V712.65h-1.79zM1596.09 694.95h1.79V709.7h-1.79zM1597.88 694.95h1.79V709.7h-1.79zM1599.67 697.9h1.79V709.7h-1.79zM1603.25 689.05h1.79V709.7h-1.79zM1605.04 694.95h1.79V706.75h-1.79zM1606.83 692h1.79V712.65h-1.79zM1608.62 694.95h1.79V709.7h-1.79zM1610.41 694.95h1.79V706.75h-1.79zM1612.2 694.95h1.79V706.75h-1.79zM1613.99 692h1.79V706.75h-1.79zM1615.78 694.95h1.79V709.7h-1.79zM1617.57 689.05h1.79V715.6h-1.79zM1619.36 697.9h1.79V709.7h-1.79zM1622.94 694.95h1.79V709.7h-1.79zM1624.73 697.9h1.79V706.75h-1.79zM1626.52 689.05h1.79V709.7h-1.79zM1628.31 683.15h1.79V706.75h-1.79zM1630.1 689.05h1.79V706.75h-1.79zM1631.89 692h1.79V709.7h-1.79zM1633.68 692h1.79V709.7h-1.79zM1635.47 700.85h1.79V709.7h-1.79zM1637.26 700.85h1.79V715.6h-1.79zM1639.05 694.95h1.79V709.7h-1.79zM1640.84 697.9h1.79V706.75h-1.79zM1646.21 700.85h1.79V712.65h-1.79zM1649.79 697.9h1.79V712.65h-1.79zM1653.37 694.95h1.79V706.75h-1.79zM1655.16 692h1.79V703.8h-1.79zM1658.74 697.9h1.79V709.7h-1.79zM1660.53 700.85h1.79V706.75h-1.79zM1662.32 694.95h1.79V703.8h-1.79zM1664.11 692h1.79V703.8h-1.79zM1665.9 694.95h1.79V706.75h-1.79zM1667.69 697.9h1.79V709.7h-1.79zM1669.48 694.95h1.79V709.7h-1.79zM1671.27 694.95h1.79V703.8h-1.79zM1673.06 697.9h1.79V706.75h-1.79zM1674.85 692h1.79V706.75h-1.79zM1676.64 694.95h1.79V703.8h-1.79zM1678.43 694.95h1.79V703.8h-1.79zM1680.22 692h1.79V703.8h-1.79zM1683.8 692h1.79V712.65h-1.79zM1685.59 692h1.79V715.6h-1.79zM1687.38 697.9h1.79V709.7h-1.79zM1689.17 697.9h1.79V706.75h-1.79zM1690.96 697.9h1.79V712.65h-1.79zM1692.75 694.95h1.79V709.7h-1.79zM1694.54 697.9h1.79V709.7h-1.79zM1696.33 697.9h1.79V706.75h-1.79zM1698.12 700.85h1.79V709.7h-1.79zM1699.91 694.95h1.79V709.7h-1.79zM1701.7 697.9h1.79V709.7h-1.79zM1703.49 697.9h1.79V709.7h-1.79zM1705.28 694.95h1.79V709.7h-1.79zM1707.07 697.9h1.79V706.75h-1.79zM1708.86 697.9h1.79V709.7h-1.79zM1710.65 697.9h1.79V706.75h-1.79zM1712.44 700.85h1.79V706.75h-1.79zM1714.23 697.9h1.79V709.7h-1.79zM1717.81 697.9h1.79V706.75h-1.79zM1719.6 697.9h1.79V709.7h-1.79zM1723.18 694.95h1.79V709.7h-1.79zM1724.97 697.9h1.79V706.75h-1.79zM1726.76 697.9h1.79V706.75h-1.79zM1728.55 697.9h1.79V709.7h-1.79zM1730.34 694.95h1.79V706.75h-1.79zM1732.13 692h1.79V709.7h-1.79zM1733.92 694.95h1.79V706.75h-1.79zM1735.71 697.9h1.79V706.75h-1.79z" fill="#5B74EE" filter="url(#b1)"/>
<path d="M1560.29 441.25h1.79V463.75h-1.79zM1562.08 441.25h1.79V499.54h-1.79zM1562.08 692.43h1.79V721.93h-1.79zM1562.08 510.41h1.79V571.81h-1.79zM1565.66 525.1h1.79V653.21h-1.79zM1567.45 613.11h1.79V703.38h-1.79zM1569.24 636.7h1.79V724.47h-1.79zM1571.03 650.56h1.79V708.12h-1.79zM1572.82 460.12h1.79V515.23h-1.79zM1574.61 450.75h1.79V515.31h-1.79zM1576.4 496.4h1.79V565.64h-1.79zM1579.98 581.73h1.79V685.52h-1.79zM1581.77 478.69h1.79V572.8h-1.79z" fill="#14322C" opacity="0.3" filter="url(#b2)"/>
<path d="M1563.87 466.93h1.79V513.4h-1.79zM1572.82 677.45h1.79V715.34h-1.79zM1574.61 572.59h1.79V586.24h-1.79zM1579.98 686.09h1.79V718.08h-1.79zM1581.77 441.25h1.79V452.29h-1.79zM1601.46 441.25h1.79V463.28h-1.79z" fill="#14322C" opacity="0.5" filter="url(#b2)"/>
<path d="M1563.87 441.25h1.79V458.97h-1.79zM1563.87 700.28h1.79V715.85h-1.79zM1565.66 492.41h1.79V506.87h-1.79zM1565.66 709.11h1.79V721.95h-1.79zM1567.45 441.25h1.79V464.62h-1.79zM1567.45 571.65h1.79V584.71h-1.79zM1567.45 684.09h1.79V729.34h-1.79zM1569.24 575.21h1.79V602.73h-1.79zM1569.24 690.12h1.79V727.32h-1.79zM1571.03 441.25h1.79V463.36h-1.79zM1571.03 502.63h1.79V514.72h-1.79zM1571.03 579.64h1.79V595.61h-1.79zM1571.03 687.02h1.79V716.12h-1.79zM1572.82 699.82h1.79V736.5h-1.79zM1574.61 698.58h1.79V714.63h-1.79zM1576.4 441.25h1.79V454.8h-1.79zM1576.4 692.28h1.79V736.5h-1.79zM1576.4 700.57h1.79V736.5h-1.79zM1581.77 493.97h1.79V522.86h-1.79zM1583.56 590.08h1.79V618.09h-1.79zM1585.35 500.28h1.79V520.41h-1.79zM1587.14 680.5h1.79V721.95h-1.79zM1583.56 480h1.79V520h-1.79zM1581.77 690h1.79V715h-1.79zM1603.25 690h1.79V718h-1.79z" fill="#14322C" opacity="0.75" filter="url(#b2)"/>
<path d="M1563.87 703.39h1.79V715.97h-1.79zM1565.66 577.85h1.79V596.27h-1.79zM1565.66 701.04h1.79V730.31h-1.79zM1567.45 503.37h1.79V530.38h-1.79zM1567.45 693.68h1.79V706.03h-1.79zM1569.24 691.74h1.79V716.93h-1.79zM1571.03 715.38h1.79V724.11h-1.79zM1572.82 483.7h1.79V504.18h-1.79zM1574.61 441.25h1.79V451.69h-1.79zM1574.61 508.45h1.79V520.06h-1.79zM1574.61 706.99h1.79V722.45h-1.79zM1583.56 693.91h1.79V721.26h-1.79zM1583.56 680.68h1.79V711.74h-1.79zM1585.35 441.25h1.79V453.01h-1.79zM1587.14 488.18h1.79V517.64h-1.79zM1596.09 441.25h1.79V451.88h-1.79zM1599.67 703.67h1.79V715.43h-1.79zM1606.83 490.57h1.79V504.09h-1.79zM1574.61 443h1.79V470h-1.79zM1576.4 443h1.79V475h-1.79zM1578.19 443h1.79V465h-1.79zM1565.66 692h1.79V725h-1.79zM1567.45 690h1.79V728h-1.79zM1569.24 692h1.79V725h-1.79zM1571.03 695h1.79V722h-1.79zM1576.4 690h1.79V720h-1.79zM1578.19 692h1.79V718h-1.79zM1585.35 690h1.79V718h-1.79zM1603.25 485h1.79V520h-1.79zM1606.83 490h1.79V515h-1.79z" fill="#14322C" filter="url(#b2)"/>
</g>
<path d="M887.25 441.25V736.5M932 441.25V736.5M976.75 441.25V736.5M1066.25 441.25V736.5M1111 441.25V736.5M1155.75 441.25V736.5M1245.25 441.25V736.5M1290 441.25V736.5M1334.75 441.25V736.5M1424.25 441.25V736.5M1469 441.25V736.5M1513.75 441.25V736.5M1603.25 441.25V736.5M1648 441.25V736.5M1692.75 441.25V736.5" fill="none" stroke="#b9b9b9" stroke-width="1"/>
<path d="M842.5 736.5H1738.3V441.25" fill="none" stroke="#c4c4c4" stroke-width="1.3"/>
<path d="M1558.5 441.25H1738.3" fill="none" stroke="#8a8a8a" stroke-width="1.2"/>
<path d="M841.5 441.25H1558.5" fill="none" stroke="#222" stroke-width="1.5"/>
<path d="M842.5 521.25h179M842.5 659.7h179M842.5 701.3h179M842.5 734.1h179M1021.5 559.25h179M1021.5 633.25h179M1021.5 695h179M1021.5 727h179M1200.5 600h179M1200.5 603.25h179M1200.5 639.25h179M1200.5 734h179M1379.5 535.5h179M1379.5 567.5h179M1379.5 644.5h179M1379.5 718.75h179M1558.5 503.25h179M1558.5 588.5h179M1558.5 704.5h179M1558.5 710h179" fill="none" stroke="#000" stroke-width="1.4"/>
<path d="M842.5 440.75V737M1021.5 440.75V737M1200.5 440.75V737M1379.5 440.75V737M1558.5 440.75V737" fill="none" stroke="#000" stroke-width="2"/>
<path d="M842.5 744.75V753.25H1014.5M887.25 753.25v-8.5M932 753.25v-8.5M976.75 753.25v-8.5M1021.5 744.75V753.25H1193.5M1066.25 753.25v-8.5M1111 753.25v-8.5M1155.75 753.25v-8.5M1200.5 744.75V753.25H1372.5M1245.25 753.25v-8.5M1290 753.25v-8.5M1334.75 753.25v-8.5M1379.5 744.75V753.25H1551.5M1424.25 753.25v-8.5M1469 753.25v-8.5M1513.75 753.25v-8.5M1558.5 744.75V753.25H1738.5M1603.25 753.25v-8.5M1648 753.25v-8.5M1692.75 753.25v-8.5M1738.5 753.25v-8.5" fill="none" stroke="#000" stroke-width="1.6"/>
<text text-anchor="middle" font-size="22" transform="translate(841,777.4) scale(0.86,1)">0</text>
<text text-anchor="middle" font-size="22" transform="translate(889.5,777.4) scale(0.86,1)">25</text>
<text text-anchor="middle" font-size="22" transform="translate(932.5,777.4) scale(0.86,1)">50</text>
<text text-anchor="middle" font-size="22" transform="translate(980.5,777.4) scale(0.86,1)">75</text>
<text text-anchor="middle" font-size="22" transform="translate(1024.5,777.4) scale(0.86,1)">0</text>
<text text-anchor="middle" font-size="22" transform="translate(1068.5,777.4) scale(0.86,1)">25</text>
<text text-anchor="middle" font-size="22" transform="translate(1111.5,777.4) scale(0.86,1)">50</text>
<text text-anchor="middle" font-size="22" transform="translate(1159.5,777.4) scale(0.86,1)">75</text>
<text text-anchor="middle" font-size="22" transform="translate(1203.5,777.4) scale(0.86,1)">0</text>
<text text-anchor="middle" font-size="22" transform="translate(1247.5,777.4) scale(0.86,1)">25</text>
<text text-anchor="middle" font-size="22" transform="translate(1290.5,777.4) scale(0.86,1)">50</text>
<text text-anchor="middle" font-size="22" transform="translate(1338.5,777.4) scale(0.86,1)">75</text>
<text text-anchor="middle" font-size="22" transform="translate(1382.5,777.4) scale(0.86,1)">0</text>
<text text-anchor="middle" font-size="22" transform="translate(1426.5,777.4) scale(0.86,1)">25</text>
<text text-anchor="middle" font-size="22" transform="translate(1469.5,777.4) scale(0.86,1)">50</text>
<text text-anchor="middle" font-size="22" transform="translate(1517.5,777.4) scale(0.86,1)">75</text>
<text text-anchor="middle" font-size="22" transform="translate(1561.5,777.4) scale(0.86,1)">0</text>
<text text-anchor="middle" font-size="22" transform="translate(1605.5,777.4) scale(0.86,1)">25</text>
<text text-anchor="middle" font-size="22" transform="translate(1648.5,777.4) scale(0.86,1)">50</text>
<text text-anchor="middle" font-size="22" transform="translate(1696.5,777.4) scale(0.86,1)">75</text>
<text text-anchor="middle" font-size="22" transform="translate(1738,777.4) scale(0.86,1)">100</text>
<text x="1198.25" y="810" font-size="26" textLength="199" lengthAdjust="spacingAndGlyphs">No. of mutations</text>
</g>
<g id="panel-d">
<text font-size="37.5" x="2" y="860" font-weight="bold">d</text>
<rect x="635.75" y="831" width="310.5" height="963.5" fill="#ebebeb"/>
<rect x="630" y="1067.4" width="322" height="5.2" fill="#fff"/>
<rect x="630" y="1305.9" width="322" height="5.2" fill="#fff"/>
<rect x="630" y="1543.4" width="322" height="5.2" fill="#fff"/>
<path d="M65.5 1070H1650M65.5 1308.5H1650M65.5 1546H1650" fill="none" stroke="#000" stroke-width="1.4"/>
<text x="75" y="938.75" font-size="25" textLength="145" lengthAdjust="spacingAndGlyphs">27 mutations</text>
<text x="85.75" y="964.5" font-size="25" textLength="115" lengthAdjust="spacingAndGlyphs">5 samples</text>
<text x="85.75" y="990.5" font-size="25" textLength="107.5" lengthAdjust="spacingAndGlyphs">4 clusters</text>
<text x="74.25" y="1167.5" font-size="25" textLength="143.75" lengthAdjust="spacingAndGlyphs">38 mutations</text>
<text x="85.5" y="1193.25" font-size="25" textLength="114.5" lengthAdjust="spacingAndGlyphs">3 samples</text>
<text x="85.5" y="1219.25" font-size="25" textLength="107" lengthAdjust="spacingAndGlyphs">5 clusters</text>
<text x="72.5" y="1412.5" font-size="25" textLength="144.5" lengthAdjust="spacingAndGlyphs">23 mutations</text>
<text x="83.25" y="1438" font-size="25" textLength="115" lengthAdjust="spacingAndGlyphs">8 samples</text>
<text x="83.25" y="1463.75" font-size="25" textLength="107.5" lengthAdjust="spacingAndGlyphs">4 clusters</text>
<text x="75" y="1649.25" font-size="25" textLength="144.25" lengthAdjust="spacingAndGlyphs">38 mutations</text>
<text x="84.25" y="1675" font-size="25" textLength="115.25" lengthAdjust="spacingAndGlyphs">4 samples</text>
<text x="87" y="1700" font-size="25" textLength="107.5" lengthAdjust="spacingAndGlyphs">4 clusters</text>
<path d="M319.5 858.5V1005.5H590" fill="none" stroke="#000" stroke-width="2"/>
<path d="M319.5 859.5h7M319.5 932.5h7" fill="none" stroke="#000" stroke-width="1.6"/>
<path d="M320 1005.5v6M387 1005.5v6M454.5 1005.5v6M521.75 1005.5v6M588.75 1005.5v6" fill="none" stroke="#000" stroke-width="1.6"/>
<text text-anchor="end" font-size="23.5" transform="translate(311.5,867) scale(0.8,1)">1.0</text>
<text text-anchor="end" font-size="23.5" transform="translate(311.5,940) scale(0.8,1)">0.5</text>
<text text-anchor="end" font-size="23.5" transform="translate(311.5,1012) scale(0.8,1)">0</text>
<text text-anchor="middle" font-size="24" transform="translate(320,1033.75) scale(0.95,1)">1</text>
<text text-anchor="middle" font-size="24" transform="translate(387,1033.75) scale(0.95,1)">2</text>
<text text-anchor="middle" font-size="24" transform="translate(454.5,1033.75) scale(0.95,1)">3</text>
<text text-anchor="middle" font-size="24" transform="translate(521.75,1033.75) scale(0.95,1)">4</text>
<text text-anchor="middle" font-size="24" transform="translate(588.75,1033.75) scale(0.95,1)">5</text>
<text x="420.75" y="1058.75" font-size="26" textLength="67.5" lengthAdjust="spacingAndGlyphs">Years</text>
<text transform="translate(272,957.5) rotate(-90)" font-size="27" textLength="53.75" lengthAdjust="spacingAndGlyphs">CCF</text>
<polygon points="320,986.5 387,967 454.5,968.75 521.75,972.75 588.75,880 588.75,893 521.75,988.75 454.5,986.75 387,986 320,1003.5" fill="#6EC4EE" opacity="0.3"/>
<polyline points="320,997.5 387,977 454.5,978.75 521.75,983.75 588.75,887" fill="none" stroke="#6EC4EE" stroke-width="1.1" stroke-linejoin="round" stroke-linecap="round"/>
<polygon points="320,1001.5 387,994.25 454.5,980.5 521.75,1001.25 588.75,929.75 588.75,941.75 521.75,1005.25 454.5,990.5 387,999.25 320,1006.5" fill="#F58B14" opacity="0.3"/>
<polyline points="320,1004.5 387,996.25 454.5,985.5 521.75,1004.25 588.75,935.75" fill="none" stroke="#F58B14" stroke-width="2.2" stroke-linejoin="round" stroke-linecap="round"/>
<circle cx="320" cy="1004.5" r="2.2" fill="#F58B14"/>
<circle cx="387" cy="996.25" r="2.2" fill="#F58B14"/>
<circle cx="454.5" cy="985.5" r="2.2" fill="#F58B14"/>
<circle cx="521.75" cy="1004.25" r="2.2" fill="#F58B14"/>
<circle cx="588.75" cy="935.75" r="2.2" fill="#F58B14"/>
<polygon points="320,996.75 387,993.75 454.5,1000 521.75,983.5 588.75,987.25 588.75,994.25 521.75,988.5 454.5,1004 387,997.75 320,1000.75" fill="#13322B" opacity="0.3"/>
<polyline points="320,998.75 387,995.75 454.5,1002 521.75,987.5 588.75,993.25" fill="none" stroke="#13322B" stroke-width="3.2" stroke-linejoin="round" stroke-linecap="round"/>
<circle cx="320" cy="998.75" r="2.4" fill="#13322B"/>
<circle cx="387" cy="995.75" r="2.4" fill="#13322B"/>
<circle cx="454.5" cy="1002" r="2.4" fill="#13322B"/>
<circle cx="521.75" cy="987.5" r="2.4" fill="#13322B"/>
<circle cx="588.75" cy="993.25" r="2.4" fill="#13322B"/>
<polygon points="320,858.5 387,860.5 454.5,858.5 521.75,860.5 588.75,858.5 588.75,864.5 521.75,867.5 454.5,864.5 387,868.5 320,865.5" fill="#2A8C1C" opacity="0.3"/>
<polyline points="320,859.5 387,862.5 454.5,859.5 521.75,862.5 588.75,859.5" fill="none" stroke="#2A8C1C" stroke-width="3" stroke-linejoin="round" stroke-linecap="round"/>
<circle cx="320" cy="859.5" r="2.4" fill="#2A8C1C"/>
<circle cx="387" cy="862.5" r="2.4" fill="#2A8C1C"/>
<circle cx="454.5" cy="859.5" r="2.4" fill="#2A8C1C"/>
<circle cx="521.75" cy="862.5" r="2.4" fill="#2A8C1C"/>
<circle cx="588.75" cy="859.5" r="2.4" fill="#2A8C1C"/>
<path d="M319.5 1089V1240.5H594" fill="none" stroke="#000" stroke-width="2"/>
<path d="M319.5 1090h7M319.5 1166.75h7" fill="none" stroke="#000" stroke-width="1.6"/>
<path d="M325.75 1240.5v6M458.75 1240.5v6M592 1240.5v6" fill="none" stroke="#000" stroke-width="1.6"/>
<text text-anchor="end" font-size="23.5" transform="translate(311.5,1100.8) scale(0.8,1)">1.0</text>
<text text-anchor="end" font-size="23.5" transform="translate(311.5,1174.85) scale(0.8,1)">0.5</text>
<text text-anchor="end" font-size="23.5" transform="translate(311.5,1247) scale(0.8,1)">0</text>
<text text-anchor="middle" font-size="24" transform="translate(325.75,1268.75) scale(0.95,1)">1</text>
<text text-anchor="middle" font-size="24" transform="translate(458.75,1268.75) scale(0.95,1)">2</text>
<text text-anchor="middle" font-size="24" transform="translate(592,1268.75) scale(0.95,1)">3</text>
<text x="420.75" y="1295" font-size="26" textLength="67.5" lengthAdjust="spacingAndGlyphs">Years</text>
<text transform="translate(272,1192.5) rotate(-90)" font-size="27" textLength="52.5" lengthAdjust="spacingAndGlyphs">CCF</text>
<polygon points="325.75,1100 458.75,1236.5 592,1203 592,1221 458.75,1240.5 325.75,1122" fill="#F58B14" opacity="0.3"/>
<polyline points="325.75,1110 458.75,1239.5 592,1212" fill="none" stroke="#F58B14" stroke-width="1.4" stroke-linejoin="round" stroke-linecap="round"/>
<circle cx="325.75" cy="1110" r="2.3" fill="#F58B14"/>
<circle cx="458.75" cy="1239.5" r="2.3" fill="#F58B14"/>
<circle cx="592" cy="1212" r="2.3" fill="#F58B14"/>
<polygon points="325.75,1235 458.75,1215.25 592,1142.25 592,1172.25 458.75,1232.25 325.75,1240" fill="#5B73EE" opacity="0.28"/>
<polyline points="325.75,1239 458.75,1224.25 592,1156.25" fill="none" stroke="#5B73EE" stroke-width="1.8" stroke-linejoin="round" stroke-linecap="round"/>
<circle cx="325.75" cy="1239" r="2" fill="#5B73EE"/>
<circle cx="458.75" cy="1224.25" r="2" fill="#5B73EE"/>
<circle cx="592" cy="1156.25" r="2" fill="#5B73EE"/>
<polygon points="325.75,1236.5 458.75,1145.75 592,1146 592,1166 458.75,1164.75 325.75,1240.5" fill="#6EC4EE" opacity="0.3"/>
<polyline points="325.75,1239.5 458.75,1155.75 592,1157" fill="none" stroke="#6EC4EE" stroke-width="3.2" stroke-linejoin="round" stroke-linecap="round"/>
<polygon points="325.75,1230.25 458.75,1162.75 592,1194 592,1217 458.75,1178.75 325.75,1236.25" fill="#13322B" opacity="0.25"/>
<polyline points="325.75,1233.25 458.75,1170.75 592,1208" fill="none" stroke="#13322B" stroke-width="2.2" stroke-linejoin="round" stroke-linecap="round"/>
<circle cx="325.75" cy="1233.25" r="2.2" fill="#13322B"/>
<circle cx="458.75" cy="1170.75" r="2.2" fill="#13322B"/>
<circle cx="592" cy="1208" r="2.2" fill="#13322B"/>
<polygon points="325.75,1090.25 458.75,1088.5 592,1088.5 592,1096.5 458.75,1095.5 325.75,1099.25" fill="#2A8C1C" opacity="0.3"/>
<polyline points="325.75,1096.25 458.75,1090.5 592,1090.5" fill="none" stroke="#2A8C1C" stroke-width="4.2" stroke-linejoin="round" stroke-linecap="round"/>
<path d="M319.5 1337.75V1478H573" fill="none" stroke="#000" stroke-width="2"/>
<path d="M319.5 1338.75h7M319.5 1407.5h7" fill="none" stroke="#000" stroke-width="1.6"/>
<path d="M319.5 1478v6M355.45 1478v6M391.4 1478v6M427.35 1478v6M463.3 1478v6M499.25 1478v6M535.2 1478v6M571.15 1478v6" fill="none" stroke="#000" stroke-width="1.6"/>
<text text-anchor="end" font-size="23.5" transform="translate(311.5,1348.65) scale(0.8,1)">1.0</text>
<text text-anchor="end" font-size="23.5" transform="translate(311.5,1416.8) scale(0.8,1)">0.5</text>
<text text-anchor="end" font-size="23.5" transform="translate(311.5,1484.5) scale(0.8,1)">0</text>
<text text-anchor="middle" font-size="24" transform="translate(355.45,1507.5) scale(0.95,1)">2</text>
<text text-anchor="middle" font-size="24" transform="translate(427.35,1507.5) scale(0.95,1)">4</text>
<text text-anchor="middle" font-size="24" transform="translate(499.25,1507.5) scale(0.95,1)">6</text>
<text text-anchor="middle" font-size="24" transform="translate(571.15,1507.5) scale(0.95,1)">8</text>
<text x="420.75" y="1533.75" font-size="26" textLength="67.5" lengthAdjust="spacingAndGlyphs">Years</text>
<text transform="translate(272,1437.5) rotate(-90)" font-size="27" textLength="53.75" lengthAdjust="spacingAndGlyphs">CCF</text>
<polygon points="319.5,1472 355.45,1474 391.4,1462.5 427.35,1460 463.3,1450 499.25,1416 535.2,1417 571.15,1457.5 571.15,1471 535.2,1453.75 499.25,1434 463.3,1469.5 427.35,1472.5 391.4,1470 355.45,1478 319.5,1478" fill="#5c6b66" opacity="0.4"/>
<polygon points="319.5,1455.75 355.45,1450.25 391.4,1454.5 427.35,1437.75 463.3,1431.5 499.25,1421.5 535.2,1387.75 571.15,1343.25 571.15,1350.25 535.2,1394.75 499.25,1428.5 463.3,1438.5 427.35,1444.75 391.4,1461.5 355.45,1457.25 319.5,1462.75" fill="#6EC4EE" opacity="0.3"/>
<polyline points="319.5,1459.25 355.45,1453.75 391.4,1458 427.35,1441.25 463.3,1435 499.25,1425 535.2,1391.25 571.15,1346.75" fill="none" stroke="#6EC4EE" stroke-width="3.2" stroke-linejoin="round" stroke-linecap="round"/>
<polygon points="319.5,1472.25 355.45,1472.25 391.4,1461 427.35,1449.75 463.3,1442.75 499.25,1422.25 535.2,1428 571.15,1398.5 571.15,1406.5 535.2,1436 499.25,1430.25 463.3,1450.75 427.35,1457.75 391.4,1469 355.45,1480.25 319.5,1480.25" fill="#F58B14" opacity="0.3"/>
<polyline points="319.5,1476.25 355.45,1476.25 391.4,1465 427.35,1453.75 463.3,1446.75 499.25,1426.25 535.2,1432 571.15,1402.5" fill="none" stroke="#F58B14" stroke-width="2.8" stroke-linejoin="round" stroke-linecap="round"/>
<circle cx="319.5" cy="1476.25" r="2" fill="#F58B14"/>
<circle cx="355.45" cy="1476.25" r="2" fill="#F58B14"/>
<circle cx="391.4" cy="1465" r="2" fill="#F58B14"/>
<circle cx="427.35" cy="1453.75" r="2" fill="#F58B14"/>
<circle cx="463.3" cy="1446.75" r="2" fill="#F58B14"/>
<circle cx="499.25" cy="1426.25" r="2" fill="#F58B14"/>
<circle cx="535.2" cy="1432" r="2" fill="#F58B14"/>
<circle cx="571.15" cy="1402.5" r="2" fill="#F58B14"/>
<polyline points="319.5,1476 355.45,1477 391.4,1466.75 427.35,1468.75 463.3,1463 499.25,1425.75 535.2,1440.5 571.15,1467" fill="none" stroke="#13322B" stroke-width="1"/>
<path d="M317.3 1477.8h4.4l-2.2 -4z" fill="#13322B"/>
<path d="M353.25 1478.8h4.4l-2.2 -4z" fill="#13322B"/>
<path d="M389.2 1468.55h4.4l-2.2 -4z" fill="#13322B"/>
<path d="M425.15 1470.55h4.4l-2.2 -4z" fill="#13322B"/>
<path d="M461.1 1464.8h4.4l-2.2 -4z" fill="#13322B"/>
<path d="M497.05 1427.55h4.4l-2.2 -4z" fill="#13322B"/>
<path d="M533 1442.3h4.4l-2.2 -4z" fill="#13322B"/>
<path d="M568.95 1468.8h4.4l-2.2 -4z" fill="#13322B"/>
<polyline points="319.5,1338.75 355.45,1338.75 391.4,1338.75 427.35,1338.75 463.3,1338.75 499.25,1338.75 535.2,1338.75 571.15,1338.75" fill="none" stroke="#2A8C1C" stroke-width="1.5" stroke-linejoin="round" stroke-linecap="round"/>
<circle cx="319.5" cy="1338.75" r="2.2" fill="#2A8C1C"/>
<circle cx="355.45" cy="1338.75" r="2.2" fill="#2A8C1C"/>
<circle cx="391.4" cy="1338.75" r="2.2" fill="#2A8C1C"/>
<circle cx="427.35" cy="1338.75" r="2.2" fill="#2A8C1C"/>
<circle cx="463.3" cy="1338.75" r="2.2" fill="#2A8C1C"/>
<circle cx="499.25" cy="1338.75" r="2.2" fill="#2A8C1C"/>
<circle cx="535.2" cy="1338.75" r="2.2" fill="#2A8C1C"/>
<circle cx="571.15" cy="1338.75" r="2.2" fill="#2A8C1C"/>
<path d="M319.5 1587V1735.5H593.5" fill="none" stroke="#000" stroke-width="2"/>
<path d="M319.5 1588h7M319.5 1661.25h7" fill="none" stroke="#000" stroke-width="1.6"/>
<path d="M331.25 1735.5v6M418 1735.5v6M504.5 1735.5v6M591.25 1735.5v6" fill="none" stroke="#000" stroke-width="1.6"/>
<text text-anchor="end" font-size="23.5" transform="translate(311.5,1599.5) scale(0.8,1)">1.0</text>
<text text-anchor="end" font-size="23.5" transform="translate(311.5,1671.75) scale(0.8,1)">0.5</text>
<text text-anchor="end" font-size="23.5" transform="translate(311.5,1742) scale(0.8,1)">0</text>
<text text-anchor="middle" font-size="24" transform="translate(331.25,1763.75) scale(0.95,1)">1</text>
<text text-anchor="middle" font-size="24" transform="translate(418,1763.75) scale(0.95,1)">2</text>
<text text-anchor="middle" font-size="24" transform="translate(504.5,1763.75) scale(0.95,1)">3</text>
<text text-anchor="middle" font-size="24" transform="translate(591.25,1763.75) scale(0.95,1)" fill="#555">4</text>
<text x="420.75" y="1793.75" font-size="26" textLength="67.5" lengthAdjust="spacingAndGlyphs">Years</text>
<text transform="translate(272,1689.25) rotate(-90)" font-size="27" textLength="53" lengthAdjust="spacingAndGlyphs">CCF</text>
<polygon points="331.25,1611.5 418,1588.75 504.5,1654 591.25,1732.5 591.25,1735.5 504.5,1686 418,1631.75 331.25,1645.5" fill="#6EC4EE" opacity="0.27"/>
<polyline points="331.25,1629.5 418,1608.75 504.5,1670 591.25,1734.5" fill="none" stroke="#6EC4EE" stroke-width="1" stroke-linejoin="round" stroke-linecap="round"/>
<circle cx="331.25" cy="1629.5" r="1.6" fill="#6EC4EE"/>
<circle cx="418" cy="1608.75" r="1.6" fill="#6EC4EE"/>
<circle cx="504.5" cy="1670" r="1.6" fill="#6EC4EE"/>
<circle cx="591.25" cy="1734.5" r="1.6" fill="#6EC4EE"/>
<polygon points="331.25,1730.75 418,1704.25 504.5,1693 591.25,1637.25 591.25,1650.25 504.5,1703 418,1712.25 331.25,1734.75" fill="#F58B14" opacity="0.3"/>
<polyline points="331.25,1733.75 418,1708.25 504.5,1698 591.25,1644.25" fill="none" stroke="#F58B14" stroke-width="3.6" stroke-linejoin="round" stroke-linecap="round"/>
<polyline points="331.25,1734.5 418,1718.75 504.5,1708.25 591.25,1723.25" fill="none" stroke="#13322B" stroke-width="4.6" stroke-linejoin="round" stroke-linecap="round"/>
<polygon points="331.25,1587 418,1587 504.5,1588.5 591.25,1587 591.25,1593 504.5,1593.5 418,1590 331.25,1589" fill="#2A8C1C" opacity="0.3"/>
<polyline points="331.25,1588 418,1588 504.5,1589.5 591.25,1588" fill="none" stroke="#2A8C1C" stroke-width="3.2" stroke-linejoin="round" stroke-linecap="round"/>
<circle cx="331.25" cy="1588" r="2.4" fill="#2A8C1C"/>
<circle cx="418" cy="1588" r="2.4" fill="#2A8C1C"/>
<circle cx="504.5" cy="1589.5" r="2.4" fill="#2A8C1C"/>
<circle cx="591.25" cy="1588" r="2.4" fill="#2A8C1C"/>
<text x="671.25" y="868" font-size="25" textLength="51.75" lengthAdjust="spacingAndGlyphs">54%</text>
<text x="1003.75" y="868" font-size="25" textLength="51.25" lengthAdjust="spacingAndGlyphs">46%</text>
<text x="673.25" y="1107.5" font-size="25" textLength="51.75" lengthAdjust="spacingAndGlyphs">89%</text>
<text x="1008" y="1107.5" font-size="25" textLength="36.5" lengthAdjust="spacingAndGlyphs">9%</text>
<text x="1364.5" y="1110.75" font-size="25" textLength="34.75" lengthAdjust="spacingAndGlyphs">1%</text>
<text x="675" y="1345" font-size="25" textLength="51.75" lengthAdjust="spacingAndGlyphs">99%</text>
<text x="1011.25" y="1345" font-size="25" textLength="35.5" lengthAdjust="spacingAndGlyphs">1%</text>
<text x="669.5" y="1604.5" font-size="25" textLength="51" lengthAdjust="spacingAndGlyphs">98%</text>
<text x="1025.75" y="1602.5" font-size="25" textLength="36.25" lengthAdjust="spacingAndGlyphs">2%</text>
<line x1="788" y1="966" x2="657.5" y2="1025" stroke="#F58B14" stroke-width="5" stroke-linecap="round"/>
<line x1="788" y1="966" x2="918.75" y2="1025" stroke="#13322B" stroke-width="1.5" stroke-linecap="butt"/>
<line x1="788" y1="906" x2="788" y2="966" stroke="#6EC4EE" stroke-width="8.8" stroke-linecap="round"/>
<line x1="788" y1="845" x2="788" y2="906" stroke="#2A8C1C" stroke-width="11.2" stroke-linecap="butt"/>
<circle cx="657.5" cy="1025" r="4.8" fill="#F58B14"/>
<circle cx="918.75" cy="1025" r="4.8" fill="#13322B"/>
<circle cx="788" cy="845" r="5.2" fill="#e3e3e3"/>
<text x="800" y="910.8" font-size="23.5" textLength="39.7" lengthAdjust="spacingAndGlyphs" fill="#1F7A1A">Cl. 0</text>
<text x="800.5" y="962.8" font-size="23.5" textLength="39.7" lengthAdjust="spacingAndGlyphs" fill="#6EC4EE">Cl. 1</text>
<text x="643.25" y="1054.55" font-size="23.5" textLength="39.7" lengthAdjust="spacingAndGlyphs" fill="#EE7D1E">Cl. 2</text>
<text x="896.25" y="1054.55" font-size="23.5" textLength="39.7" lengthAdjust="spacingAndGlyphs" fill="#000">Cl. 3</text>
<line x1="1161.25" y1="908.75" x2="1291.75" y2="968.25" stroke="#13322B" stroke-width="1.5" stroke-linecap="butt"/>
<line x1="1030" y1="968" x2="1030" y2="1028" stroke="#F58B14" stroke-width="5" stroke-linecap="round"/>
<line x1="1161.25" y1="908.75" x2="1030" y2="968" stroke="#6EC4EE" stroke-width="8.5" stroke-linecap="round"/>
<line x1="1161.25" y1="848" x2="1161.25" y2="909.5" stroke="#2A8C1C" stroke-width="11" stroke-linecap="butt"/>
<circle cx="1030" cy="1028" r="4.8" fill="#F58B14"/>
<circle cx="1291.75" cy="968.25" r="4.8" fill="#13322B"/>
<circle cx="1161.25" cy="848" r="5.2" fill="#e3e3e3"/>
<text x="1172" y="905.8" font-size="23.5" textLength="39.7" lengthAdjust="spacingAndGlyphs" fill="#1F7A1A">Cl. 0</text>
<text x="1045.5" y="990.8" font-size="23.5" textLength="39.7" lengthAdjust="spacingAndGlyphs" fill="#6EC4EE">Cl. 1</text>
<text x="1273.75" y="1000.8" font-size="23.5" textLength="39.7" lengthAdjust="spacingAndGlyphs" fill="#000">Cl. 3</text>
<text x="1011.25" y="1056.3" font-size="23.5" textLength="39.7" lengthAdjust="spacingAndGlyphs" fill="#EE7D1E">Cl. 2</text>
<line x1="661.25" y1="1212" x2="661.25" y2="1272.5" stroke="#5B73EE" stroke-width="7" stroke-linecap="round"/>
<line x1="792.5" y1="1153.75" x2="661.25" y2="1212" stroke="#6EC4EE" stroke-width="5.2" stroke-linecap="round"/>
<line x1="792.5" y1="1153.75" x2="923.25" y2="1212" stroke="#13322B" stroke-width="5" stroke-linecap="round"/>
<line x1="792.5" y1="1153.75" x2="792.5" y2="1213" stroke="#F58B14" stroke-width="9.5" stroke-linecap="round"/>
<line x1="792.5" y1="1093.75" x2="792.5" y2="1154.5" stroke="#2A8C1C" stroke-width="11" stroke-linecap="butt"/>
<circle cx="661.25" cy="1212" r="4.8" fill="#6EC4EE"/>
<circle cx="661.25" cy="1272.5" r="4.8" fill="#5B73EE"/>
<circle cx="923.25" cy="1212" r="4.8" fill="#13322B"/>
<circle cx="792.5" cy="1093.75" r="5.2" fill="#e3e3e3"/>
<text x="803.75" y="1152.05" font-size="23.5" textLength="39.7" lengthAdjust="spacingAndGlyphs" fill="#1F7A1A">Cl. 0</text>
<text x="674.5" y="1227.8" font-size="23.5" textLength="39.7" lengthAdjust="spacingAndGlyphs" fill="#6EC4EE">Cl. 1</text>
<text x="769.5" y="1238.3" font-size="23.5" textLength="39.7" lengthAdjust="spacingAndGlyphs" fill="#EE7D1E">Cl. 2</text>
<text x="900.5" y="1239.55" font-size="23.5" textLength="39.7" lengthAdjust="spacingAndGlyphs" fill="#000">Cl. 3</text>
<text x="644.25" y="1297.8" font-size="23.5" textLength="39.7" lengthAdjust="spacingAndGlyphs" fill="#5A6FE0">Cl. 4</text>
<line x1="1031.25" y1="1219.5" x2="1031.25" y2="1265" stroke="#5B73EE" stroke-width="6.2" stroke-linecap="round"/>
<line x1="1031.25" y1="1174.5" x2="1031.25" y2="1219.5" stroke="#13322B" stroke-width="5" stroke-linecap="round"/>
<line x1="1162.5" y1="1130.75" x2="1031.25" y2="1174.5" stroke="#6EC4EE" stroke-width="5.2" stroke-linecap="round"/>
<line x1="1162.5" y1="1130.75" x2="1293.75" y2="1174.5" stroke="#F58B14" stroke-width="8.2" stroke-linecap="round"/>
<line x1="1162.5" y1="1085" x2="1162.5" y2="1131.5" stroke="#2A8C1C" stroke-width="10.5" stroke-linecap="butt"/>
<circle cx="1031.25" cy="1174.5" r="4.8" fill="#6EC4EE"/>
<circle cx="1031.25" cy="1219.5" r="4.8" fill="#13322B"/>
<circle cx="1031.25" cy="1265" r="4.8" fill="#5B73EE"/>
<circle cx="1162.5" cy="1085" r="5.2" fill="#e3e3e3"/>
<text x="1143.75" y="1162.8" font-size="23.5" textLength="39.7" lengthAdjust="spacingAndGlyphs" fill="#1F7A1A">Cl. 0</text>
<text x="1044.5" y="1192.8" font-size="23.5" textLength="39.7" lengthAdjust="spacingAndGlyphs" fill="#6EC4EE">Cl. 1</text>
<text x="1042.5" y="1230.05" font-size="23.5" textLength="39.7" lengthAdjust="spacingAndGlyphs" fill="#000">Cl. 3</text>
<text x="1273.75" y="1205.05" font-size="23.5" textLength="39.7" lengthAdjust="spacingAndGlyphs" fill="#EE7D1E">Cl. 2</text>
<text x="1009.25" y="1295.8" font-size="23.5" textLength="39.7" lengthAdjust="spacingAndGlyphs" fill="#5A6FE0">Cl. 4</text>
<line x1="1455.5" y1="1203" x2="1368" y2="1262.5" stroke="#13322B" stroke-width="5" stroke-linecap="round"/>
<line x1="1455.5" y1="1203" x2="1542.5" y2="1262.5" stroke="#5B73EE" stroke-width="5.5" stroke-linecap="round"/>
<line x1="1542.5" y1="1144.5" x2="1455.5" y2="1203" stroke="#6EC4EE" stroke-width="5.5" stroke-linecap="round"/>
<line x1="1542.5" y1="1144.5" x2="1630.5" y2="1203" stroke="#F58B14" stroke-width="8.2" stroke-linecap="round"/>
<line x1="1542.5" y1="1082.5" x2="1542.5" y2="1145.2" stroke="#2A8C1C" stroke-width="10.5" stroke-linecap="butt"/>
<circle cx="1455.5" cy="1203" r="4.8" fill="#6EC4EE"/>
<circle cx="1368" cy="1262.5" r="4.8" fill="#13322B"/>
<circle cx="1542.5" cy="1262.5" r="4.8" fill="#5B73EE"/>
<circle cx="1542.5" cy="1082.5" r="5.2" fill="#e3e3e3"/>
<text x="1522" y="1178.8" font-size="23.5" textLength="39.7" lengthAdjust="spacingAndGlyphs" fill="#1F7A1A">Cl. 0</text>
<text x="1479.5" y="1210.05" font-size="23.5" textLength="39.7" lengthAdjust="spacingAndGlyphs" fill="#6EC4EE">Cl. 1</text>
<text x="1612" y="1229.55" font-size="23.5" textLength="39.7" lengthAdjust="spacingAndGlyphs" fill="#EE7D1E">Cl. 2</text>
<text x="1345.75" y="1294.05" font-size="23.5" textLength="39.7" lengthAdjust="spacingAndGlyphs" fill="#000">Cl. 3</text>
<text x="1531.25" y="1294.05" font-size="23.5" textLength="39.7" lengthAdjust="spacingAndGlyphs" fill="#5A6FE0">Cl. 4</text>
<line x1="788.25" y1="1467.5" x2="788.25" y2="1512.5" stroke="#13322B" stroke-width="4" stroke-linecap="butt"/>
<line x1="788.25" y1="1425" x2="788.25" y2="1467.5" stroke="#F58B14" stroke-width="6" stroke-linecap="butt"/>
<line x1="788.25" y1="1378.75" x2="788.25" y2="1421" stroke="#6EC4EE" stroke-width="10" stroke-linecap="round"/>
<line x1="788.25" y1="1333.75" x2="788.25" y2="1379.5" stroke="#2A8C1C" stroke-width="11.2" stroke-linecap="butt"/>
<circle cx="788.25" cy="1467.5" r="4.8" fill="#F58B14"/>
<circle cx="788.25" cy="1512.5" r="4.8" fill="#13322B"/>
<circle cx="788.25" cy="1333.75" r="5.2" fill="#e3e3e3"/>
<text x="798.75" y="1384.05" font-size="23.5" textLength="39.7" lengthAdjust="spacingAndGlyphs" fill="#1F7A1A">Cl. 0</text>
<text x="799" y="1427.8" font-size="23.5" textLength="39.7" lengthAdjust="spacingAndGlyphs" fill="#6EC4EE">Cl. 1</text>
<text x="798.75" y="1475.3" font-size="23.5" textLength="39.7" lengthAdjust="spacingAndGlyphs" fill="#EE7D1E">Cl. 2</text>
<text x="799.5" y="1519.55" font-size="23.5" textLength="39.7" lengthAdjust="spacingAndGlyphs" fill="#000">Cl. 3</text>
<line x1="1164.25" y1="1394.5" x2="1294.5" y2="1453.75" stroke="#13322B" stroke-width="4" stroke-linecap="round"/>
<line x1="1032.5" y1="1453.75" x2="1032.5" y2="1513.75" stroke="#F58B14" stroke-width="5.5" stroke-linecap="round"/>
<line x1="1164.25" y1="1394.5" x2="1032.5" y2="1453.75" stroke="#6EC4EE" stroke-width="9" stroke-linecap="round"/>
<line x1="1164.25" y1="1333.75" x2="1164.25" y2="1395.2" stroke="#2A8C1C" stroke-width="10.5" stroke-linecap="butt"/>
<circle cx="1032.5" cy="1513.75" r="4.8" fill="#F58B14"/>
<circle cx="1294.5" cy="1453.75" r="4.8" fill="#13322B"/>
<circle cx="1164.25" cy="1333.75" r="5.2" fill="#e3e3e3"/>
<text x="1143.75" y="1428.3" font-size="23.5" textLength="39.7" lengthAdjust="spacingAndGlyphs" fill="#1F7A1A">Cl. 0</text>
<text x="1045.75" y="1475.05" font-size="23.5" textLength="39.7" lengthAdjust="spacingAndGlyphs" fill="#6EC4EE">Cl. 1</text>
<text x="1047.5" y="1520.05" font-size="23.5" textLength="39.7" lengthAdjust="spacingAndGlyphs" fill="#EE7D1E">Cl. 2</text>
<text x="1273.25" y="1484.05" font-size="23.5" textLength="39.7" lengthAdjust="spacingAndGlyphs" fill="#000">Cl. 3</text>
<line x1="920" y1="1710" x2="920" y2="1769.5" stroke="#13322B" stroke-width="2" stroke-linecap="butt"/>
<line x1="789.5" y1="1650" x2="658.25" y2="1710" stroke="#6EC4EE" stroke-width="8.5" stroke-linecap="round"/>
<line x1="789.5" y1="1650" x2="920" y2="1710" stroke="#F58B14" stroke-width="6.5" stroke-linecap="round"/>
<line x1="789.5" y1="1590" x2="789.5" y2="1650.7" stroke="#2A8C1C" stroke-width="10.8" stroke-linecap="butt"/>
<circle cx="920" cy="1710" r="4.8" fill="#F58B14"/>
<circle cx="920" cy="1769.5" r="4.8" fill="#13322B"/>
<circle cx="789.5" cy="1590" r="5.2" fill="#e3e3e3"/>
<text x="800.5" y="1648.8" font-size="23.5" textLength="39.7" lengthAdjust="spacingAndGlyphs" fill="#1F7A1A">Cl. 0</text>
<text x="641.75" y="1738.8" font-size="23.5" textLength="39.7" lengthAdjust="spacingAndGlyphs" fill="#6EC4EE">Cl. 1</text>
<text x="869.25" y="1727.8" font-size="23.5" textLength="39.7" lengthAdjust="spacingAndGlyphs" fill="#EE7D1E">Cl. 2</text>
<text x="869.25" y="1777.8" font-size="23.5" textLength="39.7" lengthAdjust="spacingAndGlyphs" fill="#000">Cl. 3</text>
<line x1="1033.25" y1="1710" x2="1033.25" y2="1770" stroke="#13322B" stroke-width="2" stroke-linecap="butt"/>
<line x1="1164.5" y1="1650.75" x2="1033.25" y2="1710" stroke="#6EC4EE" stroke-width="9" stroke-linecap="round"/>
<line x1="1164.5" y1="1650.75" x2="1295" y2="1710" stroke="#F58B14" stroke-width="6.5" stroke-linecap="round"/>
<line x1="1164.5" y1="1590" x2="1164.5" y2="1651.4" stroke="#2A8C1C" stroke-width="10.5" stroke-linecap="butt"/>
<circle cx="1295" cy="1710" r="4.8" fill="#F58B14"/>
<circle cx="1033.25" cy="1770" r="4.8" fill="#13322B"/>
<circle cx="1164.5" cy="1590" r="5.2" fill="#e3e3e3"/>
<text x="1143.75" y="1683.3" font-size="23.5" textLength="39.7" lengthAdjust="spacingAndGlyphs" fill="#1F7A1A">Cl. 0</text>
<text x="1047" y="1732.05" font-size="23.5" textLength="39.7" lengthAdjust="spacingAndGlyphs" fill="#6EC4EE">Cl. 1</text>
<text x="1049.25" y="1777.8" font-size="23.5" textLength="39.7" lengthAdjust="spacingAndGlyphs" fill="#000">Cl. 3</text>
<text x="1276.75" y="1744.05" font-size="23.5" textLength="39.7" lengthAdjust="spacingAndGlyphs" fill="#EE7D1E">Cl. 2</text>
</g>
<g id="panel-e">
<text font-size="37.5" x="-0.5" y="1824.5" font-weight="bold">e</text>
<text x="36.25" y="1824.5" font-size="26" textLength="56.75" lengthAdjust="spacingAndGlyphs">Pt. 9</text>
<rect x="138" y="1825.5" width="302" height="288.25" fill="none" stroke="#000" stroke-width="1.6"/>
<path d="M138 2061.15h7.5M138 2008.55h7.5M138 1955.95h7.5M138 1903.35h7.5M138 1850.75h7.5" fill="none" stroke="#000" stroke-width="1.5"/>
<text text-anchor="end" font-size="23.5" transform="translate(130.3,2119.25) scale(0.8,1)">0</text>
<text text-anchor="end" font-size="23.5" transform="translate(130.3,2069.15) scale(0.8,1)">0.2</text>
<text text-anchor="end" font-size="23.5" transform="translate(130.3,2016.55) scale(0.8,1)">0.4</text>
<text text-anchor="end" font-size="23.5" transform="translate(130.3,1963.95) scale(0.8,1)">0.6</text>
<text text-anchor="end" font-size="23.5" transform="translate(130.3,1911.35) scale(0.8,1)">0.8</text>
<text text-anchor="end" font-size="23.5" transform="translate(130.3,1858.75) scale(0.8,1)">1.0</text>
<path d="M148.75 2113.75v6.5M203.25 2113.75v6.5M257.75 2113.75v6.5M312.25 2113.75v6.5M366.75 2113.75v6.5M421.25 2113.75v6.5" fill="none" stroke="#000" stroke-width="1.5"/>
<text text-anchor="middle" font-size="23.5" transform="translate(148.25,2141.25) scale(0.8,1)">0</text>
<text text-anchor="middle" font-size="23.5" transform="translate(202.75,2141.25) scale(0.8,1)">2</text>
<text text-anchor="middle" font-size="23.5" transform="translate(257.25,2141.25) scale(0.8,1)">4</text>
<text text-anchor="middle" font-size="23.5" transform="translate(311.75,2141.25) scale(0.8,1)">6</text>
<text text-anchor="middle" font-size="23.5" transform="translate(366.25,2141.25) scale(0.8,1)">8</text>
<text text-anchor="middle" font-size="23.5" transform="translate(420.25,2141.25) scale(0.8,1)">10</text>
<text x="258" y="1861.25" font-size="26" textLength="167.75" lengthAdjust="spacingAndGlyphs">Prior on Alpha</text>
<polyline points="151,1842 151.49,1846.3 151.98,1850.6 152.45,1854.9 152.91,1859.2 153.35,1863.51 153.79,1867.81 154.2,1872.12 154.59,1876.43 154.96,1880.74 155.32,1885.05 155.68,1889.36 156.05,1893.68 156.43,1897.99 156.83,1902.29 157.27,1906.6 157.73,1910.9 158.22,1915.2 158.72,1919.5 159.24,1923.79 159.76,1928.09 160.3,1932.38 160.84,1936.67 161.41,1940.97 161.98,1945.25 162.56,1949.54 163.15,1953.83 163.74,1958.12 164.33,1962.4 164.9,1966.7 165.46,1970.99 166.04,1975.28 166.65,1979.57 167.3,1983.84 168.02,1988.1 168.83,1992.35 169.75,1996.58 170.73,2000.8 171.75,2005 172.81,2009.19 173.94,2013.37 175.11,2017.54 176.32,2021.7 177.54,2025.85 178.76,2030 180.03,2034.15 181.38,2038.25 182.87,2042.3 184.52,2046.3 186.29,2050.26 188.09,2054.2 189.89,2058.15 191.73,2062.11 193.68,2065.98 195.81,2069.7 198.25,2073.24 200.98,2076.64 203.87,2079.87 206.9,2082.96 210.11,2085.91 213.47,2088.62 217.01,2091.05 220.75,2093.3 224.59,2095.33 228.5,2097.14 232.5,2098.83 236.58,2100.37 240.7,2101.66 244.87,2102.69 249.11,2103.59 253.39,2104.36 257.68,2104.96 261.97,2105.45 266.27,2105.88 270.59,2106.25 274.91,2106.58 279.23,2106.85 283.55,2107.08 287.87,2107.28 292.2,2107.47 296.52,2107.64 300.85,2107.78 305.17,2107.9 309.5,2107.99 313.83,2108.06 318.15,2108.13 322.48,2108.19 326.81,2108.24 331.13,2108.29 335.46,2108.33 339.79,2108.37 344.11,2108.39 348.44,2108.4 352.77,2108.4 357.1,2108.4 361.42,2108.4 365.75,2108.4 370.08,2108.4 374.4,2108.4 378.73,2108.4 383.06,2108.4 387.38,2108.4 391.71,2108.4 396.04,2108.4 400.36,2108.4 404.69,2108.4 409.02,2108.4 413.35,2108.4 417.67,2108.4 422,2108.4" fill="none" stroke="#C44E52" stroke-width="1.9" stroke-dasharray="1.7 1.7"/>
<polyline points="148.4,2108 148.42,2104.46 148.46,2100.92 148.52,2097.38 148.59,2093.84 148.69,2090.3 148.79,2086.76 148.91,2083.23 149.03,2079.69 149.16,2076.16 149.3,2072.62 149.44,2069.09 149.59,2065.55 149.78,2062.01 149.99,2058.48 150.24,2054.94 150.51,2051.41 150.82,2047.89 151.17,2044.38 151.6,2040.85 152.12,2037.33 152.73,2033.82 153.44,2030.37 154.27,2026.95 155.33,2023.4 156.73,2020.05 158.55,2017.34 161.48,2014.86 164.69,2014.07 167.93,2015.62 170.94,2017.64 173.71,2019.84 176.31,2022.3 178.79,2024.82 181.12,2027.46 183.36,2030.21 185.56,2033 187.8,2035.76 190.07,2038.47 192.32,2041.21 194.59,2043.93 196.9,2046.62 199.27,2049.23 201.72,2051.77 204.24,2054.25 206.82,2056.69 209.45,2059.08 212.12,2061.41 214.82,2063.68 217.56,2065.92 220.34,2068.13 223.16,2070.28 226.04,2072.36 228.96,2074.33 231.95,2076.2 235.01,2077.99 238.13,2079.69 241.3,2081.27 244.5,2082.73 247.76,2084.11 251.06,2085.41 254.38,2086.67 257.7,2087.89 261.02,2089.12 264.35,2090.35 267.69,2091.58 271.04,2092.76 274.4,2093.87 277.78,2094.9 281.18,2095.8 284.61,2096.6 288.06,2097.34 291.53,2098.04 295.02,2098.69 298.51,2099.3 302.02,2099.86 305.53,2100.39 309.03,2100.87 312.54,2101.33 316.04,2101.76 319.56,2102.18 323.07,2102.58 326.59,2102.97 330.12,2103.33 333.64,2103.67 337.17,2104 340.7,2104.3 344.23,2104.59 347.76,2104.85 351.29,2105.08 354.81,2105.31 358.35,2105.52 361.88,2105.72 365.41,2105.91 368.95,2106.09 372.48,2106.26 376.02,2106.42 379.56,2106.58 383.09,2106.73 386.63,2106.87 390.17,2107.01 393.7,2107.14 397.24,2107.27 400.77,2107.39 404.31,2107.51 407.85,2107.62 411.39,2107.72 414.92,2107.82 418.46,2107.92 422,2108" fill="none" stroke="#8172B2" stroke-width="1.9" stroke-dasharray="1.7 1.7"/>
<polyline points="148.4,2108 148.55,2104.99 148.76,2101.98 149.01,2098.98 149.31,2095.99 149.64,2093.01 150,2090.03 150.4,2087.05 150.87,2084.07 151.42,2081.1 152.03,2078.15 152.7,2075.23 153.43,2072.32 154.26,2069.38 155.21,2066.45 156.29,2063.61 157.51,2060.93 158.95,2058.4 160.76,2055.9 162.86,2053.57 165.13,2051.6 167.56,2050.06 170.33,2048.73 173.24,2047.77 176.16,2047.2 179.17,2046.76 182.17,2046.6 185.16,2046.9 188.13,2047.54 191.02,2048.27 193.84,2049.25 196.61,2050.45 199.36,2051.75 202.09,2053.04 204.8,2054.34 207.48,2055.71 210.15,2057.09 212.84,2058.44 215.56,2059.72 218.3,2060.95 221.06,2062.14 223.82,2063.33 226.59,2064.51 229.35,2065.71 232.09,2066.94 234.83,2068.19 237.56,2069.46 240.29,2070.73 243.02,2071.98 245.77,2073.21 248.53,2074.39 251.31,2075.53 254.1,2076.63 256.91,2077.71 259.73,2078.76 262.56,2079.79 265.39,2080.8 268.23,2081.79 271.07,2082.77 273.92,2083.74 276.77,2084.7 279.63,2085.65 282.49,2086.58 285.36,2087.48 288.24,2088.36 291.12,2089.2 294.02,2090 296.92,2090.78 299.83,2091.53 302.75,2092.27 305.67,2092.98 308.61,2093.66 311.55,2094.31 314.49,2094.92 317.44,2095.5 320.39,2096.03 323.35,2096.55 326.31,2097.04 329.28,2097.51 332.26,2097.96 335.24,2098.39 338.22,2098.82 341.2,2099.23 344.18,2099.63 347.16,2100.03 350.14,2100.42 353.13,2100.81 356.11,2101.2 359.09,2101.6 362.07,2101.98 365.06,2102.37 368.04,2102.74 371.03,2103.11 374.02,2103.46 377.01,2103.79 380,2104.11 382.99,2104.4 385.98,2104.68 388.98,2104.92 391.97,2105.15 394.97,2105.36 397.97,2105.57 400.97,2105.77 403.97,2105.96 406.97,2106.13 409.97,2106.3 412.98,2106.45 415.98,2106.58 418.99,2106.7 422,2106.8" fill="none" stroke="#CCB974" stroke-width="1.9" stroke-dasharray="1.7 1.7"/>
<polyline points="148.4,2109 149.27,2106.36 150.26,2103.78 151.35,2101.26 152.53,2098.8 153.78,2096.4 155.14,2094.06 156.65,2091.78 158.29,2089.55 160,2087.39 161.76,2085.29 163.56,2083.23 165.44,2081.23 167.41,2079.3 169.44,2077.47 171.54,2075.73 173.71,2074.02 175.96,2072.39 178.27,2070.93 180.65,2069.68 183.13,2068.56 185.7,2067.53 188.31,2066.62 190.95,2065.86 193.6,2065.23 196.28,2064.61 198.99,2064.07 201.71,2063.71 204.43,2063.6 207.17,2063.6 209.92,2063.6 212.66,2063.6 215.38,2063.64 218.09,2063.95 220.79,2064.46 223.49,2065.06 226.17,2065.63 228.84,2066.2 231.51,2066.83 234.17,2067.49 236.82,2068.19 239.46,2068.91 242.11,2069.63 244.74,2070.37 247.36,2071.15 249.98,2071.95 252.6,2072.76 255.21,2073.57 257.83,2074.37 260.46,2075.13 263.1,2075.88 265.73,2076.62 268.37,2077.35 271.01,2078.07 273.66,2078.79 276.3,2079.5 278.95,2080.2 281.59,2080.89 284.24,2081.59 286.89,2082.28 289.54,2082.96 292.2,2083.64 294.85,2084.32 297.51,2084.98 300.17,2085.63 302.83,2086.27 305.5,2086.89 308.17,2087.49 310.84,2088.08 313.51,2088.67 316.19,2089.24 318.87,2089.81 321.55,2090.36 324.24,2090.89 326.93,2091.42 329.62,2091.93 332.31,2092.43 335,2092.92 337.69,2093.41 340.39,2093.89 343.09,2094.36 345.79,2094.82 348.49,2095.27 351.2,2095.71 353.9,2096.13 356.61,2096.53 359.32,2096.91 362.03,2097.27 364.74,2097.62 367.46,2097.97 370.18,2098.3 372.9,2098.62 375.62,2098.94 378.34,2099.24 381.06,2099.53 383.79,2099.81 386.51,2100.07 389.24,2100.33 391.96,2100.58 394.69,2100.82 397.42,2101.05 400.15,2101.28 402.87,2101.5 405.6,2101.71 408.33,2101.92 411.07,2102.11 413.8,2102.3 416.53,2102.48 419.27,2102.64 422,2102.8" fill="none" stroke="#4C72B0" stroke-width="1.9" stroke-dasharray="1.7 1.7"/>
<polyline points="148.4,2109 150.81,2108.14 153.21,2107.28 155.62,2106.4 158.01,2105.51 160.4,2104.61 162.79,2103.7 165.17,2102.76 167.54,2101.81 169.91,2100.85 172.28,2099.88 174.65,2098.92 177.03,2097.98 179.41,2097.05 181.79,2096.12 184.17,2095.18 186.56,2094.26 188.95,2093.36 191.36,2092.5 193.77,2091.67 196.2,2090.89 198.64,2090.13 201.09,2089.39 203.55,2088.68 206.02,2088 208.5,2087.37 210.98,2086.77 213.47,2086.19 215.96,2085.63 218.46,2085.1 220.97,2084.59 223.49,2084.1 226,2083.65 228.52,2083.23 231.05,2082.84 233.57,2082.46 236.11,2082.08 238.64,2081.73 241.18,2081.39 243.73,2081.1 246.27,2080.85 248.82,2080.66 251.36,2080.54 253.91,2080.42 256.47,2080.31 259.02,2080.21 261.58,2080.13 264.14,2080.07 266.7,2080.02 269.25,2080 271.81,2080.01 274.36,2080.07 276.92,2080.18 279.47,2080.31 282.02,2080.46 284.58,2080.63 287.13,2080.81 289.68,2080.98 292.23,2081.15 294.78,2081.35 297.32,2081.58 299.87,2081.81 302.41,2082.06 304.96,2082.31 307.5,2082.56 310.05,2082.8 312.59,2083.05 315.14,2083.29 317.68,2083.54 320.23,2083.8 322.77,2084.05 325.31,2084.31 327.85,2084.58 330.4,2084.84 332.94,2085.11 335.48,2085.39 338.02,2085.67 340.56,2085.95 343.1,2086.23 345.64,2086.52 348.18,2086.8 350.73,2087.08 353.27,2087.36 355.81,2087.65 358.35,2087.94 360.89,2088.23 363.43,2088.51 365.97,2088.78 368.51,2089.05 371.05,2089.3 373.6,2089.55 376.14,2089.79 378.69,2090.02 381.24,2090.24 383.78,2090.47 386.33,2090.69 388.88,2090.9 391.42,2091.12 393.97,2091.34 396.52,2091.55 399.07,2091.77 401.61,2091.98 404.16,2092.19 406.71,2092.4 409.26,2092.6 411.81,2092.81 414.35,2093.01 416.9,2093.21 419.45,2093.41 422,2093.6" fill="none" stroke="#55A868" stroke-width="1.9" stroke-dasharray="1.7 1.7"/>
<rect x="497.5" y="1825.5" width="302.25" height="288.25" fill="none" stroke="#000" stroke-width="1.6"/>
<path d="M497.5 2073.75h7.5M497.5 2033.75h7.5M497.5 1993.75h7.5M497.5 1953.75h7.5M497.5 1913.75h7.5M497.5 1873.75h7.5" fill="none" stroke="#000" stroke-width="1.5"/>
<text text-anchor="end" font-size="23.5" transform="translate(491.3,2119.25) scale(0.8,1)">0</text>
<text text-anchor="end" font-size="23.5" transform="translate(491.3,2041.75) scale(0.8,1)">0.2</text>
<text text-anchor="end" font-size="23.5" transform="translate(491.3,1961.75) scale(0.8,1)">0.4</text>
<text text-anchor="end" font-size="23.5" transform="translate(491.3,1881.75) scale(0.8,1)">0.6</text>
<path d="M523.25 2113.75v6.5M588.45 2113.75v6.5M653.65 2113.75v6.5M718.85 2113.75v6.5M784.05 2113.75v6.5" fill="none" stroke="#000" stroke-width="1.5"/>
<text text-anchor="middle" font-size="23.5" transform="translate(522.75,2141.25) scale(0.8,1)">0</text>
<text text-anchor="middle" font-size="23.5" transform="translate(587.95,2141.25) scale(0.8,1)">2</text>
<text text-anchor="middle" font-size="23.5" transform="translate(653.15,2141.25) scale(0.8,1)">4</text>
<text text-anchor="middle" font-size="23.5" transform="translate(718.35,2141.25) scale(0.8,1)">6</text>
<text text-anchor="middle" font-size="23.5" transform="translate(783.55,2141.25) scale(0.8,1)">8</text>
<text x="673.25" y="1860" font-size="26" textLength="106.25" lengthAdjust="spacingAndGlyphs">Posterior</text>
<text x="673.25" y="1888" font-size="26" textLength="103.75" lengthAdjust="spacingAndGlyphs">on Alpha</text>
<polyline points="504.67,2109.08 506.21,2109.01 507.75,2108.9 509.29,2108.72 510.83,2108.43 512.37,2107.99 513.91,2107.33 515.45,2106.36 517,2104.99 518.54,2103.09 520.08,2100.5 521.62,2096.97 523.16,2092.22 524.7,2086.01 526.24,2078.19 527.78,2068.79 529.32,2058.01 530.86,2046.17 532.4,2033.54 533.94,2020.32 535.49,2006.61 537.03,1992.38 538.57,1977.62 540.11,1962.3 541.65,1946.49 543.19,1930.39 544.73,1914.31 546.27,1898.7 547.81,1884.04 549.35,1870.81 550.89,1859.51 552.44,1850.59 553.98,1844.46 555.52,1841.33 557.06,1841.15 558.6,1843.57 560.14,1848.06 561.68,1854.02 563.22,1860.89 564.76,1868.27 566.3,1875.91 567.84,1883.61 569.38,1891.26 570.93,1898.73 572.47,1905.96 574.01,1912.93 575.55,1919.73 577.09,1926.5 578.63,1933.44 580.17,1940.75 581.71,1948.58 583.25,1956.96 584.79,1965.83 586.33,1975.02 587.88,1984.3 589.42,1993.5 590.96,2002.49 592.5,2011.23 594.04,2019.68 595.58,2027.82 597.12,2035.57 598.66,2042.82 600.2,2049.44 601.74,2055.32 603.28,2060.46 604.83,2064.91 606.37,2068.79 607.91,2072.22 609.45,2075.3 610.99,2078.11 612.53,2080.68 614.07,2083.04 615.61,2085.2 617.15,2087.17 618.69,2088.98 620.23,2090.62 621.77,2092.11 623.32,2093.45 624.86,2094.65 626.4,2095.73 627.94,2096.71 629.48,2097.61 631.02,2098.45 632.56,2099.27 634.1,2100.07 635.64,2100.87 637.18,2101.66 638.72,2102.43 640.27,2103.17 641.81,2103.86 643.35,2104.46 644.89,2104.97 646.43,2105.38 647.97,2105.7 649.51,2105.94 651.05,2106.14 652.59,2106.32 654.13,2106.53 655.67,2106.79 657.21,2107.14 658.76,2107.58 660.3,2108.09 661.84,2108.62 663.38,2109.13 664.92,2109.15 666.46,2109.15 668,2109.15 669.54,2109.15 671.08,2109.15 672.62,2109.15 674.16,2109.15 675.71,2109.15 677.25,2109.15 678.79,2109.15 680.33,2109.15 681.87,2109.15 683.41,2109.15 684.95,2109.15 686.49,2109.15 688.03,2109.15 689.57,2109.15 691.11,2109.15 692.66,2109.15 694.2,2109.15 695.74,2109.15 697.28,2109.15 698.82,2109.15 700.36,2109.15 701.9,2109.15 703.44,2109.15 704.98,2109.15 706.52,2109.15 708.06,2109.15 709.6,2109.15 711.15,2109.15 712.69,2109.15 714.23,2109.15 715.77,2109.15 717.31,2109.15 718.85,2109.15" fill="none" stroke="#C44E52" stroke-width="2.5" stroke-linejoin="round"/>
<polyline points="506.95,2109.08 508.76,2109.02 510.56,2108.93 512.37,2108.79 514.17,2108.58 515.98,2108.27 517.79,2107.8 519.59,2107.08 521.4,2106.04 523.2,2104.57 525.01,2102.56 526.81,2099.9 528.62,2096.45 530.43,2092.06 532.23,2086.57 534.04,2079.88 535.84,2071.93 537.65,2062.7 539.46,2052.18 541.26,2040.34 543.07,2027.11 544.87,2012.44 546.68,1996.41 548.49,1979.3 550.29,1961.58 552.1,1943.87 553.9,1926.87 555.71,1911.27 557.52,1897.64 559.32,1886.45 561.13,1877.98 562.93,1872.37 564.74,1869.53 566.54,1869.22 568.35,1871.06 570.16,1874.58 571.96,1879.39 573.77,1885.2 575.57,1891.81 577.38,1899.06 579.19,1906.84 580.99,1915.02 582.8,1923.49 584.6,1932.11 586.41,1940.76 588.22,1949.32 590.02,1957.7 591.83,1965.86 593.63,1973.76 595.44,1981.37 597.24,1988.69 599.05,1995.7 600.86,2002.44 602.66,2008.97 604.47,2015.34 606.27,2021.64 608.08,2027.93 609.89,2034.26 611.69,2040.61 613.5,2046.92 615.3,2053.1 617.11,2059 618.92,2064.54 620.72,2069.63 622.53,2074.24 624.33,2078.38 626.14,2082.05 627.95,2085.29 629.75,2088.12 631.56,2090.57 633.36,2092.66 635.17,2094.4 636.97,2095.78 638.78,2096.81 640.59,2097.53 642.39,2097.98 644.2,2098.25 646,2098.43 647.81,2098.62 649.62,2098.87 651.42,2099.27 653.23,2099.84 655.03,2100.59 656.84,2101.47 658.65,2102.45 660.45,2103.46 662.26,2104.47 664.06,2105.43 665.87,2106.32 667.68,2107.1 669.48,2107.77 671.29,2108.32 673.09,2108.77 674.9,2109.14 676.7,2109.15 678.51,2109.15 680.32,2109.15 682.12,2109.15 683.93,2109.15 685.73,2109.15 687.54,2109.15 689.35,2109.15 691.15,2109.15 692.96,2109.15 694.76,2109.15 696.57,2109.15 698.38,2109.15 700.18,2109.15 701.99,2109.15 703.79,2109.15 705.6,2109.15 707.4,2109.15 709.21,2109.15 711.02,2109.15 712.82,2109.15 714.63,2109.15 716.43,2109.15 718.24,2109.15 720.05,2109.15 721.85,2109.15 723.66,2109.15 725.46,2109.15 727.27,2109.15 729.08,2109.15 730.88,2109.15 732.69,2109.15 734.49,2109.15 736.3,2109.15 738.11,2109.15 739.91,2109.15 741.72,2109.15 743.52,2109.15 745.33,2109.15 747.13,2109.15 748.94,2109.15 750.75,2109.15 752.55,2109.15 754.36,2109.15 756.16,2109.15 757.97,2109.15" fill="none" stroke="#8172B2" stroke-width="2.5" stroke-linejoin="round"/>
<polyline points="508.58,2109.08 510.14,2109.03 511.7,2108.94 513.26,2108.81 514.82,2108.65 516.38,2108.43 517.94,2108.15 519.5,2107.77 521.06,2107.24 522.62,2106.5 524.18,2105.47 525.74,2104.06 527.3,2102.21 528.86,2099.89 530.41,2097.05 531.97,2093.64 533.53,2089.59 535.09,2084.81 536.65,2079.26 538.21,2072.91 539.77,2065.78 541.33,2057.91 542.89,2049.33 544.45,2040.04 546.01,2029.99 547.57,2019.14 549.13,2007.52 550.69,1995.27 552.25,1982.64 553.81,1970 555.37,1957.71 556.93,1946.12 558.49,1935.51 560.05,1926.11 561.61,1918.06 563.17,1911.42 564.73,1906.14 566.29,1902.14 567.85,1899.36 569.41,1897.73 570.97,1897.21 572.53,1897.72 574.08,1899.15 575.64,1901.38 577.2,1904.31 578.76,1907.86 580.32,1912 581.88,1916.68 583.44,1921.85 585,1927.41 586.56,1933.23 588.12,1939.18 589.68,1945.14 591.24,1951.05 592.8,1956.87 594.36,1962.6 595.92,1968.25 597.48,1973.8 599.04,1979.26 600.6,1984.61 602.16,1989.82 603.72,1994.9 605.28,1999.84 606.84,2004.65 608.4,2009.35 609.96,2013.98 611.52,2018.57 613.08,2023.14 614.64,2027.74 616.2,2032.39 617.75,2037.09 619.31,2041.84 620.87,2046.6 622.43,2051.31 623.99,2055.9 625.55,2060.3 627.11,2064.45 628.67,2068.29 630.23,2071.83 631.79,2075.06 633.35,2078 634.91,2080.66 636.47,2083.06 638.03,2085.19 639.59,2087.06 641.15,2088.68 642.71,2090.09 644.27,2091.32 645.83,2092.42 647.39,2093.43 648.95,2094.39 650.51,2095.34 652.07,2096.29 653.63,2097.26 655.19,2098.23 656.75,2099.2 658.31,2100.14 659.87,2101.04 661.42,2101.88 662.98,2102.65 664.54,2103.36 666.1,2104.01 667.66,2104.61 669.22,2105.17 670.78,2105.68 672.34,2106.16 673.9,2106.59 675.46,2106.98 677.02,2107.33 678.58,2107.64 680.14,2107.9 681.7,2108.14 683.26,2108.35 684.82,2108.54 686.38,2108.72 687.94,2108.88 689.5,2109.03 691.06,2109.15 692.62,2109.15 694.18,2109.15 695.74,2109.15 697.3,2109.15 698.86,2109.15 700.42,2109.15 701.98,2109.15 703.54,2109.15 705.09,2109.15 706.65,2109.15 708.21,2109.15 709.77,2109.15 711.33,2109.15 712.89,2109.15 714.45,2109.15 716.01,2109.15 717.57,2109.15 719.13,2109.15 720.69,2109.15 722.25,2109.15 723.81,2109.15 725.37,2109.15" fill="none" stroke="#CCB974" stroke-width="2.5" stroke-linejoin="round"/>
<polyline points="510.21,2109.05 512.14,2108.96 514.08,2108.83 516.01,2108.64 517.95,2108.38 519.88,2108.03 521.82,2107.53 523.75,2106.83 525.69,2105.82 527.62,2104.4 529.56,2102.44 531.49,2099.87 533.43,2096.6 535.36,2092.57 537.3,2087.69 539.23,2081.9 541.17,2075.13 543.1,2067.38 545.04,2058.72 546.97,2049.27 548.91,2039.14 550.84,2028.42 552.78,2017.21 554.71,2005.65 556.65,1993.93 558.58,1982.35 560.52,1971.26 562.45,1960.98 564.39,1951.79 566.32,1943.86 568.26,1937.3 570.19,1932.17 572.13,1928.48 574.06,1926.17 576,1925.19 577.93,1925.41 579.87,1926.66 581.8,1928.7 583.74,1931.29 585.67,1934.21 587.61,1937.34 589.54,1940.65 591.48,1944.17 593.41,1947.98 595.35,1952.14 597.28,1956.7 599.22,1961.63 601.15,1966.86 603.08,1972.26 605.02,1977.71 606.95,1983.09 608.89,1988.35 610.82,1993.45 612.76,1998.4 614.69,2003.22 616.63,2007.95 618.56,2012.61 620.5,2017.23 622.43,2021.84 624.37,2026.46 626.3,2031.12 628.24,2035.84 630.17,2040.59 632.11,2045.35 634.04,2050.05 635.98,2054.63 637.91,2058.97 639.85,2063.01 641.78,2066.68 643.72,2069.95 645.65,2072.82 647.59,2075.35 649.52,2077.58 651.46,2079.6 653.39,2081.45 655.33,2083.2 657.26,2084.89 659.2,2086.52 661.13,2088.11 663.07,2089.66 665,2091.15 666.94,2092.58 668.87,2093.93 670.81,2095.21 672.74,2096.41 674.68,2097.54 676.61,2098.61 678.55,2099.6 680.48,2100.54 682.42,2101.42 684.35,2102.23 686.29,2102.99 688.22,2103.7 690.15,2104.35 692.09,2104.96 694.02,2105.53 695.96,2106.06 697.89,2106.53 699.83,2106.93 701.76,2107.27 703.7,2107.54 705.63,2107.73 707.57,2107.87 709.5,2107.96 711.44,2108.02 713.37,2108.07 715.31,2108.1 717.24,2108.12 719.18,2108.15 721.11,2108.17 723.05,2108.18 724.98,2108.2 726.92,2108.22 728.85,2108.25 730.79,2108.27 732.72,2108.3 734.66,2108.34 736.59,2108.37 738.53,2108.42 740.46,2108.46 742.4,2108.51 744.33,2108.56 746.27,2108.62 748.2,2108.68 750.14,2108.74 752.07,2108.8 754.01,2108.87 755.94,2108.94 757.88,2109.01 759.81,2109.09 761.75,2109.15 763.68,2109.15 765.62,2109.15 767.55,2109.15 769.49,2109.15 771.42,2109.15 773.36,2109.15 775.29,2109.15 777.23,2109.15 779.16,2109.15" fill="none" stroke="#4C72B0" stroke-width="2.5" stroke-linejoin="round"/>
<polyline points="513.47,2109.02 515.37,2108.9 517.27,2108.72 519.17,2108.48 521.07,2108.15 522.97,2107.73 524.87,2107.19 526.77,2106.5 528.67,2105.6 530.57,2104.42 532.47,2102.9 534.37,2101 536.27,2098.71 538.17,2096.06 540.07,2093.07 541.97,2089.73 543.87,2086.02 545.77,2081.89 547.66,2077.25 549.56,2072.03 551.46,2066.16 553.36,2059.63 555.26,2052.46 557.16,2044.73 559.06,2036.55 560.96,2028.06 562.86,2019.4 564.76,2010.74 566.66,2002.27 568.56,1994.18 570.46,1986.63 572.36,1979.77 574.26,1973.68 576.16,1968.45 578.06,1964.1 579.96,1960.6 581.86,1957.89 583.76,1955.89 585.66,1954.5 587.56,1953.63 589.46,1953.21 591.36,1953.16 593.26,1953.41 595.16,1953.95 597.06,1954.78 598.96,1955.98 600.86,1957.58 602.76,1959.63 604.66,1962.18 606.56,1965.24 608.46,1968.81 610.36,1972.86 612.26,1977.35 614.15,1982.12 616.05,1987.02 617.95,1991.86 619.85,1996.48 621.75,2000.78 623.65,2004.74 625.55,2008.39 627.45,2011.78 629.35,2014.98 631.25,2018.06 633.15,2021.07 635.05,2024.06 636.95,2027.06 638.85,2030.12 640.75,2033.24 642.65,2036.41 644.55,2039.63 646.45,2042.85 648.35,2046.03 650.25,2049.13 652.15,2052.12 654.05,2054.97 655.95,2057.69 657.85,2060.28 659.75,2062.77 661.65,2065.19 663.55,2067.56 665.45,2069.93 667.35,2072.3 669.25,2074.7 671.15,2077.12 673.05,2079.53 674.95,2081.9 676.85,2084.18 678.74,2086.32 680.64,2088.29 682.54,2090.08 684.44,2091.68 686.34,2093.11 688.24,2094.39 690.14,2095.57 692.04,2096.65 693.94,2097.66 695.84,2098.63 697.74,2099.56 699.64,2100.47 701.54,2101.35 703.44,2102.22 705.34,2103.05 707.24,2103.82 709.14,2104.51 711.04,2105.1 712.94,2105.57 714.84,2105.92 716.74,2106.17 718.64,2106.33 720.54,2106.43 722.44,2106.5 724.34,2106.56 726.24,2106.61 728.14,2106.67 730.04,2106.74 731.94,2106.85 733.84,2106.99 735.74,2107.16 737.64,2107.37 739.54,2107.6 741.44,2107.86 743.34,2108.12 745.23,2108.37 747.13,2108.61 749.03,2108.83 750.93,2109.03 752.83,2109.15 754.73,2109.15 756.63,2109.15 758.53,2109.15 760.43,2109.15 762.33,2109.15 764.23,2109.15 766.13,2109.15 768.03,2109.15 769.93,2109.15 771.83,2109.15 773.73,2109.15 775.63,2109.15 777.53,2109.15" fill="none" stroke="#55A868" stroke-width="2.5" stroke-linejoin="round"/>
<line x1="564.5" y1="1840.75" x2="581.25" y2="1840.75" stroke="#C44E52" stroke-width="2.5"/>
<text font-size="19.5" x="587" y="1851.25">3</text>
<line x1="570.5" y1="1870.75" x2="587" y2="1870.75" stroke="#8172B2" stroke-width="2.5"/>
<text font-size="19.5" x="592.5" y="1877">6</text>
<line x1="584.25" y1="1898.25" x2="600.75" y2="1898.25" stroke="#CCB974" stroke-width="2.5"/>
<text font-size="19.5" x="609.5" y="1909.25">8</text>
<line x1="597.5" y1="1926.75" x2="613.75" y2="1926.75" stroke="#4C72B0" stroke-width="2.5"/>
<text font-size="19.5" x="618.5" y="1936.75">10</text>
<line x1="610" y1="1958" x2="626.25" y2="1958" stroke="#55A868" stroke-width="2.5"/>
<text font-size="19.5" x="633.5" y="1969.5">14</text>
<text x="428.75" y="2161.25" font-size="26" textLength="71.25" lengthAdjust="spacingAndGlyphs">Alpha</text>
<text transform="translate(75.75,2284) rotate(-90)" font-size="27" textLength="228" lengthAdjust="spacingAndGlyphs">Probability density</text>
<rect x="138" y="2178.75" width="302" height="287" fill="none" stroke="#000" stroke-width="1.6"/>
<path d="M138 2253h7.5M138 2325.5h7.5M138 2394.5h7.5" fill="none" stroke="#000" stroke-width="1.5"/>
<text text-anchor="end" font-size="23.5" transform="translate(130.3,2261) scale(0.8,1)">0.15</text>
<text text-anchor="end" font-size="23.5" transform="translate(130.3,2333.5) scale(0.8,1)">0.10</text>
<text text-anchor="end" font-size="23.5" transform="translate(130.3,2402.5) scale(0.8,1)">0.05</text>
<text text-anchor="end" font-size="23.5" transform="translate(130.3,2469.5) scale(0.8,1)">0</text>
<path d="M148.25 2465.75v6.5M205.97 2465.75v6.5M278.12 2465.75v6.5M350.27 2465.75v6.5M422.42 2465.75v6.5" fill="none" stroke="#000" stroke-width="1.5"/>
<text text-anchor="middle" font-size="23.5" transform="translate(147.75,2493.75) scale(0.8,1)">1</text>
<text text-anchor="middle" font-size="23.5" transform="translate(205.47,2493.75) scale(0.8,1)">5</text>
<text text-anchor="middle" font-size="23.5" transform="translate(277.62,2493.75) scale(0.8,1)">10</text>
<text text-anchor="middle" font-size="23.5" transform="translate(349.77,2493.75) scale(0.8,1)">15</text>
<text text-anchor="middle" font-size="23.5" transform="translate(421.92,2493.75) scale(0.8,1)">20</text>
<text x="299.25" y="2209.5" font-size="26" textLength="117.5" lengthAdjust="spacingAndGlyphs">Prior on K</text>
<polyline points="148.25,2458.75 162.68,2458 177.11,2455 191.54,2448.25 205.97,2437.5 220.4,2423.75 234.83,2408.25 249.26,2392 263.69,2376.75 278.12,2364.25 292.55,2355.5 306.98,2351.25 321.41,2351.25 335.84,2354.5 350.27,2361.75 364.7,2371.25 379.13,2381.75 393.56,2393 407.99,2403.25 422.42,2413.25" fill="none" stroke="#55A868" stroke-width="1.9" stroke-dasharray="1.7 1.7"/>
<g fill="#55A868"><circle cx="148.25" cy="2458.75" r="2.9"/><circle cx="162.68" cy="2458" r="2.9"/><circle cx="177.11" cy="2455" r="2.9"/><circle cx="191.54" cy="2448.25" r="2.9"/><circle cx="205.97" cy="2437.5" r="2.9"/><circle cx="220.4" cy="2423.75" r="2.9"/><circle cx="234.83" cy="2408.25" r="2.9"/><circle cx="249.26" cy="2392" r="2.9"/><circle cx="263.69" cy="2376.75" r="2.9"/><circle cx="278.12" cy="2364.25" r="2.9"/><circle cx="292.55" cy="2355.5" r="2.9"/><circle cx="306.98" cy="2351.25" r="2.9"/><circle cx="321.41" cy="2351.25" r="2.9"/><circle cx="335.84" cy="2354.5" r="2.9"/><circle cx="350.27" cy="2361.75" r="2.9"/><circle cx="364.7" cy="2371.25" r="2.9"/><circle cx="379.13" cy="2381.75" r="2.9"/><circle cx="393.56" cy="2393" r="2.9"/><circle cx="407.99" cy="2403.25" r="2.9"/><circle cx="422.42" cy="2413.25" r="2.9"/></g>
<polyline points="148.25,2453.75 162.68,2441.75 177.11,2422.5 191.54,2398.75 205.97,2373.75 220.4,2352.5 234.83,2337 249.26,2329.25 263.69,2329.25 278.12,2335.75 292.55,2347 306.98,2361.25 321.41,2376.75 335.84,2391.75 350.27,2405.5 364.7,2417.5 379.13,2428 393.56,2436.25 407.99,2442.75 422.42,2447.5" fill="none" stroke="#4C72B0" stroke-width="1.9" stroke-dasharray="1.7 1.7"/>
<g fill="#4C72B0"><circle cx="148.25" cy="2453.75" r="2.9"/><circle cx="162.68" cy="2441.75" r="2.9"/><circle cx="177.11" cy="2422.5" r="2.9"/><circle cx="191.54" cy="2398.75" r="2.9"/><circle cx="205.97" cy="2373.75" r="2.9"/><circle cx="220.4" cy="2352.5" r="2.9"/><circle cx="234.83" cy="2337" r="2.9"/><circle cx="249.26" cy="2329.25" r="2.9"/><circle cx="263.69" cy="2329.25" r="2.9"/><circle cx="278.12" cy="2335.75" r="2.9"/><circle cx="292.55" cy="2347" r="2.9"/><circle cx="306.98" cy="2361.25" r="2.9"/><circle cx="321.41" cy="2376.75" r="2.9"/><circle cx="335.84" cy="2391.75" r="2.9"/><circle cx="350.27" cy="2405.5" r="2.9"/><circle cx="364.7" cy="2417.5" r="2.9"/><circle cx="379.13" cy="2428" r="2.9"/><circle cx="393.56" cy="2436.25" r="2.9"/><circle cx="407.99" cy="2442.75" r="2.9"/><circle cx="422.42" cy="2447.5" r="2.9"/></g>
<polyline points="148.25,2438.25 162.68,2410.75 177.11,2377.5 191.54,2346.25 205.97,2323.75 220.4,2312 234.83,2312 249.26,2321.25 263.69,2336.75 278.12,2355.5 292.55,2374.5 306.98,2392.5 321.41,2408.25 335.84,2421.75 350.27,2432 364.7,2440 379.13,2446.25 393.56,2450.75 407.99,2454 422.42,2456.25" fill="none" stroke="#CCB974" stroke-width="1.9" stroke-dasharray="1.7 1.7"/>
<g fill="#CCB974"><circle cx="148.25" cy="2438.25" r="2.9"/><circle cx="162.68" cy="2410.75" r="2.9"/><circle cx="177.11" cy="2377.5" r="2.9"/><circle cx="191.54" cy="2346.25" r="2.9"/><circle cx="205.97" cy="2323.75" r="2.9"/><circle cx="220.4" cy="2312" r="2.9"/><circle cx="234.83" cy="2312" r="2.9"/><circle cx="249.26" cy="2321.25" r="2.9"/><circle cx="263.69" cy="2336.75" r="2.9"/><circle cx="278.12" cy="2355.5" r="2.9"/><circle cx="292.55" cy="2374.5" r="2.9"/><circle cx="306.98" cy="2392.5" r="2.9"/><circle cx="321.41" cy="2408.25" r="2.9"/><circle cx="335.84" cy="2421.75" r="2.9"/><circle cx="350.27" cy="2432" r="2.9"/><circle cx="364.7" cy="2440" r="2.9"/><circle cx="379.13" cy="2446.25" r="2.9"/><circle cx="393.56" cy="2450.75" r="2.9"/><circle cx="407.99" cy="2454" r="2.9"/><circle cx="422.42" cy="2456.25" r="2.9"/></g>
<polyline points="148.25,2394.25 162.68,2344.5 177.11,2305 191.54,2285.75 205.97,2285.75 220.4,2300.75 234.83,2323.75 249.26,2349.25 263.69,2374.5 278.12,2395.75 292.55,2413.5 306.98,2427.25 321.41,2437.5 335.84,2445 350.27,2450.25 364.7,2453.75 379.13,2456.25 393.56,2457.5 407.99,2458.25 422.42,2458.75" fill="none" stroke="#8172B2" stroke-width="1.9" stroke-dasharray="1.7 1.7"/>
<g fill="#8172B2"><circle cx="148.25" cy="2394.25" r="2.9"/><circle cx="162.68" cy="2344.5" r="2.9"/><circle cx="177.11" cy="2305" r="2.9"/><circle cx="191.54" cy="2285.75" r="2.9"/><circle cx="205.97" cy="2285.75" r="2.9"/><circle cx="220.4" cy="2300.75" r="2.9"/><circle cx="234.83" cy="2323.75" r="2.9"/><circle cx="249.26" cy="2349.25" r="2.9"/><circle cx="263.69" cy="2374.5" r="2.9"/><circle cx="278.12" cy="2395.75" r="2.9"/><circle cx="292.55" cy="2413.5" r="2.9"/><circle cx="306.98" cy="2427.25" r="2.9"/><circle cx="321.41" cy="2437.5" r="2.9"/><circle cx="335.84" cy="2445" r="2.9"/><circle cx="350.27" cy="2450.25" r="2.9"/><circle cx="364.7" cy="2453.75" r="2.9"/><circle cx="379.13" cy="2456.25" r="2.9"/><circle cx="393.56" cy="2457.5" r="2.9"/><circle cx="407.99" cy="2458.25" r="2.9"/><circle cx="422.42" cy="2458.75" r="2.9"/></g>
<polyline points="148.25,2194.25 162.68,2194.25 177.11,2238.75 191.54,2295 205.97,2345 220.4,2383.25 234.83,2410.75 249.26,2430 263.69,2442 278.12,2450 292.55,2454.25 306.98,2456.75 321.41,2458 335.84,2458.5 350.27,2459 364.7,2459.25 379.13,2459.25 393.56,2459.5 407.99,2459.5 422.42,2459.5" fill="none" stroke="#C44E52" stroke-width="1.9" stroke-dasharray="1.7 1.7"/>
<g fill="#C44E52"><circle cx="148.25" cy="2194.25" r="2.9"/><circle cx="162.68" cy="2194.25" r="2.9"/><circle cx="177.11" cy="2238.75" r="2.9"/><circle cx="191.54" cy="2295" r="2.9"/><circle cx="205.97" cy="2345" r="2.9"/><circle cx="220.4" cy="2383.25" r="2.9"/><circle cx="234.83" cy="2410.75" r="2.9"/><circle cx="249.26" cy="2430" r="2.9"/><circle cx="263.69" cy="2442" r="2.9"/><circle cx="278.12" cy="2450" r="2.9"/><circle cx="292.55" cy="2454.25" r="2.9"/><circle cx="306.98" cy="2456.75" r="2.9"/><circle cx="321.41" cy="2458" r="2.9"/><circle cx="335.84" cy="2458.5" r="2.9"/><circle cx="350.27" cy="2459" r="2.9"/><circle cx="364.7" cy="2459.25" r="2.9"/><circle cx="379.13" cy="2459.25" r="2.9"/><circle cx="393.56" cy="2459.5" r="2.9"/><circle cx="407.99" cy="2459.5" r="2.9"/><circle cx="422.42" cy="2459.5" r="2.9"/></g>
<rect x="497.5" y="2178.75" width="302.5" height="287" fill="none" stroke="#000" stroke-width="1.6"/>
<path d="M497.5 2220h7.5M497.5 2303h7.5M497.5 2385.5h7.5" fill="none" stroke="#000" stroke-width="1.5"/>
<text text-anchor="end" font-size="23.5" transform="translate(491.3,2228) scale(0.8,1)">600</text>
<text text-anchor="end" font-size="23.5" transform="translate(491.3,2311) scale(0.8,1)">400</text>
<text text-anchor="end" font-size="23.5" transform="translate(491.3,2393.5) scale(0.8,1)">200</text>
<text text-anchor="end" font-size="23.5" transform="translate(491.3,2469.5) scale(0.8,1)">0</text>
<path d="M505.5 2465.75v6.5M563.18 2465.75v6.5M635.28 2465.75v6.5M707.38 2465.75v6.5M779.48 2465.75v6.5" fill="none" stroke="#000" stroke-width="1.5"/>
<text text-anchor="middle" font-size="23.5" transform="translate(505,2493.75) scale(0.8,1)">1</text>
<text text-anchor="middle" font-size="23.5" transform="translate(562.68,2493.75) scale(0.8,1)">5</text>
<text text-anchor="middle" font-size="23.5" transform="translate(634.78,2493.75) scale(0.8,1)">10</text>
<text text-anchor="middle" font-size="23.5" transform="translate(706.88,2493.75) scale(0.8,1)">15</text>
<text text-anchor="middle" font-size="23.5" transform="translate(778.98,2493.75) scale(0.8,1)">20</text>
<text x="620.5" y="2210" font-size="26" textLength="167.75" lengthAdjust="spacingAndGlyphs">Posterior on K</text>
<polyline points="505.5,2460.75 519.92,2460.75 534.34,2460.75 548.76,2460.75 563.18,2194.25 577.6,2325 592.02,2451.5 606.44,2460.75 620.86,2460.75 635.28,2460.75 649.7,2460.75 664.12,2460.75 678.54,2460.75 692.96,2460.75 707.38,2460.75 721.8,2460.75 736.22,2460.75 750.64,2460.75 765.06,2460.75 779.48,2460.75" fill="none" stroke="#C44E52" stroke-width="2.2" stroke-linejoin="round"/>
<g fill="#C44E52"><circle cx="563.18" cy="2194.25" r="2.6"/><circle cx="577.6" cy="2325" r="2.6"/><circle cx="592.02" cy="2451.5" r="2.6"/></g>
<polyline points="505.5,2460.75 519.92,2460.75 534.34,2460.75 548.76,2460.75 563.18,2236 577.6,2300 592.02,2449 606.44,2460.75 620.86,2460.75 635.28,2460.75 649.7,2460.75 664.12,2460.75 678.54,2460.75 692.96,2460.75 707.38,2460.75 721.8,2460.75 736.22,2460.75 750.64,2460.75 765.06,2460.75 779.48,2460.75" fill="none" stroke="#4C72B0" stroke-width="2.2" stroke-linejoin="round"/>
<g fill="#4C72B0"><circle cx="563.18" cy="2236" r="2.6"/><circle cx="577.6" cy="2300" r="2.6"/><circle cx="592.02" cy="2449" r="2.6"/></g>
<polyline points="505.5,2460.75 519.92,2460.75 534.34,2460.75 548.76,2460.75 563.18,2252.5 577.6,2286.25 592.02,2436.5 606.44,2460.75 620.86,2460.75 635.28,2460.75 649.7,2460.75 664.12,2460.75 678.54,2460.75 692.96,2460.75 707.38,2460.75 721.8,2460.75 736.22,2460.75 750.64,2460.75 765.06,2460.75 779.48,2460.75" fill="none" stroke="#55A868" stroke-width="2.2" stroke-linejoin="round"/>
<g fill="#55A868"><circle cx="563.18" cy="2252.5" r="2.6"/><circle cx="577.6" cy="2286.25" r="2.6"/><circle cx="592.02" cy="2436.5" r="2.6"/></g>
<polyline points="505.5,2460.75 519.92,2460.75 534.34,2460.75 548.76,2460.75 563.18,2207.5 577.6,2308 592.02,2450 606.44,2460.75 620.86,2460.75 635.28,2460.75 649.7,2460.75 664.12,2460.75 678.54,2460.75 692.96,2460.75 707.38,2460.75 721.8,2460.75 736.22,2460.75 750.64,2460.75 765.06,2460.75 779.48,2460.75" fill="none" stroke="#8172B2" stroke-width="2.2" stroke-linejoin="round"/>
<g fill="#8172B2"><circle cx="563.18" cy="2207.5" r="2.6"/><circle cx="577.6" cy="2308" r="2.6"/><circle cx="592.02" cy="2450" r="2.6"/></g>
<polyline points="505.5,2460.75 519.92,2460.75 534.34,2460.75 548.76,2460.75 563.18,2233.75 577.6,2292.5 592.02,2444.5 606.44,2460.75 620.86,2460.75 635.28,2460.75 649.7,2460.75 664.12,2460.75 678.54,2460.75 692.96,2460.75 707.38,2460.75 721.8,2460.75 736.22,2460.75 750.64,2460.75 765.06,2460.75 779.48,2460.75" fill="none" stroke="#CCB974" stroke-width="2.2" stroke-linejoin="round"/>
<g fill="#CCB974"><rect x="502.7" y="2458.15" width="5.6" height="5.2"/><rect x="517.12" y="2458.15" width="5.6" height="5.2"/><rect x="531.54" y="2458.15" width="5.6" height="5.2"/><rect x="545.96" y="2458.15" width="5.6" height="5.2"/><rect x="560.38" y="2231.15" width="5.6" height="5.2"/><rect x="574.8" y="2289.9" width="5.6" height="5.2"/><rect x="589.22" y="2441.9" width="5.6" height="5.2"/><rect x="603.64" y="2458.15" width="5.6" height="5.2"/><rect x="618.06" y="2458.15" width="5.6" height="5.2"/><rect x="632.48" y="2458.15" width="5.6" height="5.2"/><rect x="646.9" y="2458.15" width="5.6" height="5.2"/><rect x="661.32" y="2458.15" width="5.6" height="5.2"/><rect x="675.74" y="2458.15" width="5.6" height="5.2"/><rect x="690.16" y="2458.15" width="5.6" height="5.2"/><rect x="704.58" y="2458.15" width="5.6" height="5.2"/><rect x="719" y="2458.15" width="5.6" height="5.2"/><rect x="733.42" y="2458.15" width="5.6" height="5.2"/><rect x="747.84" y="2458.15" width="5.6" height="5.2"/><rect x="762.26" y="2458.15" width="5.6" height="5.2"/><rect x="776.68" y="2458.15" width="5.6" height="5.2"/></g>
<text x="371.25" y="2517.5" font-size="26" textLength="178.75" lengthAdjust="spacingAndGlyphs">No. of clusters</text>
</g>
<g id="panel-f">
<text font-size="37.5" x="927" y="1894.5" font-weight="bold">f</text>
<text x="1191.75" y="1887.5" font-size="25" textLength="311.25" lengthAdjust="spacingAndGlyphs">Illustration of Pigeonhole Principle</text>
<polyline points="1202,2091.4 1203.87,2091.4 1205.75,2091.4 1207.62,2091.4 1209.5,2091.4 1211.37,2091.4 1213.25,2091.4 1215.12,2091.39 1216.99,2091.36 1218.87,2091.3 1220.74,2091.21 1222.62,2091.1 1224.49,2090.95 1226.36,2090.58 1228.24,2089.98 1230.11,2089.22 1231.99,2088.41 1233.86,2087.46 1235.74,2086.31 1237.61,2084.97 1239.48,2083.5 1241.36,2081.95 1243.23,2080.3 1245.11,2078.46 1246.98,2076.45 1248.86,2074.29 1250.73,2072 1252.6,2069.62 1254.48,2067.06 1256.35,2064.3 1258.23,2061.35 1260.1,2058.23 1261.97,2054.9 1263.85,2051.34 1265.72,2047.59 1267.6,2043.66 1269.47,2039.57 1271.35,2035.31 1273.22,2030.75 1275.09,2025.98 1276.97,2021.1 1278.84,2016.17 1280.72,2011.08 1282.59,2005.88 1284.47,2000.65 1286.34,1995.46 1288.21,1990.19 1290.09,1984.88 1291.96,1979.69 1293.84,1974.81 1295.71,1970.21 1297.58,1965.77 1299.46,1961.56 1301.33,1957.69 1303.21,1954.13 1305.08,1950.73 1306.96,1947.59 1308.83,1944.85 1310.7,1942.6 1312.58,1940.58 1314.45,1938.78 1316.33,1937.32 1318.2,1936.31 1320.08,1935.54 1321.95,1934.89 1323.82,1934.48 1325.7,1934.42 1327.57,1934.68 1329.45,1935.15 1331.32,1935.76 1333.19,1936.53 1335.07,1937.76 1336.94,1939.35 1338.82,1941.18 1340.69,1943.16 1342.57,1945.59 1344.44,1948.42 1346.31,1951.52 1348.19,1954.73 1350.06,1958.15 1351.94,1961.87 1353.81,1965.76 1355.69,1969.73 1357.56,1973.75 1359.43,1977.88 1361.31,1982.12 1363.18,1986.47 1365.06,1990.95 1366.93,1995.66 1368.81,2000.46 1370.68,2005.2 1372.55,2009.7 1374.43,2014.03 1376.3,2018.26 1378.18,2022.4 1380.05,2026.51 1381.92,2030.6 1383.8,2034.66 1385.67,2038.64 1387.55,2042.49 1389.42,2046.23 1391.3,2049.92 1393.17,2053.48 1395.04,2056.81 1396.92,2059.87 1398.79,2062.79 1400.67,2065.57 1402.54,2068.17 1404.42,2070.57 1406.29,2072.72 1408.16,2074.7 1410.04,2076.56 1411.91,2078.28 1413.79,2079.83 1415.66,2081.18 1417.53,2082.35 1419.41,2083.41 1421.28,2084.37 1423.16,2085.24 1425.03,2086.02 1426.91,2086.74 1428.78,2087.43 1430.65,2088.08 1432.53,2088.68 1434.4,2089.21 1436.28,2089.66 1438.15,2090.03 1440.03,2090.34 1441.9,2090.63 1443.77,2090.89 1445.65,2091.08 1447.52,2091.19 1449.4,2091.23 1451.27,2091.26 1453.14,2091.28 1455.02,2091.31 1456.89,2091.33 1458.77,2091.35 1460.64,2091.37 1462.52,2091.38 1464.39,2091.39 1466.26,2091.39 1468.14,2091.4 1470.01,2091.4 1471.89,2091.4 1473.76,2091.4 1475.64,2091.4 1477.51,2091.4 1479.38,2091.4 1481.26,2091.4 1483.13,2091.4 1485.01,2091.4 1486.88,2091.4 1488.75,2091.4 1490.63,2091.4 1492.5,2091.4 1494.38,2091.4 1496.25,2091.4 1498.13,2091.4 1500,2091.4" fill="none" stroke="#707070" stroke-width="2.2" stroke-dasharray="4.4 2.1"/>
<polyline points="1202,2091.4 1203.87,2091.4 1205.75,2091.4 1207.62,2091.4 1209.5,2091.4 1211.37,2091.4 1213.25,2091.4 1215.12,2091.4 1216.99,2091.4 1218.87,2091.4 1220.74,2091.4 1222.62,2091.4 1224.49,2091.4 1226.36,2091.4 1228.24,2091.4 1230.11,2091.4 1231.99,2091.4 1233.86,2091.4 1235.74,2091.4 1237.61,2091.4 1239.48,2091.4 1241.36,2091.4 1243.23,2091.4 1245.11,2091.4 1246.98,2091.4 1248.86,2091.4 1250.73,2091.4 1252.6,2091.4 1254.48,2091.4 1256.35,2091.4 1258.23,2091.39 1260.1,2091.36 1261.97,2091.32 1263.85,2091.26 1265.72,2091.19 1267.6,2091.11 1269.47,2091.03 1271.35,2090.91 1273.22,2090.7 1275.09,2090.41 1276.97,2090.06 1278.84,2089.66 1280.72,2089.22 1282.59,2088.65 1284.47,2087.94 1286.34,2087.13 1288.21,2086.26 1290.09,2085.36 1291.96,2084.41 1293.84,2083.38 1295.71,2082.27 1297.58,2081.07 1299.46,2079.79 1301.33,2078.42 1303.21,2076.96 1305.08,2075.37 1306.96,2073.63 1308.83,2071.7 1310.7,2069.56 1312.58,2067.04 1314.45,2064.17 1316.33,2061.03 1318.2,2057.7 1320.08,2054.26 1321.95,2050.58 1323.82,2046.58 1325.7,2042.36 1327.57,2038.03 1329.45,2033.67 1331.32,2029.33 1333.19,2024.89 1335.07,2020.36 1336.94,2015.8 1338.82,2011.25 1340.69,2006.74 1342.57,2002.24 1344.44,1997.74 1346.31,1993.25 1348.19,1988.75 1350.06,1984.25 1351.94,1979.68 1353.81,1975.06 1355.69,1970.45 1357.56,1965.95 1359.43,1961.65 1361.31,1957.55 1363.18,1953.52 1365.06,1949.62 1366.93,1945.9 1368.81,1942.44 1370.68,1939.29 1372.55,1936.33 1374.43,1933.53 1376.3,1930.91 1378.18,1928.51 1380.05,1926.34 1381.92,1924.27 1383.8,1922.31 1385.67,1920.73 1387.55,1919.78 1389.42,1919.08 1391.3,1918.57 1393.17,1918.4 1395.04,1918.75 1396.92,1919.54 1398.79,1920.63 1400.67,1921.89 1402.54,1923.81 1404.42,1926.39 1406.29,1929.42 1408.16,1932.69 1410.04,1936.55 1411.91,1941.12 1413.79,1946.17 1415.66,1951.44 1417.53,1956.93 1419.41,1962.9 1421.28,1969.17 1423.16,1975.55 1425.03,1981.92 1426.91,1988.5 1428.78,1995.18 1430.65,2001.79 1432.53,2008.18 1434.4,2014.42 1436.28,2020.55 1438.15,2026.57 1440.03,2032.48 1441.9,2038.38 1443.77,2044.25 1445.65,2049.9 1447.52,2055.15 1449.4,2059.98 1451.27,2064.63 1453.14,2068.95 1455.02,2072.71 1456.89,2075.8 1458.77,2078.54 1460.64,2080.97 1462.52,2083.04 1464.39,2084.72 1466.26,2086.19 1468.14,2087.49 1470.01,2088.57 1471.89,2089.36 1473.76,2089.97 1475.64,2090.5 1477.51,2090.92 1479.38,2091.16 1481.26,2091.25 1483.13,2091.3 1485.01,2091.35 1486.88,2091.38 1488.75,2091.4 1490.63,2091.4 1492.5,2091.4 1494.38,2091.4 1496.25,2091.4 1498.13,2091.4 1500,2091.4" fill="none" stroke="#707070" stroke-width="2.2" stroke-dasharray="1.7 1.6"/>
<rect x="1200" y="1902" width="302" height="189.75" fill="none" stroke="#000" stroke-width="1.6"/>
<path d="M1200 1933h7M1200 1986.5h7M1200 2040h7" fill="none" stroke="#000" stroke-width="1.5"/>
<text text-anchor="end" font-size="23.5" transform="translate(1191.5,1941) scale(0.8,1)">0.03</text>
<text text-anchor="end" font-size="23.5" transform="translate(1191.5,1994.5) scale(0.8,1)">0.02</text>
<text text-anchor="end" font-size="23.5" transform="translate(1191.5,2048) scale(0.8,1)">0.01</text>
<text text-anchor="end" font-size="23.5" transform="translate(1191.5,2100.5) scale(0.8,1)">0</text>
<path d="M1200.5 2091.75v6M1260.15 2091.75v6M1319.8 2091.75v6M1379.45 2091.75v6M1439.1 2091.75v6M1498.75 2091.75v6" fill="none" stroke="#000" stroke-width="1.5"/>
<text text-anchor="middle" font-size="23.5" transform="translate(1201.7,2119.25) scale(0.8,1)">0</text>
<text text-anchor="middle" font-size="23.5" transform="translate(1261.35,2119.25) scale(0.8,1)">0.2</text>
<text text-anchor="middle" font-size="23.5" transform="translate(1321,2119.25) scale(0.8,1)">0.4</text>
<text text-anchor="middle" font-size="23.5" transform="translate(1380.65,2119.25) scale(0.8,1)">0.6</text>
<text text-anchor="middle" font-size="23.5" transform="translate(1440.3,2119.25) scale(0.8,1)">0.8</text>
<text text-anchor="middle" font-size="23.5" transform="translate(1499.95,2119.25) scale(0.8,1)">1.0</text>
<text x="1330.75" y="2150" font-size="26" textLength="56" lengthAdjust="spacingAndGlyphs">CCF</text>
<text x="1298.25" y="1926.25" font-size="21.5" textLength="47.25" lengthAdjust="spacingAndGlyphs">Cl. B</text>
<text x="1412.5" y="1926.25" font-size="21.5" textLength="46.25" lengthAdjust="spacingAndGlyphs">Cl. A</text>
<text transform="translate(1135,2115) rotate(-90)" font-size="27" textLength="226.25" lengthAdjust="spacingAndGlyphs">Probability density</text>
<text x="1050" y="2193" font-size="24" textLength="214.25" lengthAdjust="spacingAndGlyphs">CCF of potential parent</text>
<text x="1078.25" y="2218" font-size="24" textLength="156.75" lengthAdjust="spacingAndGlyphs">of Cl. A and Cl. B</text>
<polygon points="1007.5,2420.1 1009.01,2420.1 1010.52,2420.1 1012.02,2420.1 1013.53,2420.1 1015.04,2420.1 1016.55,2420.1 1018.05,2420.1 1019.56,2420.1 1021.07,2420.1 1022.58,2420.1 1024.08,2420.1 1025.59,2420.1 1027.1,2420.1 1028.61,2420.1 1030.11,2420.1 1031.62,2420.1 1033.13,2420.1 1034.64,2420.1 1036.14,2420.1 1037.65,2420.1 1039.16,2420.1 1040.67,2420.1 1042.17,2420.1 1043.68,2420.1 1045.19,2420.1 1046.7,2420.1 1048.2,2420.1 1049.71,2420.1 1051.22,2420.1 1052.73,2420.1 1054.23,2420.09 1055.74,2420.09 1057.25,2420.08 1058.76,2420.07 1060.26,2420.06 1061.77,2420.05 1063.28,2420.04 1064.79,2420.02 1066.29,2420 1067.8,2419.98 1069.31,2419.96 1070.82,2419.93 1072.32,2419.9 1073.83,2419.87 1075.34,2419.84 1076.85,2419.74 1078.35,2419.55 1079.86,2419.3 1081.37,2418.99 1082.88,2418.64 1084.38,2418.26 1085.89,2417.85 1087.4,2417.32 1088.91,2416.67 1090.41,2415.93 1091.92,2415.08 1093.43,2414.15 1094.94,2413.14 1096.44,2411.98 1097.95,2410.59 1099.46,2408.99 1100.97,2407.22 1102.47,2405.3 1103.98,2403.27 1105.49,2401.14 1107,2398.78 1108.51,2396.14 1110.01,2393.27 1111.52,2390.19 1113.03,2386.94 1114.54,2383.41 1116.04,2379.59 1117.55,2375.46 1119.06,2371.03 1120.57,2366.24 1122.07,2360.79 1123.58,2354.77 1125.09,2348.46 1126.6,2342.08 1128.1,2335.89 1129.61,2330.04 1131.12,2324.27 1132.63,2318.55 1134.13,2312.9 1135.64,2307.34 1137.15,2301.86 1138.66,2296.39 1140.16,2290.77 1141.67,2285.19 1143.18,2279.86 1144.69,2274.98 1146.19,2270.74 1147.7,2267.02 1149.21,2263.53 1150.72,2260.32 1152.22,2257.42 1153.73,2254.9 1155.24,2252.79 1156.35,2251.4 1156.35,2420.5 1007.5,2420.5" fill="#FFA400"/>
<polygon points="1156.35,2251.4 1156.75,2250.91 1158.25,2249.31 1159.76,2248.21 1161.27,2247.58 1162.78,2247.08 1164.28,2246.85 1165.79,2246.98 1167.3,2247.41 1168.81,2248.02 1170.31,2248.99 1171.82,2250.59 1173.33,2252.54 1174.84,2254.66 1176.34,2257.15 1177.85,2260 1179.36,2263.16 1180.87,2266.6 1182.37,2270.28 1183.88,2274.43 1185.39,2279.24 1186.9,2284.53 1188.4,2290.09 1189.91,2295.71 1191.42,2301.21 1192.93,2306.67 1194.43,2312.23 1195.94,2317.87 1197.45,2323.58 1198.96,2329.34 1200.46,2335.17 1201.97,2341.32 1203.48,2347.69 1204.99,2354.02 1206.49,2360.08 1208,2365.62 1209.51,2370.47 1211.02,2374.94 1212.53,2379.11 1214.03,2382.96 1215.54,2386.53 1217.05,2389.81 1218.56,2392.91 1220.06,2395.81 1221.57,2398.47 1223.08,2400.87 1224.59,2403.02 1226.09,2405.06 1227.6,2406.99 1229.11,2408.78 1230.62,2410.41 1232.12,2411.83 1233.63,2413.02 1235.14,2414.04 1236.65,2414.98 1238.15,2415.85 1239.66,2416.62 1241.17,2417.27 1242.68,2417.81 1244.18,2418.2 1245.69,2418.55 1247.2,2418.87 1248.71,2419.16 1250.21,2419.41 1251.72,2419.61 1253.23,2419.76 1254.74,2419.84 1256.24,2419.88 1257.75,2419.91 1259.26,2419.95 1260.77,2419.97 1262.27,2420 1263.78,2420.02 1265.29,2420.04 1266.8,2420.06 1268.3,2420.07 1269.81,2420.08 1271.32,2420.09 1272.83,2420.1 1274.33,2420.1 1275.84,2420.1 1277.35,2420.1 1278.86,2420.1 1280.36,2420.1 1281.87,2420.1 1283.38,2420.1 1284.89,2420.1 1286.39,2420.1 1287.9,2420.1 1289.41,2420.1 1290.92,2420.1 1292.42,2420.1 1293.93,2420.1 1295.44,2420.1 1296.95,2420.1 1298.45,2420.1 1299.96,2420.1 1301.47,2420.1 1302.98,2420.1 1304.48,2420.1 1305.99,2420.1 1307.5,2420.1 1307.5,2420.5 1156.35,2420.5" fill="#FDD088"/>
<polyline points="1007.5,2420.1 1009.01,2420.1 1010.52,2420.1 1012.02,2420.1 1013.53,2420.1 1015.04,2420.1 1016.55,2420.1 1018.05,2420.1 1019.56,2420.1 1021.07,2420.1 1022.58,2420.1 1024.08,2420.1 1025.59,2420.1 1027.1,2420.1 1028.61,2420.1 1030.11,2420.1 1031.62,2420.1 1033.13,2420.1 1034.64,2420.1 1036.14,2420.1 1037.65,2420.1 1039.16,2420.1 1040.67,2420.1 1042.17,2420.1 1043.68,2420.1 1045.19,2420.1 1046.7,2420.1 1048.2,2420.1 1049.71,2420.1 1051.22,2420.1 1052.73,2420.1 1054.23,2420.09 1055.74,2420.09 1057.25,2420.08 1058.76,2420.07 1060.26,2420.06 1061.77,2420.05 1063.28,2420.04 1064.79,2420.02 1066.29,2420 1067.8,2419.98 1069.31,2419.96 1070.82,2419.93 1072.32,2419.9 1073.83,2419.87 1075.34,2419.84 1076.85,2419.74 1078.35,2419.55 1079.86,2419.3 1081.37,2418.99 1082.88,2418.64 1084.38,2418.26 1085.89,2417.85 1087.4,2417.32 1088.91,2416.67 1090.41,2415.93 1091.92,2415.08 1093.43,2414.15 1094.94,2413.14 1096.44,2411.98 1097.95,2410.59 1099.46,2408.99 1100.97,2407.22 1102.47,2405.3 1103.98,2403.27 1105.49,2401.14 1107,2398.78 1108.51,2396.14 1110.01,2393.27 1111.52,2390.19 1113.03,2386.94 1114.54,2383.41 1116.04,2379.59 1117.55,2375.46 1119.06,2371.03 1120.57,2366.24 1122.07,2360.79 1123.58,2354.77 1125.09,2348.46 1126.6,2342.08 1128.1,2335.89 1129.61,2330.04 1131.12,2324.27 1132.63,2318.55 1134.13,2312.9 1135.64,2307.34 1137.15,2301.86 1138.66,2296.39 1140.16,2290.77 1141.67,2285.19 1143.18,2279.86 1144.69,2274.98 1146.19,2270.74 1147.7,2267.02 1149.21,2263.53 1150.72,2260.32 1152.22,2257.42 1153.73,2254.9 1155.24,2252.79 1156.75,2250.91 1158.25,2249.31 1159.76,2248.21 1161.27,2247.58 1162.78,2247.08 1164.28,2246.85 1165.79,2246.98 1167.3,2247.41 1168.81,2248.02 1170.31,2248.99 1171.82,2250.59 1173.33,2252.54 1174.84,2254.66 1176.34,2257.15 1177.85,2260 1179.36,2263.16 1180.87,2266.6 1182.37,2270.28 1183.88,2274.43 1185.39,2279.24 1186.9,2284.53 1188.4,2290.09 1189.91,2295.71 1191.42,2301.21 1192.93,2306.67 1194.43,2312.23 1195.94,2317.87 1197.45,2323.58 1198.96,2329.34 1200.46,2335.17 1201.97,2341.32 1203.48,2347.69 1204.99,2354.02 1206.49,2360.08 1208,2365.62 1209.51,2370.47 1211.02,2374.94 1212.53,2379.11 1214.03,2382.96 1215.54,2386.53 1217.05,2389.81 1218.56,2392.91 1220.06,2395.81 1221.57,2398.47 1223.08,2400.87 1224.59,2403.02 1226.09,2405.06 1227.6,2406.99 1229.11,2408.78 1230.62,2410.41 1232.12,2411.83 1233.63,2413.02 1235.14,2414.04 1236.65,2414.98 1238.15,2415.85 1239.66,2416.62 1241.17,2417.27 1242.68,2417.81 1244.18,2418.2 1245.69,2418.55 1247.2,2418.87 1248.71,2419.16 1250.21,2419.41 1251.72,2419.61 1253.23,2419.76 1254.74,2419.84 1256.24,2419.88 1257.75,2419.91 1259.26,2419.95 1260.77,2419.97 1262.27,2420 1263.78,2420.02 1265.29,2420.04 1266.8,2420.06 1268.3,2420.07 1269.81,2420.08 1271.32,2420.09 1272.83,2420.1 1274.33,2420.1 1275.84,2420.1 1277.35,2420.1 1278.86,2420.1 1280.36,2420.1 1281.87,2420.1 1283.38,2420.1 1284.89,2420.1 1286.39,2420.1 1287.9,2420.1 1289.41,2420.1 1290.92,2420.1 1292.42,2420.1 1293.93,2420.1 1295.44,2420.1 1296.95,2420.1 1298.45,2420.1 1299.96,2420.1 1301.47,2420.1 1302.98,2420.1 1304.48,2420.1 1305.99,2420.1 1307.5,2420.1" fill="none" stroke="#F4A21C" stroke-width="2"/>
<rect x="1005.75" y="2229.25" width="302.25" height="191.25" fill="none" stroke="#000" stroke-width="1.6"/>
<path d="M1005.75 2267.75h7M1005.75 2306.5h7M1005.75 2344.25h7M1005.75 2382.75h7" fill="none" stroke="#000" stroke-width="1.5"/>
<text text-anchor="end" font-size="23.5" transform="translate(998.8,2275.75) scale(0.8,1)">0.02</text>
<text text-anchor="end" font-size="23.5" transform="translate(998.8,2352.25) scale(0.8,1)">0.01</text>
<text text-anchor="end" font-size="23.5" transform="translate(998.8,2425.5) scale(0.8,1)">0</text>
<path d="M1006.25 2420.5v6M1081.3 2420.5v6M1156.35 2420.5v6M1231.4 2420.5v6M1306.45 2420.5v6" fill="none" stroke="#000" stroke-width="1.5"/>
<text text-anchor="middle" font-size="23.5" transform="translate(1006.75,2447.75) scale(0.8,1)">0</text>
<text text-anchor="middle" font-size="23.5" transform="translate(1078.3,2447.75) scale(0.8,1)">0.5</text>
<text text-anchor="middle" font-size="23.5" transform="translate(1157.55,2447.75) scale(0.8,1)">1.0</text>
<text text-anchor="middle" font-size="23.5" transform="translate(1228.9,2447.75) scale(0.8,1)">1.5</text>
<text text-anchor="middle" font-size="23.5" transform="translate(1306.45,2447.75) scale(0.8,1)">2.0</text>
<text text-anchor="middle" font-size="21" transform="translate(1130.5,2401.75) scale(0.85,1)">1</text>
<text text-anchor="middle" font-size="21" transform="translate(1182.5,2401.75) scale(0.85,1)">2</text>
<text x="1135" y="2481" font-size="26" textLength="55" lengthAdjust="spacingAndGlyphs">CCF</text>
<text transform="translate(951.75,2444) rotate(-90)" font-size="27" textLength="226.5" lengthAdjust="spacingAndGlyphs">Probability density</text>
<text x="1467" y="2192.5" font-size="24" textLength="163.5" lengthAdjust="spacingAndGlyphs">Difference in CCF</text>
<text x="1470" y="2217.5" font-size="24" textLength="157" lengthAdjust="spacingAndGlyphs">of Cl. A and Cl. B</text>
<polygon points="1552.25,2330.31 1552.75,2328.54 1554.25,2323.03 1555.76,2317.47 1557.27,2311.93 1558.78,2306.51 1560.28,2301.26 1561.79,2296.08 1563.3,2290.97 1564.81,2285.96 1566.31,2281.09 1567.82,2276.39 1569.33,2271.85 1570.84,2267.27 1572.34,2262.8 1573.85,2258.68 1575.36,2255.13 1576.87,2252.24 1578.37,2249.71 1579.88,2247.94 1581.39,2246.85 1582.9,2246.06 1584.4,2245.88 1585.91,2246.43 1587.42,2247.42 1588.93,2248.77 1590.43,2251.01 1591.94,2253.77 1593.45,2256.85 1594.96,2260.55 1596.46,2264.69 1597.97,2269.08 1599.48,2273.55 1600.99,2278.06 1602.49,2282.76 1604,2287.64 1605.51,2292.69 1607.02,2297.88 1608.53,2303.19 1610.03,2308.81 1611.54,2314.76 1613.05,2320.82 1614.56,2326.75 1616.06,2332.32 1617.57,2337.59 1619.08,2342.73 1620.59,2347.71 1622.09,2352.53 1623.6,2357.18 1625.11,2361.64 1626.62,2365.98 1628.12,2370.17 1629.63,2374.18 1631.14,2377.97 1632.65,2381.5 1634.15,2384.86 1635.66,2388.07 1637.17,2391.12 1638.68,2394 1640.18,2396.71 1641.69,2399.25 1643.2,2401.76 1644.71,2404.19 1646.21,2406.44 1647.72,2408.45 1649.23,2410.12 1650.74,2411.45 1652.24,2412.7 1653.75,2413.85 1655.26,2414.87 1656.77,2415.73 1658.27,2416.41 1659.78,2416.86 1661.29,2417.18 1662.8,2417.46 1664.3,2417.71 1665.81,2417.93 1667.32,2418.1 1668.83,2418.24 1670.33,2418.32 1671.84,2418.38 1673.35,2418.42 1674.86,2418.46 1676.36,2418.49 1677.87,2418.52 1679.38,2418.55 1680.89,2418.57 1682.39,2418.58 1683.9,2418.59 1685.41,2418.6 1686.92,2418.6 1688.42,2418.6 1689.93,2418.6 1691.44,2418.6 1692.95,2418.6 1694.45,2418.6 1695.96,2418.6 1697.47,2418.6 1698.98,2418.6 1700.48,2418.6 1701.99,2418.6 1703.5,2418.6 1703.5,2419 1552.25,2419" fill="#D5E8F3"/>
<polygon points="1403.5,2418.6 1405.01,2418.6 1406.52,2418.6 1408.02,2418.6 1409.53,2418.6 1411.04,2418.6 1412.55,2418.6 1414.05,2418.6 1415.56,2418.6 1417.07,2418.6 1418.58,2418.6 1420.08,2418.6 1421.59,2418.6 1423.1,2418.6 1424.61,2418.6 1426.11,2418.6 1427.62,2418.6 1429.13,2418.6 1430.64,2418.6 1432.14,2418.6 1433.65,2418.6 1435.16,2418.6 1436.67,2418.6 1438.17,2418.6 1439.68,2418.6 1441.19,2418.6 1442.7,2418.6 1444.2,2418.6 1445.71,2418.6 1447.22,2418.6 1448.73,2418.6 1450.23,2418.6 1451.74,2418.6 1453.25,2418.6 1454.76,2418.6 1456.26,2418.6 1457.77,2418.6 1459.28,2418.6 1460.79,2418.6 1462.29,2418.6 1463.8,2418.6 1465.31,2418.6 1466.82,2418.6 1468.32,2418.6 1469.83,2418.6 1471.34,2418.6 1472.85,2418.59 1474.35,2418.58 1475.86,2418.57 1477.37,2418.55 1478.88,2418.54 1480.38,2418.51 1481.89,2418.49 1483.4,2418.46 1484.91,2418.43 1486.41,2418.4 1487.92,2418.36 1489.43,2418.32 1490.94,2418.28 1492.44,2418.23 1493.95,2418.18 1495.46,2418.12 1496.97,2418.03 1498.47,2417.83 1499.98,2417.51 1501.49,2417.11 1503,2416.64 1504.51,2416.13 1506.01,2415.6 1507.52,2414.98 1509.03,2414.22 1510.54,2413.33 1512.04,2412.33 1513.55,2411.25 1515.06,2410.1 1516.57,2408.88 1518.07,2407.52 1519.58,2406 1521.09,2404.33 1522.6,2402.54 1524.1,2400.63 1525.61,2398.63 1527.12,2396.52 1528.63,2394.24 1530.13,2391.79 1531.64,2389.17 1533.15,2386.37 1534.66,2383.4 1536.16,2380.25 1537.67,2376.78 1539.18,2372.95 1540.69,2368.83 1542.19,2364.48 1543.7,2359.99 1545.21,2355.21 1546.72,2350.09 1548.22,2344.77 1549.73,2339.34 1551.24,2333.92 1552.25,2330.31 1552.25,2419 1403.5,2419" fill="#4C72B0"/>
<polyline points="1403.5,2418.6 1405.01,2418.6 1406.52,2418.6 1408.02,2418.6 1409.53,2418.6 1411.04,2418.6 1412.55,2418.6 1414.05,2418.6 1415.56,2418.6 1417.07,2418.6 1418.58,2418.6 1420.08,2418.6 1421.59,2418.6 1423.1,2418.6 1424.61,2418.6 1426.11,2418.6 1427.62,2418.6 1429.13,2418.6 1430.64,2418.6 1432.14,2418.6 1433.65,2418.6 1435.16,2418.6 1436.67,2418.6 1438.17,2418.6 1439.68,2418.6 1441.19,2418.6 1442.7,2418.6 1444.2,2418.6 1445.71,2418.6 1447.22,2418.6 1448.73,2418.6 1450.23,2418.6 1451.74,2418.6 1453.25,2418.6 1454.76,2418.6 1456.26,2418.6 1457.77,2418.6 1459.28,2418.6 1460.79,2418.6 1462.29,2418.6 1463.8,2418.6 1465.31,2418.6 1466.82,2418.6 1468.32,2418.6 1469.83,2418.6 1471.34,2418.6 1472.85,2418.59 1474.35,2418.58 1475.86,2418.57 1477.37,2418.55 1478.88,2418.54 1480.38,2418.51 1481.89,2418.49 1483.4,2418.46 1484.91,2418.43 1486.41,2418.4 1487.92,2418.36 1489.43,2418.32 1490.94,2418.28 1492.44,2418.23 1493.95,2418.18 1495.46,2418.12 1496.97,2418.03 1498.47,2417.83 1499.98,2417.51 1501.49,2417.11 1503,2416.64 1504.51,2416.13 1506.01,2415.6 1507.52,2414.98 1509.03,2414.22 1510.54,2413.33 1512.04,2412.33 1513.55,2411.25 1515.06,2410.1 1516.57,2408.88 1518.07,2407.52 1519.58,2406 1521.09,2404.33 1522.6,2402.54 1524.1,2400.63 1525.61,2398.63 1527.12,2396.52 1528.63,2394.24 1530.13,2391.79 1531.64,2389.17 1533.15,2386.37 1534.66,2383.4 1536.16,2380.25 1537.67,2376.78 1539.18,2372.95 1540.69,2368.83 1542.19,2364.48 1543.7,2359.99 1545.21,2355.21 1546.72,2350.09 1548.22,2344.77 1549.73,2339.34 1551.24,2333.92 1552.75,2328.54 1554.25,2323.03 1555.76,2317.47 1557.27,2311.93 1558.78,2306.51 1560.28,2301.26 1561.79,2296.08 1563.3,2290.97 1564.81,2285.96 1566.31,2281.09 1567.82,2276.39 1569.33,2271.85 1570.84,2267.27 1572.34,2262.8 1573.85,2258.68 1575.36,2255.13 1576.87,2252.24 1578.37,2249.71 1579.88,2247.94 1581.39,2246.85 1582.9,2246.06 1584.4,2245.88 1585.91,2246.43 1587.42,2247.42 1588.93,2248.77 1590.43,2251.01 1591.94,2253.77 1593.45,2256.85 1594.96,2260.55 1596.46,2264.69 1597.97,2269.08 1599.48,2273.55 1600.99,2278.06 1602.49,2282.76 1604,2287.64 1605.51,2292.69 1607.02,2297.88 1608.53,2303.19 1610.03,2308.81 1611.54,2314.76 1613.05,2320.82 1614.56,2326.75 1616.06,2332.32 1617.57,2337.59 1619.08,2342.73 1620.59,2347.71 1622.09,2352.53 1623.6,2357.18 1625.11,2361.64 1626.62,2365.98 1628.12,2370.17 1629.63,2374.18 1631.14,2377.97 1632.65,2381.5 1634.15,2384.86 1635.66,2388.07 1637.17,2391.12 1638.68,2394 1640.18,2396.71 1641.69,2399.25 1643.2,2401.76 1644.71,2404.19 1646.21,2406.44 1647.72,2408.45 1649.23,2410.12 1650.74,2411.45 1652.24,2412.7 1653.75,2413.85 1655.26,2414.87 1656.77,2415.73 1658.27,2416.41 1659.78,2416.86 1661.29,2417.18 1662.8,2417.46 1664.3,2417.71 1665.81,2417.93 1667.32,2418.1 1668.83,2418.24 1670.33,2418.32 1671.84,2418.38 1673.35,2418.42 1674.86,2418.46 1676.36,2418.49 1677.87,2418.52 1679.38,2418.55 1680.89,2418.57 1682.39,2418.58 1683.9,2418.59 1685.41,2418.6 1686.92,2418.6 1688.42,2418.6 1689.93,2418.6 1691.44,2418.6 1692.95,2418.6 1694.45,2418.6 1695.96,2418.6 1697.47,2418.6 1698.98,2418.6 1700.48,2418.6 1701.99,2418.6 1703.5,2418.6" fill="none" stroke="#4568A8" stroke-width="2"/>
<rect x="1402.25" y="2229.75" width="301.75" height="189.25" fill="none" stroke="#000" stroke-width="1.6"/>
<path d="M1402.25 2266h7M1402.25 2303.75h7M1402.25 2342.25h7M1402.25 2380.4h7" fill="none" stroke="#000" stroke-width="1.5"/>
<text text-anchor="end" font-size="23.5" transform="translate(1394.5,2274) scale(0.8,1)">0.02</text>
<text text-anchor="end" font-size="23.5" transform="translate(1394.5,2350.25) scale(0.8,1)">0.01</text>
<text text-anchor="end" font-size="23.5" transform="translate(1394.5,2423.5) scale(0.8,1)">0</text>
<path d="M1401.65 2419v6M1476.95 2419v6M1552.25 2419v6M1627.55 2419v6M1702.85 2419v6" fill="none" stroke="#000" stroke-width="1.5"/>
<text text-anchor="middle" font-size="23.5" transform="translate(1401.15,2446) scale(0.8,1)">-1.0</text>
<text text-anchor="middle" font-size="23.5" transform="translate(1473.45,2446) scale(0.8,1)">-0.5</text>
<text text-anchor="middle" font-size="23.5" transform="translate(1553.75,2446) scale(0.8,1)">0</text>
<text text-anchor="middle" font-size="23.5" transform="translate(1628.55,2446) scale(0.8,1)">0.5</text>
<text text-anchor="middle" font-size="23.5" transform="translate(1703.35,2446) scale(0.8,1)">1.0</text>
<text text-anchor="middle" font-size="21" transform="translate(1540.25,2404.75) scale(0.85,1)" fill="#fff">3</text>
<text text-anchor="middle" font-size="21" transform="translate(1593.5,2404.75) scale(0.85,1)">4</text>
<text x="1529" y="2481" font-size="26" textLength="55.75" lengthAdjust="spacingAndGlyphs">CCF</text>
</g>
</svg>
</body></html>
